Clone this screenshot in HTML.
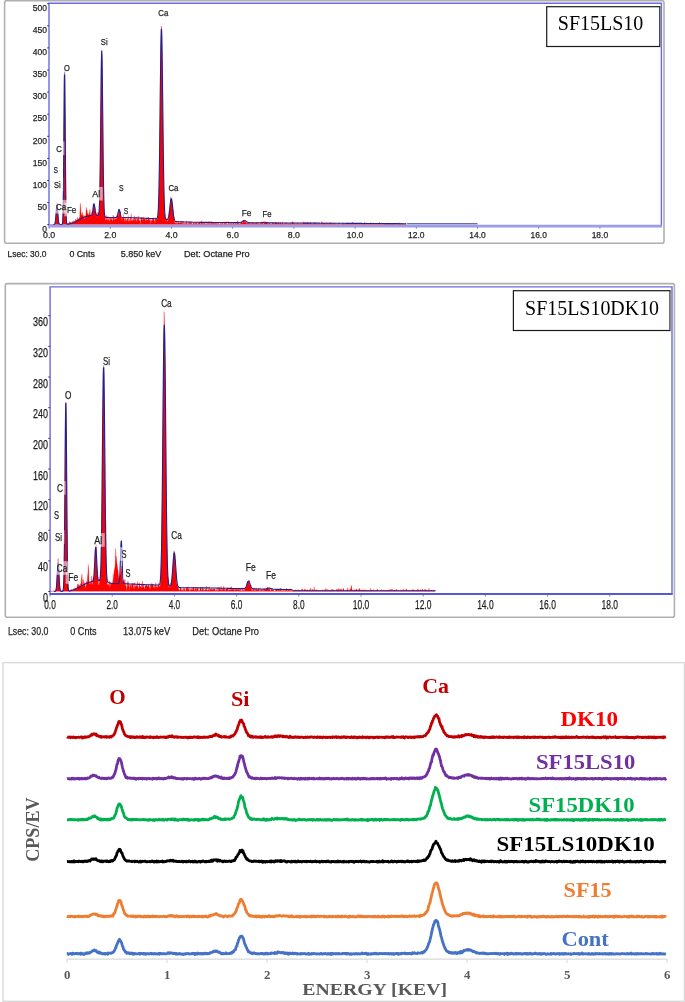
<!DOCTYPE html>
<html><head><meta charset="utf-8"><style>
html,body{margin:0;padding:0;background:#fff;width:685px;height:1002px;overflow:hidden}
svg{display:block;will-change:transform}
</style></head><body>
<svg width="685" height="1002" viewBox="0 0 685 1002">
<g font-family="Liberation Sans, sans-serif" font-size="9.5" fill="#1e1e1e" stroke="#1e1e1e" stroke-width="0.25"><rect x="4.6" y="0.6" width="659.4" height="242.7" rx="2" fill="#fff" stroke="#b0b0b0" stroke-width="1.6"/>
<path d="M48.5,224.5L48.5,224.5L48.87,224.5L49.23,224.5L49.6,224.5L49.97,224.5L50.34,224.5L50.7,224.5L51.07,224.38L51.44,224.5L51.8,224.5L52.17,224.5L52.54,224.5L52.91,224.5L53.27,224.5L53.64,224.5L54.01,224.47L54.38,224.5L54.74,224.06L55.11,222.92L55.48,220.29L55.84,216.21L56.21,209.96L56.58,205.59L56.95,202.4L57.31,204.1L57.68,208.99L58.05,215.66L58.41,219.43L58.78,222.26L59.15,223.73L59.52,224.5L59.88,224.5L60.25,224.5L60.62,224.5L60.98,224.37L61.35,224.5L61.72,224.5L62.09,224.22L62.45,223.63L62.82,218.75L63.19,205.6L63.56,174.74L63.92,124.28L64.29,83.41L64.66,70.39L65.02,105.01L65.39,151.37L65.76,192.62L66.13,212.3L66.49,221.39L66.86,223.9L67.23,224.5L67.59,223.1L67.96,223.75L68.33,223.78L68.7,223L69.06,222.97L69.43,222.17L69.8,221.38L70.16,222.49L70.53,221.92L70.9,222.46L71.27,222.2L71.63,223.19L72,222.8L72.37,222.43L72.74,221.34L73.1,220.9L73.47,223.02L73.84,222.34L74.2,220.67L74.57,223.27L74.94,221.43L75.31,220.82L75.67,219.01L76.04,219.45L76.41,220.48L76.77,220.33L77.14,219.97L77.51,217.38L77.88,219.81L78.24,219.43L78.61,218.29L78.98,218.74L79.34,218.29L79.71,216.57L80.08,207.35L80.45,203.44L80.81,210.18L81.18,215.41L81.55,213.76L81.92,215.86L82.28,212.09L82.65,214.8L83.02,216.44L83.38,215.21L83.75,218.39L84.12,215.25L84.49,218.82L84.85,219.37L85.22,216.06L85.59,217.05L85.95,213.27L86.32,207.33L86.69,209.79L87.06,210.2L87.42,213.24L87.79,213.78L88.16,215.13L88.52,215.16L88.89,213.37L89.26,213.73L89.63,211.84L89.99,209.37L90.36,214.68L90.73,216.84L91.1,214.16L91.46,216.22L91.83,212.07L92.2,212.64L92.56,211.08L92.93,209.93L93.3,203.29L93.67,207.83L94.03,205.31L94.4,203.32L94.77,210.92L95.13,207.49L95.5,215.46L95.87,212.06L96.24,216.23L96.6,213.4L96.97,214.9L97.34,217.12L97.7,212.77L98.07,212.31L98.44,214.98L98.81,214.16L99.17,210.54L99.54,204.38L99.91,184.73L100.28,162.53L100.64,128.03L101.01,93.08L101.38,63.62L101.74,54.29L102.11,59.2L102.48,92.27L102.85,126.88L103.21,163.37L103.58,187.77L103.95,204.93L104.31,213.42L104.68,215.99L105.05,216.87L105.42,218.51L105.78,220.6L106.15,219.66L106.52,215.32L106.88,219.52L107.25,220.26L107.62,217.83L107.99,215.98L108.35,221.12L108.72,218.96L109.09,219.76L109.46,221.81L109.82,217.44L110.19,218.78L110.56,218.62L110.92,220.08L111.29,217.95L111.66,219.71L112.03,219.01L112.39,220.73L112.76,220.92L113.13,215.03L113.49,219.68L113.86,216.28L114.23,218.85L114.6,219.57L114.96,219.69L115.33,217.67L115.7,219.29L116.06,218.94L116.43,218.42L116.8,215.93L117.17,216.03L117.53,215.36L117.9,215.47L118.27,215.23L118.64,209.56L119,208.75L119.37,210.92L119.74,210.74L120.1,211.92L120.47,212.26L120.84,214.89L121.21,218.41L121.57,215.57L121.94,220.83L122.31,217.25L122.67,217.98L123.04,217.33L123.41,212.97L123.78,216.26L124.14,220.43L124.51,221.91L124.88,217.46L125.24,220.72L125.61,218.95L125.98,217.44L126.35,221.86L126.71,221.11L127.08,218.48L127.45,218.87L127.82,219.39L128.18,214.3L128.55,220.5L128.92,221.67L129.28,219.29L129.65,220.73L130.02,221.93L130.39,218.14L130.75,219.16L131.12,213.58L131.49,220.82L131.85,220.25L132.22,220.86L132.59,220.67L132.96,218.79L133.32,220.51L133.69,218.53L134.06,218.58L134.42,215.65L134.79,221.62L135.16,217.67L135.53,219.38L135.89,219.26L136.26,221.76L136.63,220.06L137,216.55L137.36,219.43L137.73,219.16L138.1,219.82L138.46,217.34L138.83,215.78L139.2,221.03L139.57,220.56L139.93,220.55L140.3,224.5L140.67,220.32L141.03,217.15L141.4,219.37L141.77,217.51L142.14,221.08L142.5,217.58L142.87,219.25L143.24,219.46L143.6,216.73L143.97,219.51L144.34,218.23L144.71,218.68L145.07,219.26L145.44,221.4L145.81,218.8L146.18,220.83L146.54,217.86L146.91,219.06L147.28,219.96L147.64,219.76L148.01,219.77L148.38,216.92L148.75,217.38L149.11,220.59L149.48,218.56L149.85,219.23L150.21,224.19L150.58,219.48L150.95,220.01L151.32,219.79L151.68,221.71L152.05,220.4L152.42,220.27L152.78,218.05L153.15,219.47L153.52,220.04L153.89,217.56L154.25,220.97L154.62,220.71L154.99,223.04L155.36,217.56L155.72,218.55L156.09,218.62L156.46,218.96L156.82,219.68L157.19,219.02L157.56,218.61L157.93,216.01L158.29,210.64L158.66,199.31L159.03,186.55L159.39,166.62L159.76,140.04L160.13,108.05L160.5,70.6L160.86,45.52L161.23,25.78L161.6,27.56L161.96,46.22L162.33,69.49L162.7,99.55L163.07,134.78L163.43,163.09L163.8,185.28L164.17,200.17L164.54,212.57L164.9,215.96L165.27,219.52L165.64,218.53L166,221.62L166.37,219.85L166.74,218.51L167.11,221.16L167.47,221.36L167.84,219.72L168.21,219.13L168.57,219.17L168.94,213.92L169.31,209.76L169.68,209.7L170.04,205.88L170.41,203.61L170.78,196.83L171.14,199.78L171.51,199.78L171.88,198.08L172.25,204.37L172.61,205.34L172.98,208.68L173.35,213.95L173.72,216.43L174.08,216.79L174.45,220.95L174.82,222.35L175.18,223.82L175.55,222.46L175.92,220.89L176.29,221.58L176.65,223.85L177.02,223.22L177.39,223.38L177.75,222.46L178.12,223.06L178.49,222.54L178.86,222.51L179.22,223.21L179.59,222.93L179.96,222.38L180.32,223.01L180.69,222.35L181.06,220.82L181.43,222.29L181.79,222.91L182.16,224.5L182.53,220.93L182.9,224.5L183.26,224.5L183.63,222.1L184,222.28L184.36,223.24L184.73,224.5L185.1,223.51L185.47,223.86L185.83,222.45L186.2,220.71L186.57,222.92L186.93,224L187.3,224.43L187.67,223.23L188.04,223.36L188.4,224.41L188.77,223.06L189.14,224.42L189.5,222L189.87,222.06L190.24,222.04L190.61,223.7L190.97,222.66L191.34,223.35L191.71,223.62L192.08,223.57L192.44,224.5L192.81,224.27L193.18,222.39L193.54,223.43L193.91,223.01L194.28,222.19L194.65,224.5L195.01,224.07L195.38,223.07L195.75,222.85L196.11,223.65L196.48,222.2L196.85,223.05L197.22,223.99L197.58,224.24L197.95,222.45L198.32,222.81L198.68,224.5L199.05,221.9L199.42,222.67L199.79,221.91L200.15,223.68L200.52,223.59L200.89,224.44L201.26,220.7L201.62,223.47L201.99,221.67L202.36,223.96L202.72,223.13L203.09,224.5L203.46,223.69L203.83,222.3L204.19,224.5L204.56,222.21L204.93,222.96L205.29,224.36L205.66,223.81L206.03,223.77L206.4,223.36L206.76,223.85L207.13,224.15L207.5,223.62L207.86,222.7L208.23,224.5L208.6,223.36L208.97,221.38L209.33,224.5L209.7,223.31L210.07,223.97L210.44,224.3L210.8,222.46L211.17,223.84L211.54,221.81L211.9,224.1L212.27,222.93L212.64,223.55L213.01,224.08L213.37,222.74L213.74,223.48L214.11,222.72L214.47,223.37L214.84,224.41L215.21,223.43L215.58,223.28L215.94,222.38L216.31,224.24L216.68,222.91L217.04,224.5L217.41,222.69L217.78,224.41L218.15,224.5L218.51,223.4L218.88,222.24L219.25,224.5L219.62,224.42L219.98,224.08L220.35,224.46L220.72,222.03L221.08,224.14L221.45,224.06L221.82,222.77L222.19,222.68L222.55,222.92L222.92,224.31L223.29,224.27L223.65,224.5L224.02,221.52L224.39,223.67L224.76,223.12L225.12,223.39L225.49,223.2L225.86,223.31L226.22,221.49L226.59,224.38L226.96,224.2L227.33,224.35L227.69,224.5L228.06,221.28L228.43,222.56L228.8,224.3L229.16,224.5L229.53,223.71L229.9,222.02L230.26,224.5L230.63,222.86L231,224.41L231.37,222.36L231.73,224.42L232.1,223.65L232.47,224.5L232.83,224.27L233.2,222.04L233.57,222.59L233.94,223.77L234.3,224.22L234.67,224.5L235.04,223.11L235.4,223.42L235.77,223.47L236.14,223.48L236.51,224.47L236.87,223.46L237.24,223.43L237.61,220.63L237.98,221.61L238.34,223.52L238.71,224.12L239.08,223.43L239.44,223.91L239.81,223.99L240.18,223.27L240.55,224.1L240.91,222.37L241.28,222.86L241.65,222.22L242.01,222.41L242.38,222.62L242.75,222.52L243.12,221.53L243.48,220.57L243.85,220.64L244.22,220.79L244.58,222.13L244.95,220.24L245.32,222.43L245.69,222.01L246.05,222.01L246.42,224.03L246.79,222.27L247.16,222.48L247.52,223.01L247.89,223.44L248.26,223.53L248.62,222.76L248.99,223.6L249.36,223.21L249.73,223.34L250.09,224.5L250.46,223.23L250.83,223.33L251.19,223.6L251.56,223.88L251.93,222.29L252.3,223.46L252.66,223.04L253.03,223.25L253.4,223.21L253.76,223.12L254.13,224.09L254.5,223.72L254.87,222.89L255.23,223.09L255.6,223.3L255.97,223.5L256.34,222.99L256.7,222.41L257.07,222.56L257.44,223.28L257.8,224.5L258.17,222.63L258.54,223.63L258.91,224.5L259.27,223.15L259.64,224.5L260.01,224.5L260.37,224.04L260.74,222.27L261.11,223.74L261.48,223.1L261.84,221.69L262.21,221.76L262.58,223.24L262.94,223.29L263.31,224.15L263.68,223.57L264.05,222.5L264.41,222.51L264.78,222.77L265.15,222L265.52,222.71L265.88,223.08L266.25,222.44L266.62,222.36L266.98,222.3L267.35,222.98L267.72,223.68L268.09,222.18L268.45,224.39L268.82,224.5L269.19,223L269.55,223.59L269.92,223.27L270.29,224.5L270.66,223.88L271.02,224.1L271.39,224.34L271.76,224.5L272.12,223.87L272.49,222.77L272.86,223.23L273.23,223.27L273.59,223.59L273.96,222.9L274.33,224.5L274.7,223.69L275.06,223.1L275.43,222.98L275.8,222.07L276.16,222.58L276.53,223.31L276.9,223.32L277.27,222.89L277.63,224.07L278,223.63L278.37,222.8L278.73,221.87L279.1,223.74L279.47,223.64L279.84,223.43L280.2,222.42L280.57,223.63L280.94,222.31L281.3,224.46L281.67,223.77L282.04,223.79L282.41,221.82L282.77,222.7L283.14,224.5L283.51,224.42L283.88,223.32L284.24,224.2L284.61,224.5L284.98,222.45L285.34,223.19L285.71,223.2L286.08,224.04L286.45,222.73L286.81,223.84L287.18,222.68L287.55,224.43L287.91,224.38L288.28,223.46L288.65,224.25L289.02,223.05L289.38,223.42L289.75,224.44L290.12,223.51L290.48,223.95L290.85,222.85L291.22,224.2L291.59,224.03L291.95,222.61L292.32,221.72L292.69,221.93L293.06,223.6L293.42,223.47L293.79,222.34L294.16,223.77L294.52,223.17L294.89,223.56L295.26,223.28L295.63,224.37L295.99,224.5L296.36,224.5L296.73,223.1L297.09,224.32L297.46,223.03L297.83,223.49L298.2,223.15L298.56,223.96L298.93,223.25L299.3,224.44L299.66,223.99L300.03,224.5L300.4,222.72L300.77,223.71L301.13,224.32L301.5,223.27L301.87,223.88L302.24,223.1L302.6,224.5L302.97,224.5L303.34,224.02L303.7,221.56L304.07,222.73L304.44,223.8L304.81,223.1L305.17,221.97L305.54,223.9L305.91,223.46L306.27,222.69L306.64,223.29L307.01,223.15L307.38,224.14L307.74,222.1L308.11,222.28L308.48,223.24L308.84,223.15L309.21,224.5L309.58,223.19L309.95,223.89L310.31,223.36L310.68,221.97L311.05,224.01L311.42,224.5L311.78,223.42L312.15,224.35L312.52,224.01L312.88,224.24L313.25,224.02L313.62,224.5L313.99,222.73L314.35,223.53L314.72,222.82L315.09,222.1L315.45,223.73L315.82,224.5L316.19,223.61L316.56,224.5L316.92,224.17L317.29,223.69L317.66,224.5L318.02,223.47L318.39,224.5L318.76,223.52L319.13,223.85L319.49,224.02L319.86,223.82L320.23,224.21L320.6,224.27L320.96,224.5L321.33,223.79L321.7,221.39L322.06,222.15L322.43,222.69L322.8,223.2L323.17,224.33L323.53,222.6L323.9,223.83L324.27,223.84L324.63,222.74L325,223.71L325.37,222.97L325.74,223.86L326.1,224.5L326.47,224.09L326.84,221.94L327.2,223.85L327.57,223.99L327.94,223.29L328.31,223.23L328.67,223.77L329.04,223.97L329.41,222.58L329.78,223.59L330.14,223.71L330.51,222.03L330.88,224.35L331.24,223.2L331.61,224.23L331.98,222.62L332.35,224.5L332.71,224.35L333.08,224.24L333.45,223.29L333.81,223.34L334.18,222.71L334.55,224.5L334.92,223.23L335.28,224.06L335.65,224.36L336.02,223.4L336.38,224.18L336.75,224.5L337.12,224.13L337.49,224.5L337.85,224.35L338.22,223.54L338.59,223.59L338.96,222.59L339.32,224L339.69,224.23L340.06,224.44L340.42,224.5L340.79,224.5L341.16,223.51L341.53,224.36L341.89,224.5L342.26,223.31L342.63,223.94L342.99,222.88L343.36,223.78L343.73,223.37L344.1,223.83L344.46,222.9L344.83,223.53L345.2,223.56L345.56,223.55L345.93,224.5L346.3,224L346.67,224.07L347.03,223.71L347.4,224.5L347.77,222.61L348.14,223.8L348.5,224.5L348.87,224.5L349.24,224.1L349.6,223.95L349.97,224.44L350.34,223.82L350.71,224.38L351.07,223.47L351.44,224.45L351.81,223.92L352.17,222.39L352.54,221.92L352.91,224.5L353.28,224.26L353.64,224.5L354.01,223.3L354.38,224.5L354.74,224.28L355.11,223.93L355.48,224.5L355.85,223.5L356.21,224.28L356.58,224.5L356.95,224.5L357.32,223.75L357.68,223.81L358.05,224.06L358.42,224.5L358.78,224.28L359.15,223.32L359.52,223.51L359.89,223.99L360.25,224.5L360.62,223.46L360.99,224.37L361.35,224.5L361.72,224.5L362.09,222.86L362.46,223.78L362.82,223.08L363.19,224.31L363.56,223.25L363.92,224.4L364.29,224.07L364.66,222.1L365.03,223.39L365.39,223.61L365.76,224.02L366.13,223.72L366.5,222.77L366.86,224.33L367.23,224.5L367.6,224.18L367.96,223.96L368.33,223.89L368.7,223.01L369.07,223.75L369.43,223.38L369.8,224.13L370.17,223.35L370.53,222.45L370.9,223.42L371.27,223.8L371.64,223.88L372,222.69L372.37,224.5L372.74,224.08L373.1,223.66L373.47,222.78L373.84,224.32L374.21,223.78L374.57,223.76L374.94,223.92L375.31,224.11L375.68,224.5L376.04,224.03L376.41,223.38L376.78,224.5L377.14,224.19L377.51,223.54L377.88,224.5L378.25,223.89L378.61,224.5L378.98,223.22L379.35,222.38L379.71,222.59L380.08,223.65L380.45,223.51L380.82,223.95L381.18,223.97L381.55,222.94L381.92,224.5L382.28,223.3L382.65,224.08L383.02,223L383.39,223.92L383.75,224.5L384.12,223.86L384.49,223.54L384.86,224.03L385.22,223.72L385.59,224.43L385.96,224.5L386.32,223.44L386.69,223.58L387.06,223.97L387.43,224.02L387.79,222.86L388.16,224.39L388.53,224.5L388.89,224.21L389.26,223.26L389.63,224.5L390,223.26L390.36,224.13L390.73,224.5L391.1,223.22L391.46,224.16L391.83,224.5L392.2,224.34L392.57,223.46L392.93,223.28L393.3,224.39L393.67,223.83L394.04,223.62L394.4,224.5L394.77,223.87L395.14,224.13L395.5,224.48L395.87,224.45L396.24,224.07L396.61,224.1L396.97,224.5L397.34,224.41L397.71,223.37L398.07,223.98L398.44,223.53L398.81,223.32L399.18,223.74L399.54,222.61L399.91,224.5L400.28,223.6L400.64,224.35L401.01,222.9L401.38,223.01L401.75,224.5L402.11,224.5L402.48,223.71L402.85,223.63L403.22,223.66L403.58,224.2L403.95,223.86L404.32,223.73L404.68,224.21L405.05,223.49L405.42,224.5L405.79,223.74L406.15,224.5L406.15,224.5Z" fill="#ff0000" stroke="#ff2020" stroke-width="0.3"/>
<path d="M53.09,224.7L53.27,224.7L53.46,224.69L53.64,224.68L53.82,224.67L54.01,224.64L54.19,224.59L54.38,224.49L54.56,224.32L54.74,224.03L54.93,223.57L55.11,222.87L55.29,221.85L55.48,220.47L55.66,218.69L55.84,216.55L56.03,214.14L56.21,211.62L56.39,209.22L56.58,207.21L56.76,205.81L56.95,205.23L57.13,205.52L57.31,206.66L57.5,208.48L57.68,210.78L57.86,213.28L58.05,215.75L58.23,217.99L58.41,219.89L58.6,221.4L58.78,222.53L58.97,223.33L59.15,223.86L59.33,224.2L59.52,224.4L59.7,224.51L59.88,224.57L60.07,224.6L60.25,224.62L60.43,224.62L60.62,224.63L60.8,224.62L60.98,224.62L61.17,224.62L61.35,224.62L61.54,224.61L61.72,224.6L61.9,224.55L62.09,224.44L62.27,224.15L62.45,223.49L62.64,222.07L62.82,219.26L63,214.16L63.19,205.67L63.37,192.73L63.56,174.81L63.74,152.37L63.92,127.34L64.11,103.03L64.29,83.53L64.47,72.64L64.66,72.63L64.84,83.52L65.02,103.02L65.21,127.33L65.39,152.36L65.57,174.79L65.76,192.71L65.94,205.64L66.13,214.13L66.31,219.23L66.49,222.03L66.68,223.45L66.86,224.11L67.04,224.35L67.23,224.43L67.41,224.43L67.59,224.41L67.78,224.37L67.96,224.33L68.15,224.3L68.33,224.26L68.51,224.22L68.7,224.18L68.88,224.14L69.06,224.1L69.25,224.06L69.43,224.02L69.61,223.98L69.8,223.95L69.98,223.91L70.16,223.87L70.35,223.83L70.53,223.79L70.72,223.75L70.9,223.71L71.08,223.67L71.27,223.63L71.45,223.59L71.63,223.51L71.82,223.42L72,223.33L72.18,223.24L72.37,223.15L72.55,223.06L72.74,222.98L72.92,222.89L73.1,222.8L73.29,222.71L73.47,222.62L73.65,222.53L73.84,222.45L74.02,222.36L74.2,222.27L74.39,222.18L74.57,222.09L74.75,222L74.94,221.92L75.12,221.83L75.31,221.74L75.49,221.65L75.67,221.56L75.86,221.47L76.04,221.38L76.22,221.29L76.41,221.19L76.59,221.09L76.77,221L76.96,220.9L77.14,220.8L77.33,220.7L77.51,220.61L77.69,220.51L77.88,220.41L78.06,220.32L78.24,220.22L78.43,220.12L78.61,220.02L78.79,219.93L78.98,219.83L79.16,219.73L79.34,219.63L79.53,219.54L79.71,219.44L79.9,219.34L80.08,219.25L80.26,219.15L80.45,219.05L80.63,218.95L80.81,218.86L81,218.77L81.18,218.67L81.36,218.58L81.55,218.48L81.73,218.39L81.92,218.3L82.1,218.2L82.28,218.11L82.47,218.02L82.65,217.92L82.83,217.83L83.02,217.73L83.2,217.64L83.38,217.55L83.57,217.45L83.75,217.36L83.93,217.26L84.12,217.17L84.3,217.08L84.49,216.98L84.67,216.9L84.85,216.86L85.04,216.81L85.22,216.76L85.4,216.71L85.59,216.66L85.77,216.61L85.95,216.56L86.14,216.52L86.32,216.47L86.51,216.42L86.69,216.37L86.87,216.32L87.06,216.27L87.24,216.22L87.42,216.18L87.61,216.13L87.79,216.08L87.97,216.03L88.16,215.98L88.34,215.94L88.52,215.92L88.71,215.9L88.89,215.88L89.08,215.86L89.26,215.84L89.44,215.81L89.63,215.79L89.81,215.77L89.99,215.75L90.18,215.73L90.36,215.7L90.54,215.68L90.73,215.65L90.91,215.6L91.1,215.55L91.28,215.46L91.46,215.33L91.65,215.13L91.83,214.84L92.01,214.42L92.2,213.83L92.38,213.06L92.56,212.08L92.75,210.92L92.93,209.6L93.11,208.22L93.3,206.86L93.48,205.65L93.67,204.7L93.85,204.11L94.03,203.97L94.22,204.27L94.4,205L94.58,206.06L94.77,207.35L94.95,208.74L95.13,210.11L95.32,211.37L95.5,212.47L95.69,213.36L95.87,214.05L96.05,214.56L96.24,214.92L96.42,215.16L96.6,215.32L96.79,215.42L96.97,215.47L97.15,215.51L97.34,215.52L97.52,215.53L97.7,215.52L97.89,215.49L98.07,215.42L98.26,215.28L98.44,215.02L98.62,214.56L98.81,213.75L98.99,212.43L99.17,210.33L99.36,207.13L99.54,202.46L99.72,195.91L99.91,187.12L100.09,175.82L100.28,161.96L100.46,145.78L100.64,127.89L100.83,109.23L101.01,91.05L101.19,74.78L101.38,61.89L101.56,53.61L101.74,50.8L101.93,53.75L102.11,62.17L102.29,75.2L102.48,91.61L102.66,109.94L102.85,128.74L103.03,146.75L103.21,163.01L103.4,176.94L103.58,188.31L103.76,197.18L103.95,203.81L104.13,208.55L104.31,211.83L104.5,214L104.68,215.41L104.87,216.28L105.05,216.83L105.23,217.12L105.42,217.28L105.6,217.36L105.78,217.41L105.97,217.43L106.15,217.45L106.33,217.46L106.52,217.47L106.7,217.48L106.88,217.49L107.07,217.5L107.25,217.51L107.44,217.52L107.62,217.53L107.8,217.54L107.99,217.55L108.17,217.55L108.35,217.56L108.54,217.57L108.72,217.58L108.9,217.59L109.09,217.6L109.27,217.61L109.46,217.62L109.64,217.63L109.82,217.63L110.01,217.63L110.19,217.63L110.37,217.62L110.56,217.62L110.74,217.62L110.92,217.62L111.11,217.62L111.29,217.62L111.47,217.62L111.66,217.62L111.84,217.62L112.03,217.62L112.21,217.62L112.39,217.62L112.58,217.61L112.76,217.61L112.94,217.61L113.13,217.61L113.31,217.61L113.49,217.61L113.68,217.61L113.86,217.61L114.05,217.61L114.23,217.61L114.41,217.6L114.6,217.6L114.78,217.6L114.96,217.6L115.15,217.59L115.33,217.59L115.51,217.57L115.7,217.55L115.88,217.52L116.06,217.46L116.25,217.38L116.43,217.26L116.62,217.08L116.8,216.84L116.98,216.52L117.17,216.1L117.35,215.58L117.53,214.95L117.72,214.24L117.9,213.45L118.08,212.62L118.27,211.81L118.45,211.06L118.64,210.42L118.82,209.95L119,209.68L119.19,209.64L119.37,209.83L119.55,210.24L119.74,210.82L119.92,211.54L120.1,212.34L120.29,213.16L120.47,213.97L120.65,214.71L120.84,215.36L121.02,215.92L121.21,216.37L121.39,216.72L121.57,216.99L121.76,217.18L121.94,217.32L122.12,217.41L122.31,217.47L122.49,217.51L122.67,217.53L122.86,217.55L123.04,217.55L123.23,217.56L123.41,217.56L123.59,217.56L123.78,217.56L123.96,217.56L124.14,217.56L124.33,217.56L124.51,217.56L124.69,217.56L124.88,217.55L125.06,217.55L125.24,217.55L125.43,217.55L125.61,217.55L125.8,217.55L125.98,217.55L126.16,217.55L126.35,217.55L126.53,217.55L126.71,217.55L126.9,217.55L127.08,217.54L127.26,217.54L127.45,217.54L127.63,217.54L127.82,217.54L128,217.54L128.18,217.54L128.37,217.55L128.55,217.56L128.73,217.57L128.92,217.58L129.1,217.58L129.28,217.59L129.47,217.6L129.65,217.61L129.83,217.62L130.02,217.62L130.2,217.63L130.39,217.64L130.57,217.65L130.75,217.66L130.94,217.66L131.12,217.67L131.3,217.68L131.49,217.69L131.67,217.7L131.85,217.7L132.04,217.71L132.22,217.72L132.41,217.73L132.59,217.74L132.77,217.74L132.96,217.75L133.14,217.76L133.32,217.77L133.51,217.78L133.69,217.78L133.87,217.79L134.06,217.8L134.24,217.81L134.42,217.82L134.61,217.82L134.79,217.83L134.98,217.84L135.16,217.85L135.34,217.86L135.53,217.86L135.71,217.87L135.89,217.88L136.08,217.89L136.26,217.89L136.44,217.9L136.63,217.91L136.81,217.92L137,217.93L137.18,217.93L137.36,217.94L137.55,217.95L137.73,217.96L137.91,217.97L138.1,217.97L138.28,217.98L138.46,217.99L138.65,218L138.83,218.01L139.01,218.01L139.2,218.02L139.38,218.03L139.57,218.04L139.75,218.05L139.93,218.05L140.12,218.06L140.3,218.07L140.48,218.08L140.67,218.09L140.85,218.09L141.03,218.1L141.22,218.11L141.4,218.12L141.59,218.13L141.77,218.14L141.95,218.14L142.14,218.15L142.32,218.16L142.5,218.17L142.69,218.18L142.87,218.19L143.05,218.19L143.24,218.2L143.42,218.21L143.6,218.22L143.79,218.23L143.97,218.24L144.16,218.24L144.34,218.25L144.52,218.26L144.71,218.27L144.89,218.28L145.07,218.28L145.26,218.29L145.44,218.3L145.62,218.31L145.81,218.32L145.99,218.33L146.18,218.33L146.36,218.34L146.54,218.35L146.73,218.36L146.91,218.37L147.09,218.38L147.28,218.38L147.46,218.39L147.64,218.4L147.83,218.41L148.01,218.42L148.19,218.42L148.38,218.43L148.56,218.44L148.75,218.45L148.93,218.46L149.11,218.47L149.3,218.47L149.48,218.48L149.66,218.49L149.85,218.5L150.03,218.51L150.21,218.52L150.4,218.52L150.58,218.53L150.77,218.54L150.95,218.55L151.13,218.56L151.32,218.57L151.5,218.57L151.68,218.58L151.87,218.59L152.05,218.6L152.23,218.61L152.42,218.61L152.6,218.62L152.78,218.63L152.97,218.64L153.15,218.65L153.34,218.66L153.52,218.66L153.7,218.67L153.89,218.68L154.07,218.69L154.25,218.7L154.44,218.7L154.62,218.71L154.8,218.72L154.99,218.73L155.17,218.74L155.36,218.74L155.54,218.75L155.72,218.75L155.91,218.75L156.09,218.74L156.27,218.73L156.46,218.69L156.64,218.62L156.82,218.51L157.01,218.33L157.19,218.03L157.37,217.57L157.56,216.87L157.74,215.85L157.93,214.38L158.11,212.31L158.29,209.48L158.48,205.68L158.66,200.71L158.84,194.38L159.03,186.5L159.21,176.95L159.39,165.67L159.58,152.73L159.76,138.3L159.95,122.71L160.13,106.42L160.31,90.03L160.5,74.25L160.68,59.81L160.86,47.46L161.05,37.89L161.23,31.64L161.41,29.1L161.6,30.41L161.78,35.49L161.96,44.06L162.15,55.59L162.33,69.46L162.52,84.93L162.7,101.23L162.88,117.66L163.07,133.58L163.25,148.47L163.43,161.96L163.62,173.83L163.8,183.99L163.98,192.44L164.17,199.3L164.35,204.73L164.54,208.93L164.72,212.09L164.9,214.43L165.09,216.11L165.27,217.3L165.45,218.12L165.64,218.68L165.82,219.05L166,219.29L166.19,219.44L166.37,219.54L166.55,219.59L166.74,219.61L166.92,219.6L167.11,219.56L167.29,219.49L167.47,219.37L167.66,219.19L167.84,218.95L168.02,218.61L168.21,218.17L168.39,217.61L168.57,216.9L168.76,216.03L168.94,215L169.13,213.79L169.31,212.42L169.49,210.92L169.68,209.31L169.86,207.62L170.04,205.92L170.23,204.26L170.41,202.71L170.59,201.34L170.78,200.23L170.96,199.42L171.14,198.96L171.33,198.87L171.51,199.17L171.7,199.84L171.88,200.85L172.06,202.14L172.25,203.66L172.43,205.34L172.61,207.11L172.8,208.9L172.98,210.66L173.16,212.32L173.35,213.86L173.53,215.24L173.72,216.46L173.9,217.5L174.08,218.38L174.27,219.1L174.45,219.69L174.63,220.16L174.82,220.53L175,220.82L175.18,221.04L175.37,221.21L175.55,221.34L175.73,221.41L175.92,221.46L176.1,221.5L176.29,221.53L176.47,221.55L176.65,221.56L176.84,221.58L177.02,221.59L177.2,221.6L177.39,221.61L177.57,221.62L177.75,221.63L177.94,221.64L178.12,221.65L178.31,221.66L178.49,221.67L178.67,221.68L178.86,221.68L179.04,221.69L179.22,221.7L179.41,221.71L179.59,221.72L179.77,221.73L179.96,221.74L180.14,221.75L180.32,221.76L180.51,221.77L180.69,221.78L180.88,221.78L181.06,221.79L181.24,221.8L181.43,221.81L181.61,221.82L181.79,221.83L181.98,221.84L182.16,221.85L182.34,221.86L182.53,221.87L182.71,221.88L182.9,221.88L183.08,221.89L183.26,221.9L183.45,221.91L183.63,221.92L183.81,221.93L184,221.94L184.18,221.95L184.36,221.96L184.55,221.97L184.73,221.98L184.91,221.98L185.1,221.99L185.28,222L185.47,222.01L185.65,222.02L185.83,222.03L186.02,222.04L186.2,222.05L186.38,222.05L186.57,222.06L186.75,222.06L186.93,222.06L187.12,222.07L187.3,222.07L187.49,222.08L187.67,222.08L187.85,222.08L188.04,222.09L188.22,222.09L188.4,222.1L188.59,222.1L188.77,222.1L188.95,222.11L189.14,222.11L189.32,222.12L189.5,222.12L189.69,222.12L189.87,222.13L190.06,222.13L190.24,222.14L190.42,222.14L190.61,222.14L190.79,222.15L190.97,222.15L191.16,222.16L191.34,222.16L191.52,222.16L191.71,222.17L191.89,222.17L192.08,222.18L192.26,222.18L192.44,222.18L192.63,222.19L192.81,222.19L192.99,222.2L193.18,222.2L193.36,222.2L193.54,222.21L193.73,222.21L193.91,222.22L194.09,222.22L194.28,222.22L194.46,222.23L194.65,222.23L194.83,222.23L195.01,222.24L195.2,222.24L195.38,222.25L195.56,222.25L195.75,222.25L195.93,222.26L196.11,222.26L196.3,222.27L196.48,222.27L196.67,222.27L196.85,222.28L197.03,222.28L197.22,222.29L197.4,222.29L197.58,222.29L197.77,222.3L197.95,222.3L198.13,222.31L198.32,222.31L198.5,222.31L198.68,222.32L198.87,222.32L199.05,222.32L199.24,222.32L199.42,222.32L199.6,222.32L199.79,222.32L199.97,222.33L200.15,222.33L200.34,222.33L200.52,222.33L200.7,222.33L200.89,222.33L201.07,222.33L201.26,222.34L201.44,222.34L201.62,222.34L201.81,222.34L201.99,222.34L202.17,222.34L202.36,222.34L202.54,222.35L202.72,222.35L202.91,222.35L203.09,222.35L203.27,222.35L203.46,222.35L203.64,222.35L203.83,222.36L204.01,222.36L204.19,222.36L204.38,222.36L204.56,222.36L204.74,222.36L204.93,222.36L205.11,222.37L205.29,222.37L205.48,222.37L205.66,222.37L205.85,222.37L206.03,222.37L206.21,222.37L206.4,222.38L206.58,222.38L206.76,222.38L206.95,222.38L207.13,222.38L207.31,222.38L207.5,222.38L207.68,222.39L207.86,222.39L208.05,222.39L208.23,222.39L208.42,222.39L208.6,222.39L208.78,222.39L208.97,222.4L209.15,222.4L209.33,222.4L209.52,222.4L209.7,222.4L209.88,222.4L210.07,222.4L210.25,222.41L210.44,222.41L210.62,222.41L210.8,222.41L210.99,222.41L211.17,222.41L211.35,222.41L211.54,222.42L211.72,222.42L211.9,222.42L212.09,222.42L212.27,222.42L212.45,222.42L212.64,222.43L212.82,222.43L213.01,222.43L213.19,222.43L213.37,222.43L213.56,222.43L213.74,222.43L213.92,222.44L214.11,222.44L214.29,222.44L214.47,222.44L214.66,222.44L214.84,222.44L215.03,222.44L215.21,222.45L215.39,222.45L215.58,222.45L215.76,222.45L215.94,222.45L216.13,222.45L216.31,222.45L216.49,222.46L216.68,222.46L216.86,222.46L217.04,222.46L217.23,222.46L217.41,222.46L217.6,222.46L217.78,222.47L217.96,222.47L218.15,222.47L218.33,222.47L218.51,222.47L218.7,222.47L218.88,222.47L219.06,222.48L219.25,222.48L219.43,222.48L219.62,222.48L219.8,222.48L219.98,222.48L220.17,222.48L220.35,222.49L220.53,222.49L220.72,222.49L220.9,222.49L221.08,222.49L221.27,222.49L221.45,222.49L221.63,222.5L221.82,222.5L222,222.5L222.19,222.5L222.37,222.5L222.55,222.5L222.74,222.5L222.92,222.51L223.1,222.51L223.29,222.51L223.47,222.51L223.65,222.51L223.84,222.51L224.02,222.51L224.21,222.52L224.39,222.52L224.57,222.52L224.76,222.52L224.94,222.52L225.12,222.52L225.31,222.52L225.49,222.53L225.67,222.53L225.86,222.53L226.04,222.53L226.22,222.53L226.41,222.53L226.59,222.54L226.78,222.54L226.96,222.54L227.14,222.54L227.33,222.54L227.51,222.54L227.69,222.54L227.88,222.55L228.06,222.55L228.24,222.55L228.43,222.55L228.61,222.55L228.8,222.55L228.98,222.55L229.16,222.56L229.35,222.56L229.53,222.56L229.71,222.56L229.9,222.56L230.08,222.56L230.26,222.56L230.45,222.57L230.63,222.57L230.81,222.57L231,222.57L231.18,222.57L231.37,222.57L231.55,222.57L231.73,222.58L231.92,222.58L232.1,222.58L232.28,222.58L232.47,222.58L232.65,222.58L232.83,222.58L233.02,222.59L233.2,222.59L233.39,222.59L233.57,222.59L233.75,222.59L233.94,222.59L234.12,222.59L234.3,222.6L234.49,222.6L234.67,222.6L234.85,222.6L235.04,222.6L235.22,222.6L235.4,222.6L235.59,222.61L235.77,222.61L235.96,222.61L236.14,222.61L236.32,222.61L236.51,222.61L236.69,222.61L236.87,222.61L237.06,222.62L237.24,222.62L237.42,222.62L237.61,222.62L237.79,222.62L237.98,222.62L238.16,222.62L238.34,222.62L238.53,222.61L238.71,222.61L238.89,222.6L239.08,222.6L239.26,222.59L239.44,222.57L239.63,222.55L239.81,222.53L239.99,222.5L240.18,222.47L240.36,222.43L240.55,222.38L240.73,222.33L240.91,222.26L241.1,222.18L241.28,222.1L241.46,222L241.65,221.9L241.83,221.78L242.01,221.66L242.2,221.54L242.38,221.41L242.57,221.27L242.75,221.14L242.93,221.01L243.12,220.89L243.3,220.78L243.48,220.68L243.67,220.6L243.85,220.54L244.03,220.49L244.22,220.47L244.4,220.46L244.58,220.48L244.77,220.53L244.95,220.59L245.14,220.67L245.32,220.76L245.5,220.87L245.69,220.99L245.87,221.12L246.05,221.26L246.24,221.39L246.42,221.53L246.6,221.66L246.79,221.78L246.97,221.9L247.16,222.01L247.34,222.11L247.52,222.21L247.71,222.29L247.89,222.36L248.07,222.42L248.26,222.48L248.44,222.52L248.62,222.56L248.81,222.59L248.99,222.62L249.17,222.64L249.36,222.66L249.54,222.67L249.73,222.68L249.91,222.69L250.09,222.7L250.28,222.71L250.46,222.71L250.64,222.72L250.83,222.72L251.01,222.72L251.19,222.72L251.38,222.73L251.56,222.73L251.75,222.73L251.93,222.73L252.11,222.73L252.3,222.73L252.48,222.74L252.66,222.74L252.85,222.74L253.03,222.74L253.21,222.74L253.4,222.74L253.58,222.74L253.76,222.75L253.95,222.75L254.13,222.75L254.32,222.75L254.5,222.75L254.68,222.75L254.87,222.75L255.05,222.76L255.23,222.76L255.42,222.76L255.6,222.76L255.78,222.76L255.97,222.76L256.15,222.76L256.34,222.77L256.52,222.77L256.7,222.77L256.89,222.77L257.07,222.77L257.25,222.77L257.44,222.77L257.62,222.77L257.8,222.78L257.99,222.78L258.17,222.78L258.35,222.78L258.54,222.78L258.72,222.78L258.91,222.78L259.09,222.78L259.27,222.78L259.46,222.78L259.64,222.78L259.82,222.77L260.01,222.77L260.19,222.76L260.37,222.76L260.56,222.75L260.74,222.74L260.93,222.72L261.11,222.71L261.29,222.69L261.48,222.67L261.66,222.65L261.84,222.63L262.03,222.6L262.21,222.57L262.39,222.54L262.58,222.51L262.76,222.48L262.94,222.45L263.13,222.42L263.31,222.39L263.5,222.37L263.68,222.35L263.86,222.33L264.05,222.31L264.23,222.3L264.41,222.3L264.6,222.3L264.78,222.3L264.96,222.32L265.15,222.33L265.33,222.35L265.52,222.38L265.7,222.4L265.88,222.43L266.07,222.47L266.25,222.5L266.43,222.53L266.62,222.57L266.8,222.6L266.98,222.63L267.17,222.66L267.35,222.69L267.53,222.71L267.72,222.73L267.9,222.76L268.09,222.77L268.27,222.79L268.45,222.8L268.64,222.82L268.82,222.83L269,222.84L269.19,222.84L269.37,222.85L269.55,222.85L269.74,222.86L269.92,222.86L270.11,222.87L270.29,222.87L270.47,222.87L270.66,222.87L270.84,222.88L271.02,222.88L271.21,222.88L271.39,222.88L271.57,222.88L271.76,222.88L271.94,222.89L272.12,222.89L272.31,222.89L272.49,222.89L272.68,222.89L272.86,222.89L273.04,222.89L273.23,222.9L273.41,222.9L273.59,222.9L273.78,222.9L273.96,222.9L274.14,222.9L274.33,222.9L274.51,222.91L274.7,222.91L274.88,222.91L275.06,222.91L275.25,222.91L275.43,222.91L275.61,222.91L275.8,222.92L275.98,222.92L276.16,222.92L276.35,222.92L276.53,222.92L276.71,222.92L276.9,222.92L277.08,222.92L277.27,222.93L277.45,222.93L277.63,222.93L277.82,222.93L278,222.93L278.18,222.93L278.37,222.93L278.55,222.94L278.73,222.94L278.92,222.94L279.1,222.94L279.29,222.94L279.47,222.94L279.65,222.94L279.84,222.94L280.02,222.94L280.2,222.94L280.39,222.95L280.57,222.95L280.75,222.95L280.94,222.95L281.12,222.95L281.3,222.95L281.49,222.95L281.67,222.95L281.86,222.95L282.04,222.96L282.22,222.96L282.41,222.96L282.59,222.96L282.77,222.96L282.96,222.96L283.14,222.96L283.32,222.96L283.51,222.96L283.69,222.96L283.88,222.97L284.06,222.97L284.24,222.97L284.43,222.97L284.61,222.97L284.79,222.97L284.98,222.97L285.16,222.97L285.34,222.97L285.53,222.98L285.71,222.98L285.89,222.98L286.08,222.98L286.26,222.98L286.45,222.98L286.63,222.98L286.81,222.98L287,222.98L287.18,222.99L287.36,222.99L287.55,222.99L287.73,222.99L287.91,222.99L288.1,222.99L288.28,222.99L288.47,222.99L288.65,222.99L288.83,222.99L289.02,223L289.2,223L289.38,223L289.57,223L289.75,223L289.93,223L290.12,223L290.3,223L290.48,223L290.67,223.01L290.85,223.01L291.04,223.01L291.22,223.01L291.4,223.01L291.59,223.01L291.77,223.01L291.95,223.01L292.14,223.01L292.32,223.01L292.5,223.02L292.69,223.02L292.87,223.02L293.06,223.02L293.24,223.02L293.42,223.02L293.61,223.02L293.79,223.02L293.97,223.02L294.16,223.03L294.34,223.03L294.52,223.03L294.71,223.03L294.89,223.03L295.07,223.03L295.26,223.03L295.44,223.03L295.63,223.03L295.81,223.03L295.99,223.04L296.18,223.04L296.36,223.04L296.54,223.04L296.73,223.04L296.91,223.04L297.09,223.04L297.28,223.04L297.46,223.04L297.65,223.05L297.83,223.05L298.01,223.05L298.2,223.05L298.38,223.05L298.56,223.05L298.75,223.05L298.93,223.05L299.11,223.05L299.3,223.06L299.48,223.06L299.66,223.06L299.85,223.06L300.03,223.06L300.22,223.06L300.4,223.06L300.58,223.06L300.77,223.06L300.95,223.06L301.13,223.07L301.32,223.07L301.5,223.07L301.68,223.07L301.87,223.07L302.05,223.07L302.24,223.07L302.42,223.07L302.6,223.07L302.79,223.08L302.97,223.08L303.15,223.08L303.34,223.08L303.52,223.08L303.7,223.08L303.89,223.08L304.07,223.08L304.25,223.08L304.44,223.08L304.62,223.09L304.81,223.09L304.99,223.09L305.17,223.09L305.36,223.09L305.54,223.09L305.72,223.09L305.91,223.09L306.09,223.09L306.27,223.1L306.46,223.1L306.64,223.1L306.83,223.1L307.01,223.1L307.19,223.1L307.38,223.1L307.56,223.1L307.74,223.1L307.93,223.1L308.11,223.11L308.29,223.11L308.48,223.11L308.66,223.11L308.84,223.11L309.03,223.11L309.21,223.11L309.4,223.11L309.58,223.11L309.76,223.12L309.95,223.12L310.13,223.12L310.31,223.12L310.5,223.12L310.68,223.12L310.86,223.12L311.05,223.12L311.23,223.12L311.42,223.13L311.6,223.13L311.78,223.13L311.97,223.13L312.15,223.13L312.33,223.13L312.52,223.13L312.7,223.13L312.88,223.13L313.07,223.13L313.25,223.14L313.43,223.14L313.62,223.14L313.8,223.14L313.99,223.14L314.17,223.14L314.35,223.14L314.54,223.14L314.72,223.14L314.9,223.15L315.09,223.15L315.27,223.15L315.45,223.15L315.64,223.15L315.82,223.15L316.01,223.15L316.19,223.15L316.37,223.15L316.56,223.15L316.74,223.16L316.92,223.16L317.11,223.16L317.29,223.16L317.47,223.16L317.66,223.16L317.84,223.16L318.02,223.16L318.21,223.16L318.39,223.17L318.58,223.17L318.76,223.17L318.94,223.17L319.13,223.17L319.31,223.17L319.49,223.17L319.68,223.17L319.86,223.17L320.04,223.17L320.23,223.18L320.41,223.18L320.6,223.18L320.78,223.18L320.96,223.18L321.15,223.18L321.33,223.18L321.51,223.18L321.7,223.18L321.88,223.19L322.06,223.19L322.25,223.19L322.43,223.19L322.61,223.19L322.8,223.19L322.98,223.19L323.17,223.19L323.35,223.19L323.53,223.2L323.72,223.2L323.9,223.2L324.08,223.2L324.27,223.2L324.45,223.2L324.63,223.2L324.82,223.2L325,223.2L325.19,223.2L325.37,223.21L325.55,223.21L325.74,223.21L325.92,223.21L326.1,223.21L326.29,223.21L326.47,223.21L326.65,223.21L326.84,223.21L327.02,223.22L327.2,223.22L327.39,223.22L327.57,223.22L327.76,223.22L327.94,223.22L328.12,223.22L328.31,223.22L328.49,223.22L328.67,223.22L328.86,223.23L329.04,223.23L329.22,223.23L329.41,223.23L329.59,223.23L329.78,223.23L329.96,223.23L330.14,223.23L330.33,223.23L330.51,223.24L330.69,223.24L330.88,223.24L331.06,223.24L331.24,223.24L331.43,223.24L331.61,223.24L331.79,223.24L331.98,223.24L332.16,223.24L332.35,223.25L332.53,223.25L332.71,223.25L332.9,223.25L333.08,223.25L333.26,223.25L333.45,223.25L333.63,223.25L333.81,223.25L334,223.26L334.18,223.26L334.37,223.26L334.55,223.26L334.73,223.26L334.92,223.26L335.1,223.26L335.28,223.26L335.47,223.26L335.65,223.27L335.83,223.27L336.02,223.27L336.2,223.27L336.38,223.27L336.57,223.27L336.75,223.27L336.94,223.27L337.12,223.27L337.3,223.27L337.49,223.28L337.67,223.28L337.85,223.28L338.04,223.28L338.22,223.28L338.4,223.28L338.59,223.28L338.77,223.28L338.96,223.28L339.14,223.29L339.32,223.29L339.51,223.29L339.69,223.29L339.87,223.29L340.06,223.29L340.24,223.29L340.42,223.29L340.61,223.29L340.79,223.29L340.97,223.3L341.16,223.3L341.34,223.3L341.53,223.3L341.71,223.3L341.89,223.3L342.08,223.3L342.26,223.3L342.44,223.3L342.63,223.31L342.81,223.31L342.99,223.31L343.18,223.31L343.36,223.31L343.55,223.31L343.73,223.31L343.91,223.31L344.1,223.31L344.28,223.31L344.46,223.32L344.65,223.32L344.83,223.32L345.01,223.32L345.2,223.32L345.38,223.32L345.56,223.32L345.75,223.32L345.93,223.32L346.12,223.33L346.3,223.33L346.48,223.33L346.67,223.33L346.85,223.33L347.03,223.33L347.22,223.33L347.4,223.33L347.58,223.33L347.77,223.34L347.95,223.34L348.14,223.34L348.32,223.34L348.5,223.34L348.69,223.34L348.87,223.34L349.05,223.34L349.24,223.34L349.42,223.34L349.6,223.35L349.79,223.35L349.97,223.35L350.15,223.35L350.34,223.35L350.52,223.35L350.71,223.35L350.89,223.35L351.07,223.35L351.26,223.36L351.44,223.36L351.62,223.36L351.81,223.36L351.99,223.36L352.17,223.36L352.36,223.36L352.54,223.36L352.73,223.36L352.91,223.36L353.09,223.37L353.28,223.37L353.46,223.37L353.64,223.37L353.83,223.37L354.01,223.37L354.19,223.37L354.38,223.37L354.56,223.37L354.74,223.38L354.93,223.38L355.11,223.38L355.3,223.38L355.48,223.38L355.66,223.38L355.85,223.38L356.03,223.38L356.21,223.39L356.4,223.39L356.58,223.39L356.76,223.39L356.95,223.39L357.13,223.39L357.32,223.39L357.5,223.39L357.68,223.4L357.87,223.4L358.05,223.4L358.23,223.4L358.42,223.4L358.6,223.4L358.78,223.4L358.97,223.4L359.15,223.41L359.33,223.41L359.52,223.41L359.7,223.41L359.89,223.41L360.07,223.41L360.25,223.41L360.44,223.41L360.62,223.42L360.8,223.42L360.99,223.42L361.17,223.42L361.35,223.42L361.54,223.42L361.72,223.42L361.91,223.42L362.09,223.43L362.27,223.43L362.46,223.43L362.64,223.43L362.82,223.43L363.01,223.43L363.19,223.43L363.37,223.43L363.56,223.44L363.74,223.44L363.92,223.44L364.11,223.44L364.29,223.44L364.48,223.44L364.66,223.44L364.84,223.44L365.03,223.45L365.21,223.45L365.39,223.45L365.58,223.45L365.76,223.45L365.94,223.45L366.13,223.45L366.31,223.45L366.5,223.46L366.68,223.46L366.86,223.46L367.05,223.46L367.23,223.46L367.41,223.46L367.6,223.46L367.78,223.46L367.96,223.47L368.15,223.47L368.33,223.47L368.51,223.47L368.7,223.47L368.88,223.47L369.07,223.47L369.25,223.47L369.43,223.48L369.62,223.48L369.8,223.48L369.98,223.48L370.17,223.48L370.35,223.48L370.53,223.48L370.72,223.48L370.9,223.49L371.09,223.49L371.27,223.49L371.45,223.49L371.64,223.49L371.82,223.49L372,223.49L372.19,223.49L372.37,223.5L372.55,223.5L372.74,223.5L372.92,223.5L373.1,223.5L373.29,223.5L373.47,223.5L373.66,223.5L373.84,223.51L374.02,223.51L374.21,223.51L374.39,223.51L374.57,223.51L374.76,223.51L374.94,223.51L375.12,223.51L375.31,223.52L375.49,223.52L375.68,223.52L375.86,223.52L376.04,223.52L376.23,223.52L376.41,223.52L376.59,223.52L376.78,223.53L376.96,223.53L377.14,223.53L377.33,223.53L377.51,223.53L377.69,223.53L377.88,223.53L378.06,223.53L378.25,223.54L378.43,223.54L378.61,223.54L378.8,223.54L378.98,223.54L379.16,223.54L379.35,223.54L379.53,223.54L379.71,223.55L379.9,223.55L380.08,223.55L380.27,223.55L380.45,223.55L380.63,223.55L380.82,223.55L381,223.55L381.18,223.56L381.37,223.56L381.55,223.56L381.73,223.56L381.92,223.56L382.1,223.56L382.28,223.56L382.47,223.56L382.65,223.57L382.84,223.57L383.02,223.57L383.2,223.57L383.39,223.57L383.57,223.57L383.75,223.57L383.94,223.57L384.12,223.58L384.3,223.58L384.49,223.58L384.67,223.58L384.86,223.58L385.04,223.58L385.22,223.58L385.41,223.58L385.59,223.59L385.77,223.59L385.96,223.59L386.14,223.59L386.32,223.59L386.51,223.59L386.69,223.59L386.87,223.59L387.06,223.6L387.24,223.6L387.43,223.6L387.61,223.6L387.79,223.6L387.98,223.6L388.16,223.6L388.34,223.6L388.53,223.61L388.71,223.61L388.89,223.61L389.08,223.61L389.26,223.61L389.45,223.61L389.63,223.61L389.81,223.61L390,223.62L390.18,223.62L390.36,223.62L390.55,223.62L390.73,223.62L390.91,223.62L391.1,223.62L391.28,223.62L391.46,223.63L391.65,223.63L391.83,223.63L392.02,223.63L392.2,223.63L392.38,223.63L392.57,223.63L392.75,223.63L392.93,223.64L393.12,223.64L393.3,223.64L393.48,223.64L393.67,223.64L393.85,223.64L394.04,223.64L394.22,223.64L394.4,223.65L394.59,223.65L394.77,223.65L394.95,223.65L395.14,223.65L395.32,223.65L395.5,223.65L395.69,223.65L395.87,223.66L396.05,223.66L396.24,223.66L396.42,223.66L396.61,223.66L396.79,223.66L396.97,223.66L397.16,223.66L397.34,223.67L397.52,223.67L397.71,223.67L397.89,223.67L398.07,223.67L398.26,223.67L398.44,223.67L398.63,223.67L398.81,223.68L398.99,223.68L399.18,223.68L399.36,223.68L399.54,223.68L399.73,223.68L399.91,223.68L400.09,223.68L400.28,223.69L400.46,223.69L400.64,223.69L400.83,223.69L401.01,223.69L401.2,223.69L401.38,223.69L401.56,223.69L401.75,223.7L401.93,223.7L402.11,223.7L402.3,223.7L402.48,223.7L402.66,223.7L402.85,223.7L403.03,223.7L403.22,223.71L403.4,223.71L403.58,223.71L403.77,223.71L403.95,223.71L404.13,223.71L404.32,223.71L404.5,223.71L404.68,223.72L404.87,223.72L405.05,223.72L405.23,223.72L405.42,223.72L405.6,223.72L405.79,223.72L405.97,223.72L406.15,223.73L406.34,223.73" fill="none" stroke="#22208c" stroke-width="1.1" stroke-opacity="1" stroke-linejoin="round"/>
<line x1="407.12" y1="223.82" x2="477.5" y2="223.82" stroke="#2a2a92" stroke-width="1"/>
<path d="M49,226 V3.3 H661.4 V226" fill="none" stroke="#6b6bdc" stroke-width="1.4"/>
<line x1="48.3" y1="226.1" x2="662.1" y2="226.1" stroke="#9c9ce8" stroke-width="2.6"/>
<line x1="47.2" y1="224.7" x2="49" y2="224.7" stroke="#3030a0" stroke-width="1"/>
<line x1="47.2" y1="202.6" x2="49" y2="202.6" stroke="#3030a0" stroke-width="1"/>
<line x1="47.2" y1="180.5" x2="49" y2="180.5" stroke="#3030a0" stroke-width="1"/>
<line x1="47.2" y1="158.4" x2="49" y2="158.4" stroke="#3030a0" stroke-width="1"/>
<line x1="47.2" y1="136.3" x2="49" y2="136.3" stroke="#3030a0" stroke-width="1"/>
<line x1="47.2" y1="114.2" x2="49" y2="114.2" stroke="#3030a0" stroke-width="1"/>
<line x1="47.2" y1="92.1" x2="49" y2="92.1" stroke="#3030a0" stroke-width="1"/>
<line x1="47.2" y1="70" x2="49" y2="70" stroke="#3030a0" stroke-width="1"/>
<line x1="47.2" y1="47.9" x2="49" y2="47.9" stroke="#3030a0" stroke-width="1"/>
<line x1="47.2" y1="25.8" x2="49" y2="25.8" stroke="#3030a0" stroke-width="1"/>
<line x1="47.2" y1="3.7" x2="49" y2="3.7" stroke="#3030a0" stroke-width="1"/>
<text x="47" y="231.9" text-anchor="end" textLength="4.75" lengthAdjust="spacingAndGlyphs">0</text>
<text x="47" y="209.8" text-anchor="end" textLength="9.5" lengthAdjust="spacingAndGlyphs">50</text>
<text x="47" y="187.7" text-anchor="end" textLength="14.25" lengthAdjust="spacingAndGlyphs">100</text>
<text x="47" y="165.6" text-anchor="end" textLength="14.25" lengthAdjust="spacingAndGlyphs">150</text>
<text x="47" y="143.5" text-anchor="end" textLength="14.25" lengthAdjust="spacingAndGlyphs">200</text>
<text x="47" y="121.4" text-anchor="end" textLength="14.25" lengthAdjust="spacingAndGlyphs">250</text>
<text x="47" y="99.3" text-anchor="end" textLength="14.25" lengthAdjust="spacingAndGlyphs">300</text>
<text x="47" y="77.2" text-anchor="end" textLength="14.25" lengthAdjust="spacingAndGlyphs">350</text>
<text x="47" y="55.1" text-anchor="end" textLength="14.25" lengthAdjust="spacingAndGlyphs">400</text>
<text x="47" y="33" text-anchor="end" textLength="14.25" lengthAdjust="spacingAndGlyphs">450</text>
<text x="47" y="10.9" text-anchor="end" textLength="14.25" lengthAdjust="spacingAndGlyphs">500</text>
<text x="43" y="238.1" textLength="12.2" lengthAdjust="spacingAndGlyphs">0.0</text>
<line x1="49.1" y1="227.29999999999998" x2="49.1" y2="228.5" stroke="#3030a0" stroke-width="0.8"/>
<text x="104.2" y="238.1" textLength="12.2" lengthAdjust="spacingAndGlyphs">2.0</text>
<line x1="110.3" y1="227.29999999999998" x2="110.3" y2="228.5" stroke="#3030a0" stroke-width="0.8"/>
<text x="165.4" y="238.1" textLength="12.2" lengthAdjust="spacingAndGlyphs">4.0</text>
<line x1="171.5" y1="227.29999999999998" x2="171.5" y2="228.5" stroke="#3030a0" stroke-width="0.8"/>
<text x="226.6" y="238.1" textLength="12.2" lengthAdjust="spacingAndGlyphs">6.0</text>
<line x1="232.7" y1="227.29999999999998" x2="232.7" y2="228.5" stroke="#3030a0" stroke-width="0.8"/>
<text x="287.8" y="238.1" textLength="12.2" lengthAdjust="spacingAndGlyphs">8.0</text>
<line x1="293.9" y1="227.29999999999998" x2="293.9" y2="228.5" stroke="#3030a0" stroke-width="0.8"/>
<text x="346.85" y="238.1" textLength="16.5" lengthAdjust="spacingAndGlyphs">10.0</text>
<line x1="355.1" y1="227.29999999999998" x2="355.1" y2="228.5" stroke="#3030a0" stroke-width="0.8"/>
<text x="408.05" y="238.1" textLength="16.5" lengthAdjust="spacingAndGlyphs">12.0</text>
<line x1="416.3" y1="227.29999999999998" x2="416.3" y2="228.5" stroke="#3030a0" stroke-width="0.8"/>
<text x="469.25" y="238.1" textLength="16.5" lengthAdjust="spacingAndGlyphs">14.0</text>
<line x1="477.5" y1="227.29999999999998" x2="477.5" y2="228.5" stroke="#3030a0" stroke-width="0.8"/>
<text x="530.45" y="238.1" textLength="16.5" lengthAdjust="spacingAndGlyphs">16.0</text>
<line x1="538.7" y1="227.29999999999998" x2="538.7" y2="228.5" stroke="#3030a0" stroke-width="0.8"/>
<text x="591.65" y="238.1" textLength="16.5" lengthAdjust="spacingAndGlyphs">18.0</text>
<line x1="599.9" y1="227.29999999999998" x2="599.9" y2="228.5" stroke="#3030a0" stroke-width="0.8"/>
<rect x="61.5" y="60.9" width="10.8" height="13.6" fill="#fff" fill-opacity="0.55" stroke="none"/>
<rect x="98.3" y="34.8" width="11.8" height="13.6" fill="#fff" fill-opacity="0.55" stroke="none"/>
<rect x="155.8" y="6" width="15" height="13.6" fill="#fff" fill-opacity="0.55" stroke="none"/>
<rect x="53.8" y="141.4" width="10.6" height="13.6" fill="#fff" fill-opacity="0.55" stroke="none"/>
<rect x="50.9" y="162.5" width="9.4" height="13.6" fill="#fff" fill-opacity="0.55" stroke="none"/>
<rect x="51.6" y="177.8" width="11.6" height="13.6" fill="#fff" fill-opacity="0.55" stroke="none"/>
<rect x="53.6" y="199.9" width="15.2" height="13.6" fill="#fff" fill-opacity="0.55" stroke="none"/>
<rect x="64.4" y="202.7" width="14.4" height="13.6" fill="#fff" fill-opacity="0.55" stroke="none"/>
<rect x="89.8" y="186.9" width="13" height="13.6" fill="#fff" fill-opacity="0.55" stroke="none"/>
<rect x="116.5" y="181.2" width="9.6" height="13.6" fill="#fff" fill-opacity="0.55" stroke="none"/>
<rect x="121.2" y="203.5" width="9.6" height="13.6" fill="#fff" fill-opacity="0.55" stroke="none"/>
<rect x="165.95" y="180.7" width="14.9" height="13.6" fill="#fff" fill-opacity="0.55" stroke="none"/>
<rect x="239.25" y="206.2" width="14.7" height="13.6" fill="#fff" fill-opacity="0.55" stroke="none"/>
<rect x="259.95" y="207" width="14.1" height="13.6" fill="#fff" fill-opacity="0.55" stroke="none"/>
<text x="64" y="71.12" font-size="9.5" textLength="5.8" lengthAdjust="spacingAndGlyphs">O</text>
<text x="100.8" y="45.02" font-size="9.5" textLength="6.8" lengthAdjust="spacingAndGlyphs">Si</text>
<text x="158.3" y="16.22" font-size="9.5" textLength="10" lengthAdjust="spacingAndGlyphs">Ca</text>
<text x="56.3" y="151.62" font-size="9.5" textLength="5.6" lengthAdjust="spacingAndGlyphs">C</text>
<text x="53.4" y="172.72" font-size="9.5" textLength="4.4" lengthAdjust="spacingAndGlyphs">S</text>
<text x="54.1" y="188.02" font-size="9.5" textLength="6.6" lengthAdjust="spacingAndGlyphs">Si</text>
<text x="56.1" y="210.12" font-size="9.5" textLength="10.2" lengthAdjust="spacingAndGlyphs">Ca</text>
<text x="66.9" y="212.92" font-size="9.5" textLength="9.4" lengthAdjust="spacingAndGlyphs">Fe</text>
<text x="92.3" y="197.12" font-size="9.5" textLength="8" lengthAdjust="spacingAndGlyphs">Al</text>
<text x="119" y="191.42" font-size="9.5" textLength="4.6" lengthAdjust="spacingAndGlyphs">S</text>
<text x="123.7" y="213.72" font-size="9.5" textLength="4.6" lengthAdjust="spacingAndGlyphs">S</text>
<text x="168.45" y="190.92" font-size="9.5" textLength="9.9" lengthAdjust="spacingAndGlyphs">Ca</text>
<text x="241.75" y="216.42" font-size="9.5" textLength="9.7" lengthAdjust="spacingAndGlyphs">Fe</text>
<text x="262.45" y="217.22" font-size="9.5" textLength="9.1" lengthAdjust="spacingAndGlyphs">Fe</text>
<rect x="546.7" y="6.7" width="113.09999999999991" height="39.8" fill="#fff" stroke="#1a1a1a" stroke-width="1.2"/>
<line x1="660.6999999999999" y1="7.7" x2="660.6999999999999" y2="47.1" stroke="#9a9a9a" stroke-width="0.9"/>
<text x="557.8" y="30.4" font-family="Liberation Serif, serif" font-size="20" fill="#000" stroke="none" textLength="85.5" lengthAdjust="spacingAndGlyphs">SF15LS10</text>
<text x="7.6" y="257.3" font-size="9.3" textLength="38.9" lengthAdjust="spacingAndGlyphs">Lsec: 30.0</text>
<text x="69.4" y="257.3" font-size="9.3" textLength="25.5" lengthAdjust="spacingAndGlyphs">0 Cnts</text>
<text x="120.7" y="257.3" font-size="9.3" textLength="40.6" lengthAdjust="spacingAndGlyphs">5.850 keV</text>
<text x="184" y="257.3" font-size="9.3" textLength="65.7" lengthAdjust="spacingAndGlyphs">Det: Octane Pro</text></g>
<g font-family="Liberation Sans, sans-serif" font-size="12" fill="#1e1e1e" stroke="#1e1e1e" stroke-width="0.25"><rect x="5.3" y="283.6" width="669.1" height="333.6" rx="2" fill="#fff" stroke="#b0b0b0" stroke-width="1.6"/>
<path d="M49.5,591.3L49.5,591.3L49.87,591.3L50.25,591.3L50.62,591.3L50.99,591.22L51.37,591.3L51.74,591.3L52.11,590.91L52.49,591.3L52.86,591.3L53.23,591.24L53.61,591.3L53.98,590.52L54.35,591.3L54.72,590.93L55.1,590.82L55.47,590.81L55.84,590.48L56.22,588.33L56.59,584.9L56.96,577.53L57.34,570.7L57.71,562.8L58.08,558.38L58.46,562.63L58.83,568.75L59.2,576.59L59.58,584.22L59.95,587.47L60.32,589.98L60.7,591.3L61.07,591.3L61.44,591.3L61.82,591L62.19,591.3L62.56,591.3L62.94,590.5L63.31,589.52L63.68,583.61L64.05,571L64.43,543.2L64.8,502.51L65.17,452.46L65.55,414.8L65.92,402.01L66.29,427.26L66.67,472.89L67.04,519.72L67.41,559.27L67.79,578.67L68.16,587.1L68.53,590.23L68.91,590.38L69.28,590.55L69.65,591.3L70.03,591.15L70.4,589.65L70.77,590.18L71.15,590.41L71.52,589.11L71.89,590.24L72.27,589.99L72.64,590.01L73.01,590.48L73.38,588.39L73.76,590.34L74.13,589.54L74.5,589.57L74.88,587.7L75.25,588.42L75.62,588.11L76,590.1L76.37,587.83L76.74,589.55L77.12,586.87L77.49,583.97L77.86,586.91L78.24,583.54L78.61,585.64L78.98,585.31L79.36,585.83L79.73,586.18L80.1,583.99L80.48,583.52L80.85,587.5L81.22,580.49L81.6,577.17L81.97,574.26L82.34,580.95L82.71,586.45L83.09,586.32L83.46,579.17L83.83,583.06L84.21,586.32L84.58,582.43L84.95,582.7L85.33,586.75L85.7,587.59L86.07,585.91L86.45,581.52L86.82,582.03L87.19,582.42L87.57,576.13L87.94,572.82L88.31,564.56L88.69,570.23L89.06,581.72L89.43,584.33L89.81,582.69L90.18,581.6L90.55,581.88L90.93,584.73L91.3,582.29L91.67,576.03L92.04,583.58L92.42,585.06L92.79,579.89L93.16,578.49L93.54,577.45L93.91,578.56L94.28,567.85L94.66,565.01L95.03,550.88L95.4,549.49L95.78,545.86L96.15,544.11L96.52,554.29L96.9,564.55L97.27,569.33L97.64,576.47L98.02,577.1L98.39,584.28L98.76,585.21L99.14,579.31L99.51,584.63L99.88,580.99L100.26,578.25L100.63,574.29L101,564.46L101.37,542.53L101.75,527.42L102.12,482.69L102.49,437.74L102.87,406.05L103.24,377.85L103.61,364.95L103.99,371.86L104.36,410.4L104.73,443.3L105.11,486.7L105.48,519.79L105.85,547.14L106.23,563.06L106.6,575.7L106.97,579.72L107.35,583.87L107.72,584.9L108.09,584.12L108.47,584.34L108.84,586.1L109.21,580.62L109.59,584.67L109.96,587.62L110.33,581.99L110.7,586.22L111.08,583.31L111.45,584.3L111.82,583.28L112.2,582.69L112.57,583.23L112.94,580.25L113.32,573.63L113.69,580.73L114.06,572.47L114.44,568.41L114.81,568.71L115.18,563.66L115.56,548.51L115.93,561.35L116.3,556.02L116.68,560.97L117.05,564.31L117.42,566.3L117.8,569.15L118.17,571.1L118.54,575.61L118.92,578.4L119.29,579.37L119.66,576.19L120.03,574.92L120.41,574.19L120.78,569.98L121.15,565.33L121.53,568.26L121.9,571.32L122.27,577.53L122.65,580.39L123.02,581.87L123.39,582.23L123.77,585.09L124.14,580.22L124.51,585.61L124.89,578.48L125.26,583.3L125.63,584.42L126.01,586.61L126.38,591.3L126.75,585.88L127.13,585.17L127.5,581.38L127.87,588.59L128.25,581.46L128.62,586.16L128.99,584.06L129.36,590.96L129.74,585.35L130.11,585.6L130.48,584.21L130.86,585.5L131.23,588.17L131.6,583.69L131.98,584.25L132.35,584.47L132.72,583.61L133.1,583.23L133.47,585.84L133.84,588.7L134.22,588.77L134.59,582.96L134.96,582.49L135.34,585.65L135.71,586.8L136.08,585.82L136.46,585.85L136.83,585.04L137.2,587.41L137.58,581.39L137.95,585.48L138.32,587.25L138.69,588.72L139.07,587.52L139.44,582.64L139.81,584.44L140.19,586.5L140.56,585.95L140.93,586.7L141.31,588.39L141.68,583.39L142.05,585.34L142.43,581L142.8,587.7L143.17,586.43L143.55,584.34L143.92,586.68L144.29,589.04L144.67,588.15L145.04,585.99L145.41,585.51L145.79,586.42L146.16,584.17L146.53,584.21L146.91,585.59L147.28,586.21L147.65,586.8L148.02,585.16L148.4,584.42L148.77,586.19L149.14,585.4L149.52,586.99L149.89,589.22L150.26,588.39L150.64,584.81L151.01,585.47L151.38,583.16L151.76,586.28L152.13,584.65L152.5,583.74L152.88,584.41L153.25,587.67L153.62,586.82L154,586.2L154.37,588.46L154.74,585.52L155.12,584.43L155.49,587.47L155.86,582.55L156.24,586.27L156.61,586.94L156.98,587.02L157.35,587.97L157.73,585.73L158.1,586.52L158.47,583.22L158.85,585.25L159.22,585.16L159.59,586.12L159.97,587.25L160.34,581.94L160.71,578.39L161.09,565.58L161.46,552.84L161.83,526.77L162.21,498.48L162.58,460.47L162.95,420.24L163.33,379.62L163.7,344.77L164.07,311.66L164.45,322.01L164.82,341.51L165.19,366.39L165.57,414.4L165.94,456.91L166.31,496.6L166.68,529.92L167.06,547.72L167.43,566.11L167.8,575.6L168.18,578.38L168.55,580.2L168.92,588.04L169.3,585.1L169.67,586.12L170.04,586.49L170.42,586.01L170.79,586.2L171.16,581.94L171.54,581.56L171.91,578.86L172.28,572.85L172.66,568.21L173.03,563.29L173.4,558.1L173.78,551.03L174.15,551.29L174.52,552.76L174.9,556.94L175.27,560.53L175.64,567.47L176.01,571.13L176.39,576.11L176.76,584.32L177.13,583.88L177.51,584.93L177.88,587.04L178.25,589.62L178.63,586.47L179,589.84L179.37,590.8L179.75,590.09L180.12,589.06L180.49,587.53L180.87,587.25L181.24,588.73L181.61,590.38L181.99,590.07L182.36,590.44L182.73,589.33L183.11,591.3L183.48,588.89L183.85,588.08L184.23,589.3L184.6,588.37L184.97,590.51L185.34,591.3L185.72,590.05L186.09,587.31L186.46,587.51L186.84,589.78L187.21,587.24L187.58,589.59L187.96,586.78L188.33,588.36L188.7,589.78L189.08,587.88L189.45,590.28L189.82,590.53L190.2,591.3L190.57,588.71L190.94,589.19L191.32,589.23L191.69,589.74L192.06,586.93L192.44,589.76L192.81,590.22L193.18,587.23L193.56,586.96L193.93,588.09L194.3,591.3L194.67,590.04L195.05,588.2L195.42,589.11L195.79,586.78L196.17,591.1L196.54,588.11L196.91,590.09L197.29,587.14L197.66,588.56L198.03,587.46L198.41,590.13L198.78,591.28L199.15,590.83L199.53,590.07L199.9,590.7L200.27,587.35L200.65,587.14L201.02,588.75L201.39,590.72L201.77,589.35L202.14,590.2L202.51,586.98L202.89,588.7L203.26,588.44L203.63,589.78L204,591.3L204.38,589.82L204.75,590.86L205.12,588.63L205.5,589.04L205.87,590.35L206.24,589.77L206.62,586.12L206.99,590.63L207.36,590.57L207.74,589.54L208.11,590.25L208.48,589.85L208.86,588.42L209.23,586.64L209.6,591.3L209.98,589.25L210.35,589.17L210.72,589.36L211.1,589.52L211.47,589.75L211.84,587.77L212.22,589.94L212.59,589.45L212.96,589.27L213.33,589.11L213.71,589.53L214.08,587.81L214.45,589.3L214.83,589.03L215.2,589.37L215.57,590.76L215.95,590.51L216.32,590.84L216.69,589.03L217.07,590.35L217.44,590.86L217.81,588.98L218.19,588.57L218.56,591.3L218.93,586.9L219.31,589.3L219.68,589.5L220.05,587.82L220.43,589.26L220.8,590.23L221.17,586.23L221.55,590.91L221.92,589.52L222.29,588.18L222.66,590.92L223.04,589.25L223.41,588.85L223.78,585.99L224.16,590.05L224.53,589.48L224.9,588.49L225.28,589.31L225.65,591.13L226.02,588.86L226.4,589.29L226.77,588.82L227.14,587.86L227.52,588.03L227.89,588.89L228.26,589.03L228.64,591L229.01,589.66L229.38,589.16L229.76,590.04L230.13,589.35L230.5,590.64L230.88,587.37L231.25,586.52L231.62,590.05L231.99,588.96L232.37,589.68L232.74,587.78L233.11,588.93L233.49,588.63L233.86,589.84L234.23,589.37L234.61,590.91L234.98,588.63L235.35,590.53L235.73,588.83L236.1,589.39L236.47,588.08L236.85,589.6L237.22,588.19L237.59,590.83L237.97,588.77L238.34,589.9L238.71,589.34L239.09,589.51L239.46,588.35L239.83,591.3L240.21,589.19L240.58,591.3L240.95,588.02L241.32,591.3L241.7,590.97L242.07,591.3L242.44,587.47L242.82,591.3L243.19,589.48L243.56,590.32L243.94,591.3L244.31,589.91L244.68,588.41L245.06,589.24L245.43,587.3L245.8,588.38L246.18,587.03L246.55,586.5L246.92,584.33L247.3,581.01L247.67,582.02L248.04,581.45L248.42,582.18L248.79,582.45L249.16,579.96L249.54,584.38L249.91,585.25L250.28,585.38L250.65,586.97L251.03,584.86L251.4,591.28L251.77,587.84L252.15,588.29L252.52,590.89L252.89,590.44L253.27,589.15L253.64,587.68L254.01,590.95L254.39,591.3L254.76,588.58L255.13,587.89L255.51,590.24L255.88,591.3L256.25,588L256.63,590.08L257,588.43L257.37,589.89L257.75,590.31L258.12,590.41L258.49,588.02L258.87,588.08L259.24,591.3L259.61,591.03L259.98,587.68L260.36,590.33L260.73,591.3L261.1,589.88L261.48,590.03L261.85,590.02L262.22,590.49L262.6,590.28L262.97,590.46L263.34,589.5L263.72,590.89L264.09,590.25L264.46,590.05L264.84,588.27L265.21,589.36L265.58,589.88L265.96,589.02L266.33,588.47L266.7,587.87L267.08,588.71L267.45,587.03L267.82,587.44L268.2,589L268.57,589.37L268.94,587.78L269.31,588.24L269.69,589.02L270.06,590.77L270.43,591.3L270.81,588.86L271.18,588.5L271.55,588.6L271.93,591.19L272.3,588.55L272.67,590.49L273.05,589.47L273.42,589.48L273.79,590.94L274.17,590.72L274.54,591.3L274.91,591.12L275.29,591.3L275.66,589.56L276.03,590L276.41,589.02L276.78,589.67L277.15,590.82L277.53,589.7L277.9,590.55L278.27,589.4L278.64,589.75L279.02,591.25L279.39,590.12L279.76,590.06L280.14,590.48L280.51,588.8L280.88,588.19L281.26,590.56L281.63,590.54L282,591.3L282.38,590.3L282.75,590.65L283.12,591.3L283.5,589.84L283.87,589.51L284.24,591L284.62,590.6L284.99,591.27L285.36,589.34L285.74,591.3L286.11,590.55L286.48,588.03L286.86,590.15L287.23,589.69L287.6,590.38L287.97,591.3L288.35,589.81L288.72,589.4L289.09,591.3L289.47,589.87L289.84,588.88L290.21,588.75L290.59,591.3L290.96,591.3L291.33,591.3L291.71,589.1L292.08,589.61L292.45,589.51L292.83,591.24L293.2,591.3L293.57,590.21L293.95,590.19L294.32,591.23L294.69,590.15L295.07,589.61L295.44,590.07L295.81,591.3L296.19,591.3L296.56,590.61L296.93,590.15L297.3,590.18L297.68,590.81L298.05,591.1L298.42,589.57L298.8,590.1L299.17,590.22L299.54,591.3L299.92,591.04L300.29,590.18L300.66,591.3L301.04,591.3L301.41,590.73L301.78,589.06L302.16,590.17L302.53,588.79L302.9,590.52L303.28,590.72L303.65,591.3L304.02,591.01L304.4,588.82L304.77,590.03L305.14,589.59L305.52,589.63L305.89,590.41L306.26,590.62L306.63,590.27L307.01,589.67L307.38,589.91L307.75,589.87L308.13,590.24L308.5,591.25L308.87,590.7L309.25,591.3L309.62,589.33L309.99,591.3L310.37,590.66L310.74,587.83L311.11,590.8L311.49,591.3L311.86,590.45L312.23,589.03L312.61,590.61L312.98,589.77L313.35,590.33L313.73,590.85L314.1,587.01L314.47,590.37L314.85,591.04L315.22,590.99L315.59,590.04L315.96,589.88L316.34,589.62L316.71,590.31L317.08,591.3L317.46,589.89L317.83,590.81L318.2,590.79L318.58,591.3L318.95,591.1L319.32,591.27L319.7,590.33L320.07,591.3L320.44,590.08L320.82,590.35L321.19,591.3L321.56,591.18L321.94,591.3L322.31,589.51L322.68,591.3L323.06,590.88L323.43,591.3L323.8,590.98L324.18,589.59L324.55,591.2L324.92,590.36L325.29,591.3L325.67,588.41L326.04,589.53L326.41,589.3L326.79,591.3L327.16,591.3L327.53,589.35L327.91,590.75L328.28,590.82L328.65,590.17L329.03,591.3L329.4,589.7L329.77,590.52L330.15,590.02L330.52,591.28L330.89,589.99L331.27,591.3L331.64,589.52L332.01,589.33L332.39,589.57L332.76,589.76L333.13,589.87L333.51,591.3L333.88,589.66L334.25,590.87L334.62,590.47L335,590.89L335.37,591.3L335.74,591.17L336.12,589.87L336.49,589.04L336.86,591.27L337.24,591.3L337.61,589.01L337.98,591.3L338.36,588.34L338.73,590.54L339.1,591.3L339.48,589.53L339.85,588.76L340.22,591.3L340.6,588.91L340.97,590.92L341.34,589L341.72,591.03L342.09,591.3L342.46,590.08L342.84,589.62L343.21,588.34L343.58,588.75L343.95,589.87L344.33,590.89L344.7,591.2L345.07,590.96L345.45,591.3L345.82,590.94L346.19,591.3L346.57,589.96L346.94,590.68L347.31,587.86L347.69,589.83L348.06,591.18L348.43,590.04L348.81,591.3L349.18,591.3L349.55,591.3L349.93,588.97L350.3,589.21L350.67,589.39L351.05,586.31L351.42,585.61L351.79,588.24L352.17,589.79L352.54,591.3L352.91,591.3L353.28,590.59L353.66,589.69L354.03,591.3L354.4,591.3L354.78,589.45L355.15,591.3L355.52,589.53L355.9,590.44L356.27,589.75L356.64,588.81L357.02,589.96L357.39,589.87L357.76,591.3L358.14,591.3L358.51,590.02L358.88,589.05L359.26,589.21L359.63,588.2L360,590.39L360.38,590.51L360.75,589.64L361.12,590.72L361.5,590.81L361.87,591.3L362.24,589.66L362.61,591.3L362.99,590.19L363.36,591.3L363.73,589.55L364.11,591.3L364.48,589.83L364.85,591.3L365.23,591.23L365.6,589.47L365.97,591.3L366.35,590.68L366.72,591.07L367.09,591.3L367.47,590.43L367.84,590.29L368.21,591.3L368.59,590.14L368.96,591.3L369.33,591.3L369.71,590.76L370.08,591.3L370.45,588.28L370.83,591.3L371.2,589.97L371.57,589.7L371.94,591.3L372.32,591.3L372.69,590.17L373.06,591.3L373.44,590.37L373.81,589.41L374.18,591.2L374.56,591.3L374.93,591.3L375.3,590.57L375.68,591.3L376.05,590.46L376.42,590.55L376.8,591.3L377.17,588.92L377.54,589.62L377.92,589.88L378.29,591.3L378.66,591.25L379.04,591.3L379.41,591.26L379.78,591.3L380.16,590.34L380.53,590.57L380.9,590.42L381.27,591.3L381.65,589.41L382.02,590.62L382.39,591.3L382.77,591.3L383.14,590.89L383.51,589.78L383.89,591.16L384.26,591.1L384.63,591.3L385.01,590.11L385.38,591.3L385.75,591.3L386.13,591.3L386.5,590.23L386.87,591.3L387.25,591.3L387.62,590.17L387.99,591.3L388.37,590.46L388.74,590.44L389.11,589.54L389.49,589.71L389.86,591.3L390.23,591.04L390.6,591.3L390.98,589.03L391.35,590.38L391.72,589.34L392.1,591.21L392.47,591.3L392.84,589.2L393.22,590.77L393.59,590.72L393.96,590.81L394.34,590.17L394.71,590.29L395.08,591.3L395.46,589.69L395.83,591.3L396.2,591.3L396.58,589L396.95,589.88L397.32,591.25L397.7,591.3L398.07,590.71L398.44,590.3L398.82,590.98L399.19,591.3L399.56,591.3L399.93,591.3L400.31,590.66L400.68,590.01L401.05,589.78L401.43,591.3L401.8,590.65L402.17,590.3L402.55,591.3L402.92,591.07L403.29,588.59L403.67,590.69L404.04,589.95L404.41,591.3L404.79,590.87L405.16,591.3L405.53,590.95L405.91,589.48L406.28,588.63L406.65,589.62L407.03,590.18L407.4,590.87L407.77,591.3L408.15,591.1L408.52,590.26L408.89,591.3L409.26,589.92L409.64,591.3L410.01,591.3L410.38,591.3L410.76,591.3L411.13,591.3L411.5,589.71L411.88,591.16L412.25,590.71L412.62,589.69L413,589.58L413.37,591.3L413.74,589.5L414.12,590.53L414.49,590.95L414.86,590.48L415.24,591.3L415.61,591.3L415.98,591.08L416.36,590.3L416.73,591.3L417.1,591.11L417.48,589.41L417.85,589.36L418.22,590.13L418.59,589.59L418.97,591.3L419.34,591.3L419.71,590.63L420.09,591.3L420.46,591.3L420.83,589.18L421.21,591.2L421.58,591.3L421.95,590.45L422.33,588.99L422.7,590.9L423.07,589.65L423.45,591.3L423.82,591.3L424.19,591.3L424.57,591.15L424.94,589L425.31,591.3L425.69,589.22L426.06,591.3L426.43,591.26L426.81,590.1L427.18,590.32L427.55,590.7L427.92,591.3L428.3,590.62L428.67,591.3L429.04,588.22L429.42,591.25L429.79,590.81L430.16,591.3L430.54,591.3L430.91,591.3L431.28,589.95L431.66,591.3L432.03,590.41L432.4,591.3L432.78,591.3L433.15,589.63L433.52,591.3L433.9,591.3L434.27,590.59L434.64,591.3L435.02,591.3L435.02,591.3Z" fill="#ff0000" stroke="#ff2020" stroke-width="0.3"/>
<path d="M54.16,591.5L54.35,591.49L54.54,591.49L54.72,591.48L54.91,591.45L55.1,591.41L55.28,591.33L55.47,591.19L55.66,590.93L55.84,590.5L56.03,589.81L56.22,588.76L56.4,587.24L56.59,585.17L56.78,582.51L56.96,579.3L57.15,575.68L57.34,571.91L57.52,568.33L57.71,565.31L57.9,563.23L58.08,562.35L58.27,562.79L58.46,564.49L58.64,567.22L58.83,570.65L59.02,574.4L59.2,578.09L59.39,581.45L59.58,584.3L59.76,586.56L59.95,588.25L60.14,589.44L60.32,590.23L60.51,590.74L60.7,591.04L60.88,591.21L61.07,591.3L61.26,591.34L61.44,591.37L61.63,591.37L61.82,591.37L62,591.37L62.19,591.36L62.38,591.33L62.56,591.27L62.75,591.14L62.94,590.86L63.12,590.31L63.31,589.25L63.5,587.36L63.68,584.13L63.87,578.91L64.05,570.97L64.24,559.56L64.43,544.16L64.61,524.68L64.8,501.68L64.99,476.57L65.17,451.51L65.36,429.18L65.55,412.34L65.73,403.28L65.92,403.28L66.11,412.33L66.29,429.16L66.48,451.49L66.67,476.55L66.85,501.65L67.04,524.64L67.23,544.12L67.41,559.51L67.6,570.91L67.79,578.85L67.97,584.06L68.16,587.29L68.35,589.18L68.53,590.22L68.72,590.77L68.91,591L69.09,591.08L69.28,591.08L69.47,591.05L69.65,591L69.84,590.95L70.03,590.9L70.21,590.84L70.4,590.78L70.59,590.73L70.77,590.67L70.96,590.61L71.15,590.56L71.33,590.5L71.52,590.45L71.71,590.39L71.89,590.33L72.08,590.28L72.27,590.22L72.45,590.17L72.64,590.11L72.83,590.05L73.01,590L73.2,589.94L73.38,589.88L73.57,589.83L73.76,589.77L73.94,589.72L74.13,589.66L74.32,589.6L74.5,589.52L74.69,589.43L74.88,589.34L75.06,589.25L75.25,589.16L75.44,589.06L75.62,588.97L75.81,588.88L76,588.79L76.18,588.7L76.37,588.6L76.56,588.51L76.74,588.42L76.93,588.33L77.12,588.24L77.3,588.14L77.49,588.05L77.68,587.96L77.86,587.87L78.05,587.78L78.24,587.69L78.42,587.59L78.61,587.5L78.8,587.41L78.98,587.32L79.17,587.23L79.36,587.13L79.54,587.04L79.73,586.95L79.92,586.86L80.1,586.77L80.29,586.67L80.48,586.58L80.66,586.49L80.85,586.38L81.04,586.28L81.22,586.18L81.41,586.07L81.6,585.97L81.78,585.87L81.97,585.76L82.16,585.66L82.34,585.56L82.53,585.45L82.71,585.35L82.9,585.25L83.09,585.14L83.27,585.04L83.46,584.94L83.65,584.83L83.83,584.73L84.02,584.63L84.21,584.52L84.39,584.42L84.58,584.31L84.77,584.21L84.95,584.11L85.14,584L85.33,583.9L85.51,583.8L85.7,583.69L85.89,583.59L86.07,583.49L86.26,583.38L86.45,583.28L86.63,583.18L86.82,583.07L87.01,583.02L87.19,582.96L87.38,582.9L87.57,582.84L87.75,582.79L87.94,582.73L88.13,582.67L88.31,582.61L88.5,582.56L88.69,582.5L88.87,582.44L89.06,582.38L89.25,582.33L89.43,582.27L89.62,582.21L89.81,582.15L89.99,582.1L90.18,582.04L90.37,581.98L90.55,581.92L90.74,581.87L90.93,581.81L91.11,581.75L91.3,581.69L91.49,581.64L91.67,581.58L91.86,581.52L92.04,581.45L92.23,581.38L92.42,581.29L92.6,581.18L92.79,581.01L92.98,580.76L93.16,580.41L93.35,579.87L93.54,579.05L93.72,577.85L93.91,576.18L94.1,573.95L94.28,571.13L94.47,567.74L94.66,563.89L94.84,559.81L95.03,555.79L95.22,552.19L95.4,549.36L95.59,547.61L95.78,547.14L95.96,548L96.15,550.09L96.34,553.21L96.52,556.98L96.71,561.05L96.9,565.07L97.08,568.77L97.27,571.97L97.46,574.58L97.64,576.6L97.83,578.09L98.02,579.14L98.2,579.84L98.39,580.29L98.58,580.56L98.76,580.71L98.95,580.77L99.14,580.75L99.32,580.66L99.51,580.46L99.7,580.11L99.88,579.53L100.07,578.63L100.26,577.24L100.44,575.17L100.63,572.2L100.82,568.04L101,562.37L101.19,554.9L101.37,545.34L101.56,533.48L101.75,519.24L101.93,502.71L102.12,484.21L102.31,464.29L102.49,443.77L102.68,423.62L102.87,404.96L103.05,388.92L103.24,376.6L103.43,368.84L103.61,366.22L103.8,368.93L103.99,376.78L104.17,389.2L104.36,405.32L104.55,424.08L104.73,444.32L104.92,464.93L105.11,484.9L105.29,503.46L105.48,520.04L105.67,534.34L105.85,546.26L106.04,555.88L106.23,563.41L106.41,569.13L106.6,573.35L106.79,576.38L106.97,578.5L107.16,579.95L107.35,580.91L107.53,581.55L107.72,581.96L107.91,582.23L108.09,582.4L108.28,582.53L108.47,582.61L108.65,582.68L108.84,582.74L109.03,582.79L109.21,582.84L109.4,582.89L109.59,582.94L109.77,582.98L109.96,583.03L110.15,583.07L110.33,583.12L110.52,583.17L110.7,583.21L110.89,583.26L111.08,583.3L111.26,583.35L111.45,583.4L111.64,583.44L111.82,583.46L112.01,583.46L112.2,583.47L112.38,583.47L112.57,583.48L112.76,583.48L112.94,583.49L113.13,583.49L113.32,583.5L113.5,583.5L113.69,583.51L113.88,583.51L114.06,583.52L114.25,583.52L114.44,583.52L114.62,583.53L114.81,583.53L115,583.54L115.18,583.54L115.37,583.55L115.56,583.55L115.74,583.56L115.93,583.56L116.12,583.57L116.3,583.57L116.49,583.57L116.68,583.58L116.86,583.58L117.05,583.59L117.24,583.59L117.42,583.6L117.61,583.6L117.8,583.6L117.98,583.6L118.17,583.59L118.36,583.56L118.54,583.49L118.73,583.33L118.92,583.04L119.1,582.5L119.29,581.57L119.48,580.09L119.66,577.85L119.85,574.69L120.03,570.53L120.22,565.42L120.41,559.65L120.59,553.69L120.78,548.18L120.97,543.85L121.15,541.3L121.34,540.93L121.53,542.79L121.71,546.6L121.9,551.8L122.09,557.7L122.27,563.6L122.46,568.98L122.65,573.48L122.83,576.98L123.02,579.52L123.21,581.24L123.39,582.34L123.58,583L123.77,583.38L123.95,583.58L124.14,583.68L124.33,583.73L124.51,583.76L124.7,583.77L124.89,583.78L125.07,583.79L125.26,583.79L125.45,583.8L125.63,583.8L125.82,583.8L126.01,583.81L126.19,583.81L126.38,583.82L126.57,583.82L126.75,583.83L126.94,583.83L127.13,583.84L127.31,583.84L127.5,583.85L127.69,583.86L127.87,583.87L128.06,583.88L128.25,583.89L128.43,583.9L128.62,583.91L128.81,583.92L128.99,583.93L129.18,583.93L129.36,583.94L129.55,583.95L129.74,583.96L129.92,583.97L130.11,583.98L130.3,583.99L130.48,584L130.67,584.01L130.86,584.02L131.04,584.03L131.23,584.04L131.42,584.05L131.6,584.05L131.79,584.06L131.98,584.07L132.16,584.08L132.35,584.09L132.54,584.1L132.72,584.11L132.91,584.12L133.1,584.13L133.28,584.14L133.47,584.15L133.66,584.16L133.84,584.16L134.03,584.17L134.22,584.18L134.4,584.19L134.59,584.2L134.78,584.21L134.96,584.22L135.15,584.23L135.34,584.24L135.52,584.25L135.71,584.26L135.9,584.27L136.08,584.28L136.27,584.28L136.46,584.29L136.64,584.3L136.83,584.31L137.02,584.32L137.2,584.33L137.39,584.34L137.58,584.35L137.76,584.36L137.95,584.37L138.14,584.38L138.32,584.39L138.51,584.39L138.69,584.4L138.88,584.41L139.07,584.42L139.25,584.43L139.44,584.44L139.63,584.45L139.81,584.46L140,584.47L140.19,584.48L140.37,584.49L140.56,584.5L140.75,584.5L140.93,584.51L141.12,584.52L141.31,584.53L141.49,584.54L141.68,584.55L141.87,584.56L142.05,584.57L142.24,584.58L142.43,584.59L142.61,584.6L142.8,584.61L142.99,584.61L143.17,584.62L143.36,584.62L143.55,584.63L143.73,584.63L143.92,584.64L144.11,584.64L144.29,584.65L144.48,584.65L144.67,584.66L144.85,584.66L145.04,584.67L145.23,584.68L145.41,584.68L145.6,584.69L145.79,584.69L145.97,584.7L146.16,584.7L146.35,584.71L146.53,584.71L146.72,584.72L146.91,584.72L147.09,584.73L147.28,584.73L147.47,584.74L147.65,584.75L147.84,584.75L148.02,584.76L148.21,584.76L148.4,584.77L148.58,584.77L148.77,584.78L148.96,584.78L149.14,584.79L149.33,584.79L149.52,584.8L149.7,584.8L149.89,584.81L150.08,584.82L150.26,584.82L150.45,584.83L150.64,584.83L150.82,584.84L151.01,584.84L151.2,584.85L151.38,584.85L151.57,584.86L151.76,584.86L151.94,584.87L152.13,584.87L152.32,584.88L152.5,584.88L152.69,584.89L152.88,584.9L153.06,584.9L153.25,584.91L153.44,584.91L153.62,584.92L153.81,584.92L154,584.93L154.18,584.93L154.37,584.94L154.56,584.94L154.74,584.95L154.93,584.95L155.12,584.96L155.3,584.97L155.49,584.97L155.68,584.98L155.86,584.98L156.05,584.99L156.24,584.99L156.42,585L156.61,585L156.8,585.01L156.98,585.01L157.17,585.02L157.35,585.02L157.54,585.03L157.73,585.03L157.91,585.03L158.1,585.03L158.29,585.02L158.47,585.01L158.66,584.98L158.85,584.93L159.03,584.85L159.22,584.71L159.41,584.49L159.59,584.15L159.78,583.64L159.97,582.89L160.15,581.8L160.34,580.26L160.53,578.11L160.71,575.18L160.9,571.27L161.09,566.16L161.27,559.62L161.46,551.44L161.65,541.42L161.83,529.41L162.02,515.34L162.21,499.26L162.39,481.33L162.58,461.86L162.77,441.33L162.95,420.33L163.14,399.59L163.33,379.92L163.51,362.17L163.7,347.16L163.89,335.62L164.07,328.12L164.26,325.08L164.45,326.64L164.63,332.72L164.82,343.01L165.01,356.99L165.19,373.95L165.38,393.11L165.57,413.63L165.75,434.67L165.94,455.47L166.13,475.4L166.31,493.92L166.5,510.69L166.68,525.48L166.87,538.21L167.06,548.92L167.24,557.73L167.43,564.82L167.62,570.41L167.8,574.72L167.99,577.97L168.18,580.39L168.36,582.14L168.55,583.39L168.74,584.27L168.92,584.86L169.11,585.26L169.3,585.52L169.48,585.68L169.67,585.75L169.86,585.76L170.04,585.71L170.23,585.6L170.42,585.41L170.6,585.12L170.79,584.73L170.98,584.2L171.16,583.5L171.35,582.61L171.54,581.49L171.72,580.13L171.91,578.5L172.1,576.61L172.28,574.47L172.47,572.09L172.66,569.54L172.84,566.87L173.03,564.17L173.22,561.54L173.4,559.08L173.59,556.91L173.78,555.12L173.96,553.82L174.15,553.07L174.34,552.91L174.52,553.34L174.71,554.34L174.9,555.88L175.08,557.86L175.27,560.19L175.46,562.77L175.64,565.49L175.83,568.25L176.01,570.94L176.2,573.5L176.39,575.86L176.57,577.97L176.76,579.83L176.95,581.42L177.13,582.76L177.32,583.85L177.51,584.73L177.69,585.43L177.88,585.97L178.07,586.38L178.25,586.7L178.44,586.93L178.63,587.11L178.81,587.24L179,587.34L179.19,587.42L179.37,587.48L179.56,587.54L179.75,587.58L179.93,587.63L180.12,587.66L180.31,587.67L180.49,587.67L180.68,587.67L180.87,587.68L181.05,587.68L181.24,587.68L181.43,587.68L181.61,587.68L181.8,587.68L181.99,587.69L182.17,587.69L182.36,587.69L182.55,587.69L182.73,587.69L182.92,587.69L183.11,587.69L183.29,587.7L183.48,587.7L183.67,587.7L183.85,587.7L184.04,587.7L184.23,587.7L184.41,587.71L184.6,587.71L184.79,587.71L184.97,587.71L185.16,587.71L185.34,587.71L185.53,587.71L185.72,587.72L185.9,587.72L186.09,587.72L186.28,587.72L186.46,587.72L186.65,587.72L186.84,587.73L187.02,587.73L187.21,587.73L187.4,587.73L187.58,587.73L187.77,587.73L187.96,587.73L188.14,587.74L188.33,587.74L188.52,587.74L188.7,587.74L188.89,587.74L189.08,587.74L189.26,587.75L189.45,587.75L189.64,587.75L189.82,587.75L190.01,587.75L190.2,587.75L190.38,587.75L190.57,587.76L190.76,587.76L190.94,587.76L191.13,587.76L191.32,587.76L191.5,587.76L191.69,587.76L191.88,587.77L192.06,587.77L192.25,587.77L192.44,587.77L192.62,587.77L192.81,587.77L193,587.78L193.18,587.78L193.37,587.78L193.56,587.78L193.74,587.78L193.93,587.78L194.12,587.78L194.3,587.79L194.49,587.79L194.67,587.79L194.86,587.79L195.05,587.79L195.23,587.79L195.42,587.8L195.61,587.8L195.79,587.8L195.98,587.8L196.17,587.8L196.35,587.8L196.54,587.8L196.73,587.81L196.91,587.81L197.1,587.81L197.29,587.81L197.47,587.81L197.66,587.81L197.85,587.82L198.03,587.82L198.22,587.82L198.41,587.82L198.59,587.82L198.78,587.82L198.97,587.82L199.15,587.83L199.34,587.83L199.53,587.83L199.71,587.83L199.9,587.83L200.09,587.83L200.27,587.84L200.46,587.84L200.65,587.84L200.83,587.84L201.02,587.84L201.21,587.84L201.39,587.84L201.58,587.85L201.77,587.85L201.95,587.85L202.14,587.85L202.33,587.85L202.51,587.85L202.7,587.86L202.89,587.86L203.07,587.86L203.26,587.86L203.45,587.86L203.63,587.86L203.82,587.86L204,587.87L204.19,587.87L204.38,587.87L204.56,587.87L204.75,587.87L204.94,587.87L205.12,587.88L205.31,587.88L205.5,587.88L205.68,587.88L205.87,587.88L206.06,587.88L206.24,587.88L206.43,587.89L206.62,587.89L206.8,587.89L206.99,587.89L207.18,587.89L207.36,587.89L207.55,587.9L207.74,587.9L207.92,587.9L208.11,587.9L208.3,587.9L208.48,587.91L208.67,587.91L208.86,587.92L209.04,587.92L209.23,587.92L209.42,587.93L209.6,587.93L209.79,587.94L209.98,587.94L210.16,587.95L210.35,587.95L210.54,587.95L210.72,587.96L210.91,587.96L211.1,587.97L211.28,587.97L211.47,587.97L211.66,587.98L211.84,587.98L212.03,587.99L212.22,587.99L212.4,587.99L212.59,588L212.78,588L212.96,588.01L213.15,588.01L213.33,588.01L213.52,588.02L213.71,588.02L213.89,588.03L214.08,588.03L214.27,588.04L214.45,588.04L214.64,588.04L214.83,588.05L215.01,588.05L215.2,588.06L215.39,588.06L215.57,588.06L215.76,588.07L215.95,588.07L216.13,588.08L216.32,588.08L216.51,588.08L216.69,588.09L216.88,588.09L217.07,588.1L217.25,588.1L217.44,588.11L217.63,588.11L217.81,588.11L218,588.12L218.19,588.12L218.37,588.13L218.56,588.13L218.75,588.13L218.93,588.14L219.12,588.14L219.31,588.15L219.49,588.15L219.68,588.15L219.87,588.16L220.05,588.16L220.24,588.17L220.43,588.17L220.61,588.18L220.8,588.18L220.99,588.18L221.17,588.19L221.36,588.19L221.55,588.2L221.73,588.2L221.92,588.2L222.11,588.21L222.29,588.21L222.48,588.22L222.66,588.22L222.85,588.22L223.04,588.23L223.22,588.23L223.41,588.24L223.6,588.24L223.78,588.25L223.97,588.25L224.16,588.25L224.34,588.26L224.53,588.26L224.72,588.27L224.9,588.27L225.09,588.27L225.28,588.28L225.46,588.28L225.65,588.29L225.84,588.29L226.02,588.29L226.21,588.3L226.4,588.3L226.58,588.31L226.77,588.31L226.96,588.32L227.14,588.32L227.33,588.32L227.52,588.33L227.7,588.33L227.89,588.34L228.08,588.34L228.26,588.34L228.45,588.35L228.64,588.35L228.82,588.36L229.01,588.36L229.2,588.36L229.38,588.37L229.57,588.37L229.76,588.38L229.94,588.38L230.13,588.39L230.32,588.39L230.5,588.39L230.69,588.4L230.88,588.4L231.06,588.41L231.25,588.41L231.44,588.41L231.62,588.42L231.81,588.42L231.99,588.43L232.18,588.43L232.37,588.43L232.55,588.44L232.74,588.44L232.93,588.45L233.11,588.45L233.3,588.45L233.49,588.46L233.67,588.46L233.86,588.47L234.05,588.47L234.23,588.48L234.42,588.48L234.61,588.48L234.79,588.49L234.98,588.49L235.17,588.5L235.35,588.5L235.54,588.5L235.73,588.51L235.91,588.51L236.1,588.52L236.29,588.52L236.47,588.52L236.66,588.53L236.85,588.53L237.03,588.54L237.22,588.54L237.41,588.55L237.59,588.55L237.78,588.55L237.97,588.56L238.15,588.56L238.34,588.57L238.53,588.57L238.71,588.57L238.9,588.58L239.09,588.58L239.27,588.59L239.46,588.59L239.65,588.59L239.83,588.6L240.02,588.6L240.21,588.61L240.39,588.61L240.58,588.62L240.77,588.62L240.95,588.62L241.14,588.63L241.32,588.63L241.51,588.64L241.7,588.64L241.88,588.64L242.07,588.65L242.26,588.65L242.44,588.65L242.63,588.65L242.82,588.66L243,588.66L243.19,588.65L243.38,588.65L243.56,588.64L243.75,588.62L243.94,588.59L244.12,588.56L244.31,588.51L244.5,588.44L244.68,588.35L244.87,588.24L245.06,588.09L245.24,587.91L245.43,587.69L245.62,587.42L245.8,587.1L245.99,586.74L246.18,586.33L246.36,585.87L246.55,585.37L246.74,584.84L246.92,584.29L247.11,583.74L247.3,583.2L247.48,582.69L247.67,582.22L247.86,581.82L248.04,581.5L248.23,581.28L248.42,581.15L248.6,581.14L248.79,581.23L248.98,581.43L249.16,581.73L249.35,582.12L249.54,582.57L249.72,583.08L249.91,583.62L250.1,584.18L250.28,584.74L250.47,585.28L250.65,585.8L250.84,586.28L251.03,586.72L251.21,587.1L251.4,587.44L251.59,587.74L251.77,587.98L251.96,588.19L252.15,588.35L252.33,588.48L252.52,588.59L252.71,588.67L252.89,588.73L253.08,588.78L253.27,588.82L253.45,588.85L253.64,588.87L253.83,588.88L254.01,588.9L254.2,588.91L254.39,588.91L254.57,588.92L254.76,588.93L254.95,588.93L255.13,588.94L255.32,588.94L255.51,588.94L255.69,588.95L255.88,588.95L256.07,588.96L256.25,588.96L256.44,588.96L256.63,588.97L256.81,588.97L257,588.98L257.19,588.98L257.37,588.99L257.56,588.99L257.75,588.99L257.93,589L258.12,589L258.31,589.01L258.49,589.01L258.68,589.01L258.87,589.02L259.05,589.02L259.24,589.03L259.43,589.03L259.61,589.03L259.8,589.04L259.98,589.04L260.17,589.05L260.36,589.05L260.54,589.06L260.73,589.06L260.92,589.06L261.1,589.07L261.29,589.07L261.48,589.08L261.66,589.08L261.85,589.08L262.04,589.09L262.22,589.09L262.41,589.09L262.6,589.1L262.78,589.1L262.97,589.1L263.16,589.11L263.34,589.11L263.53,589.11L263.72,589.11L263.9,589.1L264.09,589.1L264.28,589.09L264.46,589.09L264.65,589.08L264.84,589.06L265.02,589.04L265.21,589.02L265.4,589L265.58,588.97L265.77,588.93L265.96,588.89L266.14,588.84L266.33,588.79L266.52,588.74L266.7,588.68L266.89,588.61L267.08,588.55L267.26,588.48L267.45,588.42L267.64,588.35L267.82,588.29L268.01,588.24L268.2,588.19L268.38,588.15L268.57,588.11L268.76,588.09L268.94,588.08L269.13,588.08L269.31,588.1L269.5,588.12L269.69,588.15L269.87,588.2L270.06,588.25L270.25,588.31L270.43,588.37L270.62,588.44L270.81,588.51L270.99,588.59L271.18,588.66L271.37,588.73L271.55,588.8L271.74,588.86L271.93,588.92L272.11,588.97L272.3,589.02L272.49,589.07L272.67,589.11L272.86,589.14L273.05,589.17L273.23,589.2L273.42,589.22L273.61,589.24L273.79,589.26L273.98,589.27L274.17,589.28L274.35,589.29L274.54,589.3L274.73,589.31L274.91,589.31L275.1,589.32L275.29,589.32L275.47,589.33L275.66,589.33L275.85,589.33L276.03,589.34L276.22,589.34L276.41,589.34L276.59,589.35L276.78,589.35L276.97,589.35L277.15,589.36L277.34,589.36L277.53,589.36L277.71,589.36L277.9,589.37L278.09,589.37L278.27,589.37L278.46,589.38L278.64,589.38L278.83,589.38L279.02,589.38L279.2,589.39L279.39,589.39L279.58,589.39L279.76,589.4L279.95,589.4L280.14,589.4L280.32,589.4L280.51,589.41L280.7,589.41L280.88,589.41L281.07,589.42L281.26,589.42L281.44,589.42L281.63,589.42L281.82,589.43L282,589.43L282.19,589.43L282.38,589.44L282.56,589.44L282.75,589.44L282.94,589.44L283.12,589.45L283.31,589.45L283.5,589.45L283.68,589.46L283.87,589.46L284.06,589.46L284.24,589.46L284.43,589.47L284.62,589.47L284.8,589.47L284.99,589.48L285.18,589.48L285.36,589.48L285.55,589.48L285.74,589.49L285.92,589.49L286.11,589.49L286.3,589.5L286.48,589.5L286.67,589.5L286.86,589.5L287.04,589.51L287.23,589.51L287.42,589.51L287.6,589.52L287.79,589.52L287.97,589.52L288.16,589.52L288.35,589.53L288.53,589.53L288.72,589.53L288.91,589.54L289.09,589.54L289.28,589.54L289.47,589.54L289.65,589.55L289.84,589.55L290.03,589.55L290.21,589.56L290.4,589.56L290.59,589.56L290.77,589.56L290.96,589.57L291.15,589.57L291.33,589.57L291.52,589.58L291.71,589.58L291.89,589.58" fill="none" stroke="#22208c" stroke-width="1.1" stroke-opacity="1" stroke-linejoin="round"/>
<line x1="292.58" y1="590.73" x2="435.64" y2="590.73" stroke="#2a2a92" stroke-width="1"/>
<path d="M50.1,593.4 V286.9 H672 V593.4" fill="none" stroke="#6b6bdc" stroke-width="1.4"/>
<line x1="49.4" y1="594.0" x2="672.7" y2="594.0" stroke="#5858d0" stroke-width="2.0"/>
<line x1="48.300000000000004" y1="591.5" x2="50.1" y2="591.5" stroke="#3030a0" stroke-width="1"/>
<line x1="48.300000000000004" y1="560.86" x2="50.1" y2="560.86" stroke="#3030a0" stroke-width="1"/>
<line x1="48.300000000000004" y1="530.22" x2="50.1" y2="530.22" stroke="#3030a0" stroke-width="1"/>
<line x1="48.300000000000004" y1="499.58" x2="50.1" y2="499.58" stroke="#3030a0" stroke-width="1"/>
<line x1="48.300000000000004" y1="468.94" x2="50.1" y2="468.94" stroke="#3030a0" stroke-width="1"/>
<line x1="48.300000000000004" y1="438.3" x2="50.1" y2="438.3" stroke="#3030a0" stroke-width="1"/>
<line x1="48.300000000000004" y1="407.66" x2="50.1" y2="407.66" stroke="#3030a0" stroke-width="1"/>
<line x1="48.300000000000004" y1="377.02" x2="50.1" y2="377.02" stroke="#3030a0" stroke-width="1"/>
<line x1="48.300000000000004" y1="346.38" x2="50.1" y2="346.38" stroke="#3030a0" stroke-width="1"/>
<line x1="48.300000000000004" y1="315.74" x2="50.1" y2="315.74" stroke="#3030a0" stroke-width="1"/>
<text x="48" y="602.1" text-anchor="end" textLength="5" lengthAdjust="spacingAndGlyphs">0</text>
<text x="48" y="571.46" text-anchor="end" textLength="10" lengthAdjust="spacingAndGlyphs">40</text>
<text x="48" y="540.82" text-anchor="end" textLength="10" lengthAdjust="spacingAndGlyphs">80</text>
<text x="48" y="510.18" text-anchor="end" textLength="15" lengthAdjust="spacingAndGlyphs">120</text>
<text x="48" y="479.54" text-anchor="end" textLength="15" lengthAdjust="spacingAndGlyphs">160</text>
<text x="48" y="448.9" text-anchor="end" textLength="15" lengthAdjust="spacingAndGlyphs">200</text>
<text x="48" y="418.26" text-anchor="end" textLength="15" lengthAdjust="spacingAndGlyphs">240</text>
<text x="48" y="387.62" text-anchor="end" textLength="15" lengthAdjust="spacingAndGlyphs">280</text>
<text x="48" y="356.98" text-anchor="end" textLength="15" lengthAdjust="spacingAndGlyphs">320</text>
<text x="48" y="326.34" text-anchor="end" textLength="15" lengthAdjust="spacingAndGlyphs">360</text>
<text x="44.25" y="609.0" textLength="11.5" lengthAdjust="spacingAndGlyphs">0.0</text>
<line x1="50" y1="595.2" x2="50" y2="596.4" stroke="#3030a0" stroke-width="0.8"/>
<text x="106.45" y="609.0" textLength="11.5" lengthAdjust="spacingAndGlyphs">2.0</text>
<line x1="112.2" y1="595.2" x2="112.2" y2="596.4" stroke="#3030a0" stroke-width="0.8"/>
<text x="168.65" y="609.0" textLength="11.5" lengthAdjust="spacingAndGlyphs">4.0</text>
<line x1="174.4" y1="595.2" x2="174.4" y2="596.4" stroke="#3030a0" stroke-width="0.8"/>
<text x="230.85" y="609.0" textLength="11.5" lengthAdjust="spacingAndGlyphs">6.0</text>
<line x1="236.6" y1="595.2" x2="236.6" y2="596.4" stroke="#3030a0" stroke-width="0.8"/>
<text x="293.05" y="609.0" textLength="11.5" lengthAdjust="spacingAndGlyphs">8.0</text>
<line x1="298.8" y1="595.2" x2="298.8" y2="596.4" stroke="#3030a0" stroke-width="0.8"/>
<text x="352.75" y="609.0" textLength="16.5" lengthAdjust="spacingAndGlyphs">10.0</text>
<line x1="361" y1="595.2" x2="361" y2="596.4" stroke="#3030a0" stroke-width="0.8"/>
<text x="414.95" y="609.0" textLength="16.5" lengthAdjust="spacingAndGlyphs">12.0</text>
<line x1="423.2" y1="595.2" x2="423.2" y2="596.4" stroke="#3030a0" stroke-width="0.8"/>
<text x="477.15" y="609.0" textLength="16.5" lengthAdjust="spacingAndGlyphs">14.0</text>
<line x1="485.4" y1="595.2" x2="485.4" y2="596.4" stroke="#3030a0" stroke-width="0.8"/>
<text x="539.35" y="609.0" textLength="16.5" lengthAdjust="spacingAndGlyphs">16.0</text>
<line x1="547.6" y1="595.2" x2="547.6" y2="596.4" stroke="#3030a0" stroke-width="0.8"/>
<text x="601.55" y="609.0" textLength="16.5" lengthAdjust="spacingAndGlyphs">18.0</text>
<line x1="609.8" y1="595.2" x2="609.8" y2="596.4" stroke="#3030a0" stroke-width="0.8"/>
<rect x="62.6" y="388.4" width="11.4" height="13.6" fill="#fff" fill-opacity="0.55" stroke="none"/>
<rect x="100.4" y="353.8" width="12" height="13.6" fill="#fff" fill-opacity="0.55" stroke="none"/>
<rect x="158.65" y="296.6" width="15.5" height="13.6" fill="#fff" fill-opacity="0.55" stroke="none"/>
<rect x="54.6" y="481.1" width="11" height="13.6" fill="#fff" fill-opacity="0.55" stroke="none"/>
<rect x="51.6" y="508.2" width="10" height="13.6" fill="#fff" fill-opacity="0.55" stroke="none"/>
<rect x="52.5" y="530.2" width="12" height="13.6" fill="#fff" fill-opacity="0.55" stroke="none"/>
<rect x="54.25" y="561.2" width="15.5" height="13.6" fill="#fff" fill-opacity="0.55" stroke="none"/>
<rect x="65.7" y="570.2" width="15" height="13.6" fill="#fff" fill-opacity="0.55" stroke="none"/>
<rect x="91.7" y="533.2" width="13" height="13.6" fill="#fff" fill-opacity="0.55" stroke="none"/>
<rect x="118.9" y="547.2" width="10" height="13.6" fill="#fff" fill-opacity="0.55" stroke="none"/>
<rect x="123.1" y="565.9" width="10" height="13.6" fill="#fff" fill-opacity="0.55" stroke="none"/>
<rect x="168.75" y="528.5" width="15.5" height="13.6" fill="#fff" fill-opacity="0.55" stroke="none"/>
<rect x="243.3" y="560.2" width="15" height="13.6" fill="#fff" fill-opacity="0.55" stroke="none"/>
<rect x="263.6" y="568.2" width="15" height="13.6" fill="#fff" fill-opacity="0.55" stroke="none"/>
<text x="65.1" y="399.16" font-size="11" textLength="6.4" lengthAdjust="spacingAndGlyphs">O</text>
<text x="102.9" y="364.56" font-size="11" textLength="7" lengthAdjust="spacingAndGlyphs">Si</text>
<text x="161.15" y="307.36" font-size="11" textLength="10.5" lengthAdjust="spacingAndGlyphs">Ca</text>
<text x="57.1" y="491.86" font-size="11" textLength="6" lengthAdjust="spacingAndGlyphs">C</text>
<text x="54.1" y="518.96" font-size="11" textLength="5" lengthAdjust="spacingAndGlyphs">S</text>
<text x="55" y="540.96" font-size="11" textLength="7" lengthAdjust="spacingAndGlyphs">Si</text>
<text x="56.75" y="571.96" font-size="11" textLength="10.5" lengthAdjust="spacingAndGlyphs">Ca</text>
<text x="68.2" y="580.96" font-size="11" textLength="10" lengthAdjust="spacingAndGlyphs">Fe</text>
<text x="94.2" y="543.96" font-size="11" textLength="8" lengthAdjust="spacingAndGlyphs">Al</text>
<text x="121.4" y="557.96" font-size="11" textLength="5" lengthAdjust="spacingAndGlyphs">S</text>
<text x="125.6" y="576.66" font-size="11" textLength="5" lengthAdjust="spacingAndGlyphs">S</text>
<text x="171.25" y="539.26" font-size="11" textLength="10.5" lengthAdjust="spacingAndGlyphs">Ca</text>
<text x="245.8" y="570.96" font-size="11" textLength="10" lengthAdjust="spacingAndGlyphs">Fe</text>
<text x="266.1" y="578.96" font-size="11" textLength="10" lengthAdjust="spacingAndGlyphs">Fe</text>
<rect x="513.4" y="290.7" width="156.60000000000002" height="39.80000000000001" fill="#fff" stroke="#1a1a1a" stroke-width="1.2"/>
<line x1="670.9" y1="291.7" x2="670.9" y2="331.1" stroke="#9a9a9a" stroke-width="0.9"/>
<text x="525.1" y="314.5" font-family="Liberation Serif, serif" font-size="20" fill="#000" stroke="none" textLength="134" lengthAdjust="spacingAndGlyphs">SF15LS10DK10</text>
<text x="7.9" y="635.4" font-size="11.8" textLength="40.6" lengthAdjust="spacingAndGlyphs">Lsec: 30.0</text>
<text x="70.2" y="635.4" font-size="11.8" textLength="26.4" lengthAdjust="spacingAndGlyphs">0 Cnts</text>
<text x="123" y="635.4" font-size="11.8" textLength="47.3" lengthAdjust="spacingAndGlyphs">13.075 keV</text>
<text x="192.3" y="635.4" font-size="11.8" textLength="66.7" lengthAdjust="spacingAndGlyphs">Det: Octane Pro</text></g>
<rect x="3" y="662.6" width="681.4" height="338.7" fill="#fff" stroke="#d9d9d9" stroke-width="1.4"/>
<line x1="67" y1="959.2" x2="667" y2="959.2" stroke="#d9d9d9" stroke-width="1.3"/>
<line x1="67" y1="959.2" x2="67" y2="963" stroke="#d9d9d9" stroke-width="1"/>
<line x1="167" y1="959.2" x2="167" y2="963" stroke="#d9d9d9" stroke-width="1"/>
<line x1="267" y1="959.2" x2="267" y2="963" stroke="#d9d9d9" stroke-width="1"/>
<line x1="367" y1="959.2" x2="367" y2="963" stroke="#d9d9d9" stroke-width="1"/>
<line x1="467" y1="959.2" x2="467" y2="963" stroke="#d9d9d9" stroke-width="1"/>
<line x1="567" y1="959.2" x2="567" y2="963" stroke="#d9d9d9" stroke-width="1"/>
<line x1="667" y1="959.2" x2="667" y2="963" stroke="#d9d9d9" stroke-width="1"/>
<text x="67.3" y="979" text-anchor="middle" font-family="Liberation Serif, serif" font-weight="bold" font-size="12.8" fill="#595959">0</text>
<text x="167.3" y="979" text-anchor="middle" font-family="Liberation Serif, serif" font-weight="bold" font-size="12.8" fill="#595959">1</text>
<text x="267.3" y="979" text-anchor="middle" font-family="Liberation Serif, serif" font-weight="bold" font-size="12.8" fill="#595959">2</text>
<text x="367.3" y="979" text-anchor="middle" font-family="Liberation Serif, serif" font-weight="bold" font-size="12.8" fill="#595959">3</text>
<text x="467.3" y="979" text-anchor="middle" font-family="Liberation Serif, serif" font-weight="bold" font-size="12.8" fill="#595959">4</text>
<text x="567.3" y="979" text-anchor="middle" font-family="Liberation Serif, serif" font-weight="bold" font-size="12.8" fill="#595959">5</text>
<text x="667.3" y="979" text-anchor="middle" font-family="Liberation Serif, serif" font-weight="bold" font-size="12.8" fill="#595959">6</text>
<text x="302.2" y="994.7" font-family="Liberation Serif, serif" font-weight="bold" font-size="17.5" fill="#595959" textLength="145" lengthAdjust="spacingAndGlyphs">ENERGY [KEV]</text>
<text transform="translate(39.3,861.8) rotate(-90)" x="0" y="0" font-family="Liberation Serif, serif" font-weight="bold" font-size="18.5" fill="#595959" textLength="64.4" lengthAdjust="spacingAndGlyphs">CPS/EV</text>
<text x="109.3" y="703.5" font-family="Liberation Serif, serif" font-weight="bold" font-size="21" fill="#c00000" textLength="16.4" lengthAdjust="spacingAndGlyphs">O</text>
<text x="231" y="706" font-family="Liberation Serif, serif" font-weight="bold" font-size="21" fill="#c00000" textLength="18.5" lengthAdjust="spacingAndGlyphs">Si</text>
<text x="422.2" y="693.4" font-family="Liberation Serif, serif" font-weight="bold" font-size="21" fill="#c00000" textLength="26.8" lengthAdjust="spacingAndGlyphs">Ca</text>
<path d="M67,736.78L67.5,737.15L68,737.28L68.5,736.93L69,737.28L69.5,737.26L70,737.21L70.5,737.65L71,736.99L71.5,737.13L72,737.32L72.5,737.55L73,737.19L73.5,736.87L74,737.42L74.5,737.53L75,737.13L75.5,737.67L76,737.84L76.5,737.35L77,737.42L77.5,737.3L78,737.38L78.5,737.13L79,737.28L79.5,737.38L80,737.34L80.5,737.04L81,736.94L81.5,736.95L82,737.01L82.5,738.1L83,737.46L83.5,737.26L84,737.11L84.5,737.6L85,736.73L85.5,737.01L86,737.24L86.5,736.96L87,737.03L87.5,737.06L88,736.56L88.5,736.69L89,736.8L89.5,736.34L90,735.91L90.5,735.94L91,734.86L91.5,735.33L92,734.07L92.5,734.1L93,734.53L93.5,734.02L94,733.6L94.5,734.13L95,734.6L95.5,734.35L96,733.97L96.5,735.44L97,735.06L97.5,735.55L98,735.87L98.5,736.22L99,736.41L99.5,736.19L100,736.47L100.5,737.07L101,736.41L101.5,737.3L102,736.78L102.5,736.95L103,736.68L103.5,736.93L104,736.74L104.5,737.05L105,736.76L105.5,736.94L106,736.41L106.5,737.22L107,736.66L107.5,736.86L108,736.92L108.5,737.11L109,736.79L109.5,737.32L110,737.24L110.5,736.56L111,737.14L111.5,736.11L112,736.44L112.5,736.01L113,735.69L113.5,735.06L114,734.63L114.5,733.81L115,732.67L115.5,730.96L116,729.48L116.5,727.85L117,726.6L117.5,725.26L118,724.51L118.5,722.34L119,721.52L119.5,721.83L120,721.53L120.5,722.05L121,723.72L121.5,724.72L122,726.62L122.5,729.08L123,730.12L123.5,731.53L124,732.43L124.5,733.99L125,734.69L125.5,735.53L126,735.74L126.5,736.08L127,736.07L127.5,736.32L128,736.65L128.5,736.72L129,736.83L129.5,736.88L130,736.5L130.5,737.69L131,737.05L131.5,736.94L132,736.72L132.5,737.37L133,736.97L133.5,736.84L134,737.22L134.5,737.64L135,737.22L135.5,737.46L136,736.95L136.5,737.38L137,736.65L137.5,737.11L138,737.38L138.5,737.3L139,737.47L139.5,737.07L140,736.77L140.5,737.24L141,736.93L141.5,737.45L142,737.11L142.5,736.56L143,737.58L143.5,736.86L144,736.88L144.5,737.72L145,737.6L145.5,737.47L146,736.95L146.5,737.33L147,737.26L147.5,737.02L148,737.18L148.5,737.16L149,737.31L149.5,736.91L150,737.43L150.5,736.77L151,737.31L151.5,737.44L152,737.05L152.5,737.1L153,737.76L153.5,737.17L154,737.59L154.5,737.45L155,737.01L155.5,737.46L156,737.13L156.5,737.33L157,736.7L157.5,737.25L158,737.55L158.5,737.53L159,737.47L159.5,737.19L160,737.23L160.5,736.96L161,737.18L161.5,737.18L162,737.13L162.5,737.24L163,737.12L163.5,736.97L164,736.95L164.5,737.3L165,737.61L165.5,737.3L166,736.95L166.5,737.69L167,737.05L167.5,736.7L168,736.93L168.5,737.02L169,736.08L169.5,736.12L170,736.57L170.5,736.05L171,736.05L171.5,736.8L172,735.68L172.5,736.83L173,736.69L173.5,737.01L174,736.74L174.5,737.22L175,736.91L175.5,736.66L176,736.97L176.5,737.15L177,736.68L177.5,737.4L178,736.9L178.5,737.27L179,737.14L179.5,737.2L180,737.18L180.5,737.24L181,737.44L181.5,737.39L182,737.11L182.5,737.26L183,737.55L183.5,737.43L184,737.42L184.5,737.25L185,737.19L185.5,737.21L186,737.42L186.5,737.23L187,737.61L187.5,738.02L188,737.25L188.5,737.69L189,737.5L189.5,737.57L190,737.07L190.5,737.57L191,737.16L191.5,737.37L192,737.57L192.5,737.67L193,737.11L193.5,737.13L194,737.03L194.5,736.74L195,737.16L195.5,737.16L196,737.27L196.5,737.2L197,737.33L197.5,737.47L198,736.68L198.5,737.73L199,737.16L199.5,737.1L200,737.18L200.5,737.48L201,737.27L201.5,737.34L202,737.51L202.5,737.22L203,737.32L203.5,737.35L204,737.01L204.5,737.48L205,737.06L205.5,737.34L206,737.04L206.5,737.13L207,737.05L207.5,737.37L208,737.27L208.5,737.24L209,736.87L209.5,736.6L210,736.37L210.5,736.7L211,736.34L211.5,736.67L212,736.64L212.5,735.97L213,735.67L213.5,735.73L214,735.61L214.5,734.67L215,735.02L215.5,735.28L216,733.95L216.5,734.78L217,735.1L217.5,734.97L218,735.67L218.5,735.14L219,736.38L219.5,736.52L220,736.35L220.5,736.71L221,736.2L221.5,737.21L222,737.04L222.5,736.82L223,736.78L223.5,736.68L224,736.89L224.5,736.37L225,737.14L225.5,736.95L226,736.75L226.5,737.08L227,737.06L227.5,737.1L228,737.13L228.5,737.25L229,737.05L229.5,737.3L230,736.68L230.5,737.2L231,736.01L231.5,735.99L232,736L232.5,736.19L233,736.02L233.5,735.05L234,734.9L234.5,734.16L235,733.87L235.5,732.33L236,731.98L236.5,730.45L237,729.88L237.5,728.05L238,726.12L238.5,725.09L239,723.74L239.5,721.97L240,721.38L240.5,720.09L241,721.45L241.5,720.1L242,720.54L242.5,722.23L243,723.14L243.5,723.41L244,725.65L244.5,726.9L245,727.83L245.5,729.59L246,730.56L246.5,732.23L247,732.81L247.5,733.4L248,734.39L248.5,735.81L249,735.34L249.5,735.89L250,736.47L250.5,735.97L251,737.08L251.5,736.11L252,736.95L252.5,736.37L253,736.89L253.5,737.31L254,736.92L254.5,736.88L255,736.85L255.5,736.72L256,737.29L256.5,736.91L257,736.86L257.5,737.15L258,737.35L258.5,737.37L259,736.9L259.5,736.89L260,737.35L260.5,737.5L261,736.79L261.5,737.57L262,737.1L262.5,737.37L263,737.64L263.5,737.12L264,737.21L264.5,736.75L265,736.52L265.5,737.2L266,736.86L266.5,736.85L267,737.28L267.5,737.37L268,736.66L268.5,737.2L269,737.08L269.5,737.13L270,737.06L270.5,737.16L271,736.73L271.5,736.54L272,736.96L272.5,737.21L273,736.73L273.5,737.12L274,736.8L274.5,736.16L275,735.76L275.5,736.27L276,736.64L276.5,736L277,736.88L277.5,736.34L278,735.59L278.5,735.79L279,736.43L279.5,736.5L280,735.7L280.5,735.99L281,736.18L281.5,735.9L282,736.26L282.5,736.73L283,735.94L283.5,736.46L284,736.64L284.5,736.82L285,736.41L285.5,736.8L286,736.45L286.5,736.78L287,736.45L287.5,736.95L288,737.08L288.5,737.51L289,737.3L289.5,736.83L290,736.2L290.5,737.45L291,737.42L291.5,737.06L292,737.04L292.5,737.37L293,737.18L293.5,737.65L294,737.3L294.5,736.98L295,736.79L295.5,737.29L296,737.32L296.5,737.13L297,736.95L297.5,737.12L298,737.46L298.5,737.16L299,737L299.5,737.46L300,737.62L300.5,737.13L301,737.17L301.5,737.01L302,737.25L302.5,737.44L303,737.39L303.5,737.55L304,737.53L304.5,737.42L305,737.4L305.5,736.98L306,737.6L306.5,737.29L307,737.43L307.5,736.88L308,737.21L308.5,737.38L309,737.06L309.5,737.26L310,737.41L310.5,736.87L311,737.09L311.5,736.82L312,736.97L312.5,737.07L313,737.25L313.5,737.57L314,737.09L314.5,737.26L315,737.1L315.5,737.28L316,737.47L316.5,737.55L317,737.1L317.5,736.94L318,737.36L318.5,737.16L319,736.91L319.5,737.51L320,737.37L320.5,737.58L321,736.97L321.5,737.21L322,737.41L322.5,737.73L323,737.33L323.5,737.02L324,737.36L324.5,737.4L325,737.11L325.5,737.61L326,737.27L326.5,737.12L327,737.49L327.5,737.51L328,737.22L328.5,737.31L329,737.35L329.5,737.23L330,737.23L330.5,737.53L331,737.46L331.5,737.16L332,736.99L332.5,736.92L333,737.51L333.5,736.99L334,737.08L334.5,737.29L335,737.15L335.5,737.06L336,736.81L336.5,737.56L337,737.12L337.5,737.32L338,737.34L338.5,736.98L339,737.07L339.5,737.55L340,737.36L340.5,737.22L341,737.66L341.5,737.05L342,737.3L342.5,737.24L343,737.19L343.5,736.8L344,737.27L344.5,737.38L345,736.82L345.5,737.41L346,737.42L346.5,737.65L347,736.99L347.5,737.21L348,737.16L348.5,737.24L349,737.32L349.5,737.49L350,737.49L350.5,737.17L351,737.25L351.5,736.85L352,737.48L352.5,737.41L353,737.55L353.5,736.91L354,737.61L354.5,737.07L355,736.9L355.5,737.31L356,737.08L356.5,737.84L357,737.38L357.5,737.72L358,737.23L358.5,737.27L359,737.48L359.5,737.02L360,737.18L360.5,737.41L361,737.41L361.5,737.67L362,737.32L362.5,736.71L363,737.46L363.5,737.16L364,737.42L364.5,737.06L365,737.15L365.5,737.33L366,737.75L366.5,737.41L367,736.95L367.5,737.34L368,737.1L368.5,737.4L369,737.77L369.5,737.15L370,737.18L370.5,737.42L371,737.37L371.5,737.19L372,737.42L372.5,737.17L373,737.32L373.5,737.89L374,737.3L374.5,737.42L375,737.49L375.5,737.15L376,737.39L376.5,737.12L377,736.97L377.5,737.22L378,737.67L378.5,737.45L379,737.01L379.5,737.33L380,737.47L380.5,737.28L381,737.12L381.5,737.18L382,737.08L382.5,737.47L383,737.32L383.5,737.32L384,737.25L384.5,737.81L385,737.31L385.5,737.61L386,736.87L386.5,736.82L387,736.79L387.5,737.02L388,737.37L388.5,736.98L389,737.29L389.5,737.07L390,737.48L390.5,737.39L391,737.11L391.5,736.75L392,737.24L392.5,736.62L393,736.48L393.5,737.57L394,737.23L394.5,737.48L395,737.26L395.5,737.36L396,737.23L396.5,736.95L397,736.95L397.5,737.14L398,737.2L398.5,737.17L399,737.17L399.5,737.04L400,737.19L400.5,737.05L401,737.55L401.5,736.97L402,736.7L402.5,737.13L403,737.56L403.5,736.8L404,737.26L404.5,737.99L405,737.22L405.5,736.99L406,737.04L406.5,736.8L407,736.97L407.5,737.1L408,737.68L408.5,737.43L409,737.07L409.5,736.92L410,737.39L410.5,737.27L411,736.96L411.5,737.62L412,737.62L412.5,737.13L413,736.98L413.5,737.18L414,737.68L414.5,737.01L415,737.39L415.5,736.81L416,737.01L416.5,736.89L417,736.76L417.5,737.08L418,736.67L418.5,736.53L419,736.74L419.5,736.44L420,736.98L420.5,736.48L421,736.62L421.5,736.93L422,736.58L422.5,736.63L423,736.52L423.5,736.17L424,735.68L424.5,735.89L425,735.47L425.5,735.65L426,734.72L426.5,733.86L427,733.39L427.5,732.82L428,732.39L428.5,731.66L429,730.32L429.5,729.69L430,728.45L430.5,726.24L431,725.66L431.5,723.07L432,723.08L432.5,720.84L433,720.25L433.5,718.4L434,717.89L434.5,716.49L435,715.91L435.5,715.65L436,715.03L436.5,714.69L437,716.12L437.5,716.07L438,717.35L438.5,718.49L439,718.68L439.5,722.02L440,722.73L440.5,724.64L441,725.39L441.5,726.72L442,726.37L442.5,729.01L443,729.57L443.5,730.78L444,732.34L444.5,732.79L445,733.06L445.5,734.17L446,734.66L446.5,734.97L447,735.97L447.5,736.01L448,735.87L448.5,735.99L449,736.59L449.5,736.52L450,736.55L450.5,736.63L451,736.44L451.5,736.66L452,736.67L452.5,737.17L453,737.08L453.5,736.69L454,737.26L454.5,736.72L455,736.98L455.5,737.02L456,736.57L456.5,736.94L457,736.96L457.5,736.87L458,736.6L458.5,735.73L459,737.12L459.5,736.4L460,736.38L460.5,735.9L461,736.2L461.5,736.74L462,735.4L462.5,736.03L463,735.56L463.5,735.84L464,735.61L464.5,735.28L465,734.7L465.5,734.58L466,734.97L466.5,734.51L467,734.75L467.5,734.55L468,734.53L468.5,734.38L469,734.85L469.5,734.75L470,734.72L470.5,734.88L471,735.3L471.5,734.6L472,735.47L472.5,735.22L473,735.56L473.5,735.39L474,736.62L474.5,735.42L475,736.27L475.5,736.71L476,736.41L476.5,735.87L477,736.49L477.5,737.09L478,736.94L478.5,736.48L479,737.33L479.5,737.02L480,737.1L480.5,736.43L481,737.16L481.5,736.73L482,737.31L482.5,737.36L483,736.87L483.5,736.99L484,737.65L484.5,737L485,737.01L485.5,737.36L486,737.14L486.5,737.13L487,737.34L487.5,737.37L488,737.4L488.5,737.29L489,737.58L489.5,737.23L490,737.63L490.5,737.21L491,737.25L491.5,737.51L492,737L492.5,736.71L493,736.88L493.5,737.61L494,736.89L494.5,737.18L495,737.26L495.5,737.41L496,737.25L496.5,736.87L497,737.1L497.5,737.36L498,737.43L498.5,737.37L499,737.1L499.5,736.75L500,737.54L500.5,737.26L501,737.36L501.5,737.46L502,737.15L502.5,737.11L503,737.64L503.5,737.54L504,736.94L504.5,737.18L505,737.13L505.5,737.4L506,737.37L506.5,737.14L507,737.4L507.5,737.57L508,737.27L508.5,737.03L509,737.55L509.5,736.99L510,737.08L510.5,737.5L511,737.27L511.5,737.29L512,737.11L512.5,737.1L513,737.62L513.5,737.64L514,737L514.5,737.25L515,737.17L515.5,737.19L516,736.87L516.5,737.6L517,736.99L517.5,737.5L518,737.09L518.5,736.92L519,737.65L519.5,737.17L520,737.36L520.5,737.36L521,737.27L521.5,737.56L522,737.54L522.5,737.11L523,737.06L523.5,737.43L524,737.67L524.5,736.67L525,736.99L525.5,737.19L526,737.56L526.5,737.44L527,737.22L527.5,737.54L528,736.86L528.5,737.25L529,737.18L529.5,737.56L530,737.53L530.5,737.5L531,737.22L531.5,737.36L532,737.36L532.5,737.21L533,737.23L533.5,736.9L534,737.34L534.5,737.56L535,737.29L535.5,736.9L536,737.44L536.5,737.28L537,737.38L537.5,737.18L538,737.22L538.5,737.5L539,737.35L539.5,737.04L540,737L540.5,737.05L541,737.07L541.5,737.38L542,737.39L542.5,737.05L543,737.6L543.5,737.31L544,737.78L544.5,737.39L545,737.48L545.5,737.61L546,737.14L546.5,737.49L547,737.39L547.5,737.36L548,737.49L548.5,736.92L549,737.42L549.5,737.24L550,737.64L550.5,737.42L551,737.38L551.5,737.37L552,737.45L552.5,737.26L553,736.89L553.5,737.33L554,737.33L554.5,737.4L555,736.63L555.5,736.87L556,737.15L556.5,737.11L557,737.48L557.5,737.34L558,737.24L558.5,737.26L559,737.52L559.5,737.5L560,737.16L560.5,737.21L561,737.85L561.5,737.27L562,736.97L562.5,737.46L563,737.23L563.5,737.68L564,737.08L564.5,737.59L565,737.62L565.5,737.38L566,736.68L566.5,737.46L567,737.63L567.5,737.18L568,737.24L568.5,736.87L569,737.63L569.5,737.71L570,737.38L570.5,737.2L571,737.21L571.5,737.02L572,737.69L572.5,737.51L573,737.33L573.5,737.08L574,737.17L574.5,737.41L575,737.56L575.5,737.07L576,737.05L576.5,736.59L577,737.34L577.5,736.88L578,737.61L578.5,737.44L579,737.47L579.5,737.42L580,737.53L580.5,737.44L581,737.31L581.5,737.42L582,737.13L582.5,737.32L583,737.3L583.5,736.92L584,737.22L584.5,737.26L585,737.3L585.5,737.28L586,737.15L586.5,737.51L587,737L587.5,736.89L588,737L588.5,737.43L589,737.71L589.5,737.41L590,737.26L590.5,737.09L591,737.35L591.5,737.38L592,736.91L592.5,737.47L593,737.02L593.5,737.07L594,737.64L594.5,737.23L595,737.44L595.5,737.55L596,737.78L596.5,737.71L597,737.19L597.5,737.4L598,737.23L598.5,737.58L599,737.38L599.5,737.37L600,737.7L600.5,737.73L601,737.19L601.5,737.26L602,737.54L602.5,737.33L603,737.13L603.5,736.83L604,737.53L604.5,737.14L605,736.75L605.5,737.28L606,736.92L606.5,737.97L607,736.93L607.5,737.3L608,737.79L608.5,737.1L609,737.03L609.5,736.99L610,736.99L610.5,737.31L611,737.5L611.5,737.42L612,737.31L612.5,737.2L613,737.43L613.5,737.29L614,737.07L614.5,737.22L615,736.71L615.5,736.74L616,737.6L616.5,737.45L617,737.64L617.5,737.6L618,737.16L618.5,737.56L619,737.57L619.5,737.37L620,737.09L620.5,737.39L621,737.39L621.5,737.06L622,737.18L622.5,737.18L623,737.06L623.5,737.56L624,737.25L624.5,737.47L625,737.04L625.5,737.09L626,737.57L626.5,736.96L627,737.61L627.5,737L628,737.25L628.5,737.53L629,737.59L629.5,737.38L630,737.31L630.5,737.49L631,737.16L631.5,737.67L632,737.3L632.5,737.3L633,737.79L633.5,737.22L634,737.63L634.5,737.95L635,737.46L635.5,737.36L636,737.07L636.5,737.43L637,736.92L637.5,736.93L638,737.02L638.5,736.96L639,737.21L639.5,737.45L640,737.14L640.5,737.05L641,737.24L641.5,737.37L642,737.71L642.5,737.13L643,737.21L643.5,737.64L644,737.28L644.5,737.12L645,737.33L645.5,737.1L646,737.11L646.5,737.69L647,737.38L647.5,737.18L648,737.07L648.5,736.94L649,737.8L649.5,737.32L650,737.12L650.5,736.99L651,736.87L651.5,737.55L652,737.4L652.5,737.58L653,737.09L653.5,737.65L654,737L654.5,737.06L655,737.18L655.5,737.87L656,737.48L656.5,737.11L657,737.67L657.5,737.37L658,737.33L658.5,737.07L659,737.23L659.5,737.23L660,737.42L660.5,737.3L661,737.34L661.5,737.12L662,737.35L662.5,737.04L663,737.75L663.5,736.99L664,737.35L664.5,737.01L665,737.28L665.5,737.08L666,736.92" fill="none" stroke="#c00000" stroke-width="2.8" stroke-linejoin="round"/>
<path d="M67,778.82L67.5,778.65L68,778.72L68.5,778.61L69,779.1L69.5,778.71L70,778.73L70.5,778.88L71,778.72L71.5,779.08L72,778.29L72.5,778.54L73,778.16L73.5,778.89L74,778.97L74.5,778.58L75,779.1L75.5,778.59L76,778.84L76.5,778.74L77,778.58L77.5,778.63L78,778.14L78.5,778.47L79,778.98L79.5,778.37L80,778.99L80.5,778.6L81,778.96L81.5,778.84L82,778.25L82.5,778.75L83,778.77L83.5,778.74L84,778.66L84.5,778.16L85,778.86L85.5,778.85L86,778.3L86.5,778.85L87,778.43L87.5,777.89L88,778.08L88.5,778.05L89,777.92L89.5,777.74L90,777.35L90.5,776.8L91,776.1L91.5,775.85L92,776.04L92.5,775.81L93,775.09L93.5,775.82L94,775.29L94.5,775.3L95,775.71L95.5,775.89L96,775.71L96.5,776.7L97,776.78L97.5,777.02L98,777.09L98.5,777.83L99,777.31L99.5,777.94L100,778.09L100.5,778.24L101,778.43L101.5,778.59L102,778.03L102.5,778.33L103,778.44L103.5,778.14L104,778.63L104.5,778.24L105,778.41L105.5,778.66L106,778.18L106.5,778.81L107,778.18L107.5,778.6L108,778.21L108.5,777.9L109,778.1L109.5,778.39L110,778.16L110.5,778.18L111,778.3L111.5,778.11L112,777.51L112.5,777L113,777.26L113.5,776.05L114,774.97L114.5,773.99L115,773.03L115.5,770.6L116,769.63L116.5,766.82L117,764.28L117.5,763.85L118,760.96L118.5,759.46L119,758.54L119.5,758.68L120,758.8L120.5,760.27L121,761.03L121.5,762.69L122,765.28L122.5,767.5L123,769.34L123.5,771.02L124,772.64L124.5,774.08L125,775.14L125.5,776.48L126,777.59L126.5,777L127,777.11L127.5,778.23L128,778.17L128.5,778.01L129,777.91L129.5,778.06L130,777.93L130.5,778.35L131,778.25L131.5,778.28L132,778.54L132.5,778.1L133,778.28L133.5,778.2L134,778.6L134.5,778.22L135,778.81L135.5,778.42L136,779.26L136.5,778.82L137,778.35L137.5,778.69L138,778.52L138.5,779.02L139,778.16L139.5,778.43L140,778.6L140.5,778.49L141,778.52L141.5,778.22L142,778.55L142.5,779.01L143,778.69L143.5,778.28L144,778.47L144.5,778.74L145,778.47L145.5,778.6L146,778.47L146.5,779.06L147,778.88L147.5,778.46L148,778.7L148.5,778.55L149,778.12L149.5,778.73L150,778.58L150.5,778.8L151,778.82L151.5,778.67L152,779.04L152.5,779.22L153,778.29L153.5,778.68L154,778.35L154.5,778.62L155,778.61L155.5,778.48L156,778.46L156.5,778.98L157,778.33L157.5,778.91L158,778.6L158.5,777.97L159,778.63L159.5,778.2L160,778.74L160.5,778.48L161,778.62L161.5,778.52L162,778.85L162.5,778.86L163,778.5L163.5,778.99L164,778.76L164.5,778.3L165,778.59L165.5,778.6L166,778.57L166.5,778.09L167,778.11L167.5,777.82L168,777.77L168.5,776.99L169,777.54L169.5,777.89L170,777.14L170.5,777.11L171,777.04L171.5,777.62L172,776.82L172.5,777.29L173,777.42L173.5,778.04L174,777.57L174.5,777.88L175,777.61L175.5,778.26L176,778.6L176.5,778.31L177,778.68L177.5,778.37L178,778.83L178.5,778.6L179,778.65L179.5,778.62L180,778.76L180.5,778.85L181,778.65L181.5,778.8L182,778.61L182.5,778.72L183,779.25L183.5,778.67L184,778.29L184.5,778.58L185,778.5L185.5,778.54L186,778.78L186.5,779.01L187,778.44L187.5,778.38L188,778.51L188.5,778.55L189,778.55L189.5,778.67L190,778.59L190.5,778.66L191,778.57L191.5,778.91L192,778.82L192.5,778.51L193,778.75L193.5,779.29L194,778.62L194.5,779.26L195,778.15L195.5,778.46L196,778.47L196.5,778.82L197,778.94L197.5,778.7L198,778.64L198.5,778.84L199,778.6L199.5,778.45L200,778.47L200.5,778.91L201,779.2L201.5,778.62L202,778.8L202.5,778.5L203,778.18L203.5,778.17L204,778.53L204.5,778.3L205,778.15L205.5,778.56L206,778.49L206.5,778.32L207,778.53L207.5,778.63L208,778.65L208.5,778.38L209,778.48L209.5,777.98L210,778.17L210.5,777.49L211,777.37L211.5,777.89L212,776.95L212.5,777.15L213,776.34L213.5,776.37L214,776.33L214.5,775.93L215,776.22L215.5,775.89L216,775.9L216.5,776.18L217,776.16L217.5,776.81L218,776.55L218.5,777.35L219,777.02L219.5,777.3L220,777.43L220.5,777.98L221,777.09L221.5,778.15L222,778.13L222.5,778.45L223,777.88L223.5,778.44L224,778.05L224.5,778.6L225,778.25L225.5,778.43L226,778.06L226.5,778.39L227,778.53L227.5,778.14L228,778.57L228.5,778.47L229,777.94L229.5,778.63L230,777.81L230.5,778.05L231,778.08L231.5,777.57L232,777.23L232.5,777.3L233,776.78L233.5,775.95L234,775.3L234.5,774.74L235,773.99L235.5,772.85L236,771.32L236.5,769.23L237,767.49L237.5,765.7L238,763.27L238.5,762.05L239,760.25L239.5,758.62L240,756.23L240.5,757.16L241,755.6L241.5,755.58L242,756.31L242.5,756.27L243,758.21L243.5,760.09L244,762.69L244.5,764.05L245,766.36L245.5,768.07L246,769.75L246.5,771.57L247,772.54L247.5,773.37L248,774.56L248.5,775.62L249,776.94L249.5,776.48L250,776.86L250.5,777.53L251,777.83L251.5,777.66L252,778.2L252.5,777.83L253,778.43L253.5,778.44L254,778.22L254.5,778.66L255,778.29L255.5,778.17L256,778.7L256.5,778.11L257,778.53L257.5,778.25L258,778.35L258.5,778.55L259,778.58L259.5,778.91L260,778.65L260.5,778.67L261,778.04L261.5,778.21L262,778.86L262.5,778.29L263,778.45L263.5,778.61L264,778.39L264.5,778.31L265,778.67L265.5,778.6L266,778.48L266.5,778.78L267,778.47L267.5,778.54L268,778.69L268.5,778.72L269,778.41L269.5,778.25L270,778.37L270.5,778.67L271,778.22L271.5,778.35L272,778.21L272.5,778.02L273,778.54L273.5,778.3L274,778.38L274.5,778.42L275,777.57L275.5,777.82L276,778.54L276.5,777.88L277,778.12L277.5,777.6L278,777.87L278.5,777.92L279,777.81L279.5,777.73L280,777.83L280.5,777.9L281,777.89L281.5,777.73L282,778.22L282.5,777.94L283,778.01L283.5,778.16L284,777.86L284.5,778.47L285,778.26L285.5,778.44L286,778.1L286.5,778.42L287,778.32L287.5,778.27L288,778.84L288.5,778.32L289,778.67L289.5,778.57L290,778.55L290.5,778.33L291,778.37L291.5,778.12L292,778.54L292.5,778.72L293,778.74L293.5,778.45L294,778.21L294.5,778.54L295,778.78L295.5,778.56L296,778.57L296.5,778.63L297,778.83L297.5,779.29L298,778.78L298.5,778.38L299,778.59L299.5,779.21L300,778.65L300.5,779.12L301,778.15L301.5,778.6L302,778.96L302.5,778.45L303,778.85L303.5,778.51L304,778.65L304.5,778.95L305,778.49L305.5,779L306,778.32L306.5,778.64L307,778.92L307.5,779.12L308,778.25L308.5,778.29L309,778.98L309.5,778.25L310,778.62L310.5,778.72L311,778.68L311.5,778.73L312,778.3L312.5,778.63L313,779.13L313.5,778.14L314,778.44L314.5,778.94L315,778.75L315.5,778.89L316,778.65L316.5,778.57L317,778.61L317.5,778.82L318,778.87L318.5,778.45L319,778.69L319.5,778.1L320,778.87L320.5,778.47L321,778.65L321.5,778.86L322,778.32L322.5,778.64L323,778.89L323.5,778.75L324,778.41L324.5,778.98L325,778.32L325.5,778.5L326,778.74L326.5,778.33L327,778.23L327.5,778.52L328,778.63L328.5,778.2L329,778.29L329.5,778.9L330,778.72L330.5,778.72L331,778.77L331.5,779.04L332,778.44L332.5,778.65L333,778.64L333.5,778.31L334,778.81L334.5,778.68L335,778.6L335.5,778.78L336,778.7L336.5,778.47L337,778.67L337.5,778.33L338,778.86L338.5,778.62L339,779.03L339.5,778.7L340,778.84L340.5,778.32L341,778.48L341.5,778.54L342,778.2L342.5,778.3L343,778.48L343.5,778.84L344,779.03L344.5,778.67L345,778.76L345.5,778.83L346,778.74L346.5,779.08L347,778.29L347.5,778.95L348,778.84L348.5,778.52L349,779.08L349.5,778.43L350,778.43L350.5,778.74L351,778.94L351.5,778.78L352,779.13L352.5,778.31L353,778.65L353.5,778.85L354,778.89L354.5,778.52L355,778.28L355.5,778.99L356,778.81L356.5,779.11L357,778.49L357.5,778.62L358,778.08L358.5,778.69L359,778.77L359.5,778.84L360,778.44L360.5,779.07L361,778.47L361.5,778.59L362,778.79L362.5,778.89L363,778.39L363.5,778.18L364,778.77L364.5,778.52L365,778.21L365.5,778.81L366,778.72L366.5,778.97L367,778.69L367.5,778.67L368,778.76L368.5,778.84L369,779.06L369.5,779L370,778.9L370.5,778.48L371,778.78L371.5,778.87L372,778.48L372.5,778.5L373,778.84L373.5,778.81L374,778.47L374.5,778.55L375,778.86L375.5,778.58L376,778.65L376.5,778.35L377,778.86L377.5,778.41L378,778.53L378.5,778.9L379,778.36L379.5,778.4L380,778.98L380.5,778.12L381,778.93L381.5,778.87L382,778.71L382.5,778.43L383,778.48L383.5,778.65L384,778.27L384.5,778.52L385,778.26L385.5,777.88L386,778.57L386.5,779.29L387,778.74L387.5,778.9L388,778.59L388.5,778.59L389,778.93L389.5,778.91L390,778.68L390.5,778.66L391,779.29L391.5,778.34L392,778.59L392.5,778.6L393,778.52L393.5,778.87L394,778.6L394.5,778.31L395,778.3L395.5,778.46L396,778.66L396.5,778.8L397,778.22L397.5,778.43L398,778.68L398.5,779.15L399,778.8L399.5,779.08L400,778.22L400.5,778.5L401,778.75L401.5,778.62L402,777.83L402.5,778.2L403,778.9L403.5,778.56L404,778.86L404.5,778.99L405,778.46L405.5,777.84L406,778.07L406.5,778.48L407,778.59L407.5,778.42L408,778.18L408.5,778.87L409,778.98L409.5,777.92L410,778.36L410.5,777.98L411,778.35L411.5,777.99L412,778.57L412.5,778.24L413,777.93L413.5,778.07L414,778.47L414.5,778.07L415,778.5L415.5,778.7L416,778.12L416.5,777.85L417,777.98L417.5,778.57L418,777.92L418.5,777.95L419,778.25L419.5,778.81L420,777.72L420.5,777.7L421,777.75L421.5,778.35L422,778.18L422.5,777.28L423,777.19L423.5,777.09L424,777.08L424.5,776.57L425,776.51L425.5,775.99L426,775.64L426.5,774.59L427,774.07L427.5,772.65L428,771.69L428.5,771.1L429,768.69L429.5,768.44L430,766.16L430.5,764.16L431,762.25L431.5,762.01L432,758.62L432.5,756.66L433,754.78L433.5,755.01L434,752.8L434.5,751.33L435,750.63L435.5,749.15L436,750.03L436.5,749.21L437,750.1L437.5,752.03L438,752.96L438.5,754.11L439,755.44L439.5,756.76L440,759.18L440.5,760.53L441,763.54L441.5,765.99L442,766.49L442.5,767.75L443,769.57L443.5,771.16L444,771.77L444.5,772.25L445,773.92L445.5,774.91L446,775.6L446.5,775.17L447,776.3L447.5,776.45L448,776.55L448.5,776.84L449,777.67L449.5,777.23L450,777.39L450.5,777.6L451,777.51L451.5,778.05L452,777.95L452.5,778.12L453,777.76L453.5,778.2L454,777.9L454.5,778.35L455,778.05L455.5,778.11L456,778.01L456.5,777.9L457,777.95L457.5,777.9L458,778.4L458.5,777.33L459,777.77L459.5,777.54L460,777.59L460.5,776.86L461,777.31L461.5,776.68L462,776.27L462.5,775.91L463,775.86L463.5,775.85L464,776.28L464.5,775.23L465,775.08L465.5,775.04L466,774.9L466.5,775.05L467,775.17L467.5,774.56L468,774.47L468.5,775.32L469,774.69L469.5,775.02L470,774.92L470.5,775.28L471,775.17L471.5,775.39L472,775.64L472.5,776.62L473,776.09L473.5,776.56L474,777.16L474.5,776.75L475,777.61L475.5,777.06L476,776.97L476.5,777.81L477,777.5L477.5,777.76L478,777.81L478.5,778.49L479,777.99L479.5,778.19L480,778.07L480.5,778.33L481,778.06L481.5,778.33L482,778.24L482.5,778.07L483,778.43L483.5,778.21L484,778.44L484.5,778.37L485,778.67L485.5,778.32L486,778.2L486.5,778.57L487,778.33L487.5,778.44L488,778.87L488.5,778.47L489,778.21L489.5,778.71L490,779.06L490.5,778.52L491,778.76L491.5,778.07L492,778.6L492.5,778.59L493,778.76L493.5,778.53L494,778.75L494.5,778.84L495,778.62L495.5,778.82L496,778.25L496.5,778.92L497,778.63L497.5,778.8L498,778.99L498.5,778.17L499,779.18L499.5,778.23L500,779L500.5,778.6L501,778.02L501.5,779.19L502,778.99L502.5,778.28L503,778.58L503.5,778.77L504,778.64L504.5,778.89L505,778.6L505.5,778.23L506,778.74L506.5,778.6L507,778.32L507.5,778.11L508,778.79L508.5,778.56L509,778.79L509.5,778.81L510,778.75L510.5,778.81L511,779.1L511.5,779.17L512,778.84L512.5,778.61L513,778.32L513.5,778.79L514,778.69L514.5,778.47L515,778.45L515.5,778.68L516,778.66L516.5,778.15L517,778.74L517.5,778.78L518,779.08L518.5,778.54L519,778.72L519.5,778.15L520,778.74L520.5,778.44L521,778.41L521.5,778.22L522,779L522.5,778.24L523,778.65L523.5,778.68L524,778.74L524.5,778.76L525,778.75L525.5,779.27L526,778.52L526.5,778.64L527,778.91L527.5,778.68L528,778.06L528.5,778.56L529,778.76L529.5,778.21L530,778.87L530.5,778.7L531,778.81L531.5,778.72L532,778.47L532.5,778.51L533,778.86L533.5,778.7L534,778.64L534.5,778.77L535,778.67L535.5,778.85L536,778.86L536.5,778.65L537,778.94L537.5,778.56L538,778.72L538.5,778.91L539,778.83L539.5,778.79L540,778.71L540.5,778.64L541,778.72L541.5,778.9L542,778.3L542.5,778.43L543,778.64L543.5,778.42L544,778.59L544.5,778.74L545,778.65L545.5,777.98L546,778.41L546.5,778.4L547,778.77L547.5,778.52L548,778.09L548.5,778.56L549,778.39L549.5,778.35L550,778.51L550.5,778.26L551,778.61L551.5,778.54L552,778.84L552.5,777.99L553,778.6L553.5,778.65L554,778.32L554.5,778.8L555,778.68L555.5,778.88L556,778.67L556.5,778.78L557,778.54L557.5,778.71L558,778.83L558.5,778.75L559,778.71L559.5,778.81L560,778.43L560.5,778.5L561,778.64L561.5,778.98L562,778.54L562.5,779.01L563,778.63L563.5,778.67L564,778.83L564.5,778.89L565,778.86L565.5,778.15L566,778.75L566.5,778.73L567,778.43L567.5,778.57L568,778.41L568.5,778.99L569,778.96L569.5,777.82L570,778.69L570.5,778.75L571,778.64L571.5,778.43L572,778.98L572.5,778.61L573,778.69L573.5,778.51L574,778.64L574.5,778.82L575,778.9L575.5,779.3L576,778.43L576.5,779.06L577,778.78L577.5,778.26L578,778.79L578.5,778.52L579,778.73L579.5,778.5L580,778.67L580.5,778.81L581,778.34L581.5,778.75L582,779.02L582.5,778.77L583,778.54L583.5,778.97L584,778.48L584.5,778.49L585,778.14L585.5,778.85L586,778.51L586.5,779.11L587,778.79L587.5,778.66L588,778.58L588.5,778.7L589,778.71L589.5,778.84L590,778.8L590.5,778.6L591,778.54L591.5,778.52L592,778.43L592.5,778.38L593,779.14L593.5,778.82L594,778.72L594.5,778.85L595,778.42L595.5,778.49L596,778.71L596.5,778.65L597,778.36L597.5,778.77L598,778.76L598.5,778.45L599,778.56L599.5,778.32L600,778.59L600.5,778.49L601,778.82L601.5,778.92L602,778.69L602.5,779.36L603,778.58L603.5,778.44L604,778.67L604.5,778.74L605,778.41L605.5,778.7L606,778.44L606.5,778.13L607,778.5L607.5,778.45L608,778.56L608.5,778.62L609,778.61L609.5,778.67L610,778.41L610.5,779.09L611,778.75L611.5,778.52L612,778.9L612.5,778.71L613,778.86L613.5,778.57L614,778.47L614.5,778.32L615,778.56L615.5,778.87L616,778.62L616.5,778.54L617,778.33L617.5,779.23L618,778.59L618.5,779.15L619,778.5L619.5,778.57L620,778.56L620.5,778.46L621,778.59L621.5,778.85L622,778.6L622.5,778.38L623,778.72L623.5,778.68L624,778.99L624.5,778.39L625,778.81L625.5,778.87L626,778.8L626.5,778.9L627,778.75L627.5,778.36L628,778.49L628.5,778.33L629,778.31L629.5,778.91L630,778.57L630.5,778.31L631,778.11L631.5,779.04L632,779.05L632.5,778.57L633,778.77L633.5,778.94L634,778.59L634.5,778.89L635,779.26L635.5,778.69L636,778.66L636.5,778.53L637,778.45L637.5,778.64L638,778.75L638.5,778.86L639,779.1L639.5,778.8L640,778.44L640.5,778.52L641,778.17L641.5,778.73L642,779.14L642.5,778.48L643,778.43L643.5,778.98L644,779.09L644.5,778.65L645,778.51L645.5,778.97L646,778.77L646.5,778.88L647,778.99L647.5,779.02L648,778.65L648.5,778.78L649,778.86L649.5,779.35L650,778.25L650.5,778.93L651,778.72L651.5,778.98L652,778.59L652.5,779.07L653,778.67L653.5,778.74L654,778.46L654.5,778.97L655,778.85L655.5,778.75L656,778.16L656.5,779.06L657,778.62L657.5,778.86L658,778.61L658.5,778.53L659,778.66L659.5,778.63L660,778.62L660.5,778.84L661,778.75L661.5,779.11L662,778.78L662.5,778.89L663,778.76L663.5,778.51L664,778.6L664.5,778.57L665,778.42L665.5,779.29L666,778.58" fill="none" stroke="#7030a0" stroke-width="2.8" stroke-linejoin="round"/>
<path d="M67,819.77L67.5,819.79L68,820.1L68.5,819.62L69,819.47L69.5,819.5L70,819.78L70.5,819.6L71,819.52L71.5,819.29L72,819.44L72.5,819.72L73,819.73L73.5,819.71L74,819.69L74.5,819.88L75,819.55L75.5,819.93L76,819.95L76.5,819.65L77,819.89L77.5,819.8L78,820.28L78.5,819.53L79,819.73L79.5,819.76L80,819.6L80.5,819.66L81,819.9L81.5,819.18L82,819.82L82.5,819.44L83,819.21L83.5,819.85L84,819.64L84.5,819.87L85,819.35L85.5,819.69L86,819.86L86.5,819.14L87,819.16L87.5,819.56L88,818.84L88.5,818.95L89,818L89.5,818.03L90,818.43L90.5,818.03L91,817.89L91.5,817.23L92,816.93L92.5,816.41L93,816.4L93.5,816.78L94,816.51L94.5,815.81L95,816.04L95.5,816.7L96,816.97L96.5,817.3L97,817.58L97.5,818.44L98,817.95L98.5,818.71L99,818.71L99.5,819.69L100,819.05L100.5,818.87L101,819.97L101.5,819L102,819.34L102.5,819.71L103,819.96L103.5,819.22L104,819.48L104.5,819.39L105,819.62L105.5,819.76L106,819.3L106.5,819.79L107,819.27L107.5,819.96L108,819.74L108.5,819.86L109,819.07L109.5,819.88L110,819.67L110.5,819.09L111,819.12L111.5,818.41L112,818.31L112.5,818.39L113,817.98L113.5,818.25L114,817.27L114.5,816.22L115,815.09L115.5,814.24L116,812.62L116.5,811L117,808.58L117.5,807.22L118,806.09L118.5,804.91L119,803.91L119.5,804.08L120,804.15L120.5,805.54L121,805.66L121.5,807L122,808.87L122.5,810.49L123,812.14L123.5,813L124,814.96L124.5,816.57L125,817.34L125.5,817.46L126,817.88L126.5,818.36L127,818.62L127.5,819.01L128,819.63L128.5,819.5L129,819.88L129.5,819.53L130,819.84L130.5,819.47L131,819.56L131.5,820.07L132,819.36L132.5,819.37L133,819.96L133.5,819.56L134,819.42L134.5,819.7L135,819.4L135.5,819.59L136,819.36L136.5,819.61L137,819.71L137.5,819.53L138,819.47L138.5,819.62L139,819.81L139.5,819.9L140,819.79L140.5,819.85L141,819.65L141.5,819.66L142,819.73L142.5,819.71L143,819.67L143.5,819.31L144,819.4L144.5,819.88L145,819.62L145.5,819.82L146,819.76L146.5,819.8L147,819.9L147.5,820.09L148,820.38L148.5,819.69L149,819.43L149.5,819.98L150,819.61L150.5,819.84L151,819.67L151.5,819.96L152,819.81L152.5,819.78L153,820.37L153.5,819.69L154,819.78L154.5,820.4L155,819.58L155.5,819.76L156,819.7L156.5,819.66L157,819.86L157.5,820.03L158,819.87L158.5,819.86L159,819.17L159.5,819.27L160,819.88L160.5,819.86L161,819.66L161.5,819.6L162,819.92L162.5,820L163,819.22L163.5,819.44L164,820.12L164.5,820.16L165,819.89L165.5,819.58L166,819.45L166.5,819.65L167,819.96L167.5,819.4L168,819.23L168.5,819.34L169,819.43L169.5,819.07L170,819.22L170.5,819.5L171,819.14L171.5,819.55L172,818.92L172.5,819.1L173,819.57L173.5,819.28L174,819.05L174.5,820.06L175,819.55L175.5,819.1L176,820.03L176.5,819.68L177,820.05L177.5,819.71L178,820.35L178.5,820.16L179,819.87L179.5,819.7L180,819.64L180.5,819.63L181,819.44L181.5,819.56L182,819.55L182.5,820.01L183,819.79L183.5,818.91L184,819.15L184.5,819.53L185,819.56L185.5,819.49L186,819.86L186.5,819.23L187,819.85L187.5,819.77L188,819.17L188.5,820.3L189,819.65L189.5,820.21L190,819.92L190.5,819.77L191,819.84L191.5,819.7L192,819.95L192.5,819.77L193,820.06L193.5,819.85L194,820.11L194.5,819.56L195,820.09L195.5,819.55L196,819.85L196.5,819.81L197,819.41L197.5,819.7L198,820.24L198.5,819.59L199,820.51L199.5,819.65L200,819.83L200.5,820.09L201,819.69L201.5,819.79L202,819.16L202.5,819.82L203,819.16L203.5,819.31L204,819.85L204.5,819.9L205,819.31L205.5,819.7L206,819.6L206.5,819.7L207,819.94L207.5,819.68L208,819.8L208.5,819.91L209,819.47L209.5,818.76L210,818.68L210.5,819.02L211,818.77L211.5,818.44L212,817.93L212.5,818.01L213,818.01L213.5,817.74L214,817.02L214.5,816.35L215,817.33L215.5,817.77L216,816.83L216.5,817.23L217,817.32L217.5,817.16L218,817.79L218.5,818.48L219,818.92L219.5,818.54L220,819.08L220.5,818.81L221,819.43L221.5,819.27L222,819.69L222.5,819.42L223,819.49L223.5,819.22L224,819.02L224.5,819.47L225,819.66L225.5,818.84L226,819.29L226.5,819.2L227,819.18L227.5,818.91L228,819.01L228.5,819.07L229,819L229.5,819.43L230,819.28L230.5,819.03L231,818.84L231.5,818.68L232,818.36L232.5,818.13L233,817.87L233.5,817.74L234,816.21L234.5,815.43L235,814.92L235.5,813.14L236,811.7L236.5,810.15L237,809.12L237.5,806.89L238,804.59L238.5,801.52L239,800.77L239.5,798.82L240,797.82L240.5,796.55L241,795.66L241.5,796.93L242,797.88L242.5,797.19L243,798.96L243.5,801.02L244,802.23L244.5,804.29L245,807.69L245.5,808.79L246,810.08L246.5,812.44L247,813.73L247.5,814.47L248,815.93L248.5,817.08L249,817.55L249.5,818.27L250,818.04L250.5,819.07L251,818.43L251.5,819.42L252,819.02L252.5,819.57L253,819.3L253.5,818.95L254,818.97L254.5,818.96L255,819.4L255.5,819.37L256,819.36L256.5,819.27L257,819.58L257.5,819.16L258,819.4L258.5,819.18L259,819.39L259.5,819.34L260,819.75L260.5,819.67L261,819.93L261.5,819.66L262,819.63L262.5,819.35L263,819.95L263.5,818.68L264,819.63L264.5,819.25L265,819.31L265.5,820.31L266,819.67L266.5,819.18L267,820.28L267.5,819.36L268,819.83L268.5,819.69L269,819.47L269.5,820.05L270,819.43L270.5,819.64L271,819.63L271.5,819.16L272,818.28L272.5,819.16L273,819.04L273.5,819.16L274,819.29L274.5,818.92L275,818.46L275.5,818.8L276,818.51L276.5,818.79L277,817.86L277.5,819.11L278,818.35L278.5,818.32L279,818.38L279.5,818.8L280,818.8L280.5,818.53L281,818.44L281.5,818.89L282,818.89L282.5,818.43L283,818.34L283.5,818.91L284,819.03L284.5,819.11L285,818.2L285.5,818.89L286,819.13L286.5,818.88L287,818.57L287.5,818.97L288,819.79L288.5,819.45L289,819.59L289.5,819.61L290,819.9L290.5,819.69L291,819.92L291.5,819.54L292,819.64L292.5,820.06L293,820.16L293.5,819.83L294,819.52L294.5,819.58L295,819.74L295.5,820.63L296,819.87L296.5,819.94L297,819.83L297.5,820.07L298,819.86L298.5,819.93L299,819L299.5,819.56L300,819.8L300.5,819.76L301,819.79L301.5,819.7L302,819.87L302.5,819.76L303,819.48L303.5,819.53L304,819.68L304.5,819.4L305,819.7L305.5,820.03L306,820.24L306.5,819.95L307,819.78L307.5,819.66L308,819.47L308.5,819.92L309,819.98L309.5,819.56L310,819.45L310.5,819.9L311,819.68L311.5,819.4L312,819.68L312.5,819.78L313,820.33L313.5,819.41L314,819.6L314.5,819.74L315,819.9L315.5,820.11L316,819.8L316.5,819.8L317,819.48L317.5,820.1L318,819.38L318.5,819.76L319,819.45L319.5,820.04L320,819.68L320.5,819.44L321,819.74L321.5,820.17L322,819.86L322.5,819.63L323,820.15L323.5,820.17L324,819.71L324.5,820.03L325,819.59L325.5,820.09L326,820.27L326.5,819.99L327,819.37L327.5,820.01L328,819.78L328.5,819.71L329,820.03L329.5,819.48L330,819.73L330.5,819.66L331,820.23L331.5,820.25L332,820.52L332.5,819.83L333,819.84L333.5,819.58L334,819.37L334.5,819.84L335,819.85L335.5,819.65L336,819.36L336.5,820L337,819.61L337.5,819.84L338,819.87L338.5,819.56L339,819.99L339.5,820.06L340,819.6L340.5,819.78L341,819.85L341.5,819.81L342,819.64L342.5,819.87L343,819.57L343.5,819.66L344,819.37L344.5,819.43L345,819.54L345.5,819.83L346,819.74L346.5,819.93L347,819L347.5,819.83L348,819.62L348.5,819.4L349,820.14L349.5,819.99L350,819.88L350.5,820.04L351,820.11L351.5,819.91L352,819.42L352.5,819.57L353,819.76L353.5,819.76L354,820.22L354.5,819.58L355,819.65L355.5,820.06L356,819.71L356.5,819.82L357,819.91L357.5,820.03L358,819.95L358.5,820.02L359,819.64L359.5,819.67L360,819.68L360.5,819.81L361,819.87L361.5,819.21L362,820.27L362.5,819.44L363,819.67L363.5,819.74L364,819.9L364.5,819.82L365,820.08L365.5,820.14L366,819.79L366.5,820.21L367,819.53L367.5,819.45L368,820.69L368.5,820.18L369,819.68L369.5,819.7L370,819.72L370.5,819.64L371,819.55L371.5,819.52L372,819.26L372.5,819.74L373,819.51L373.5,820.19L374,819.78L374.5,820.08L375,819.37L375.5,819.11L376,819.6L376.5,820.1L377,819.77L377.5,819.73L378,819.69L378.5,819.44L379,819.48L379.5,820.46L380,819.36L380.5,819.87L381,819.89L381.5,819.35L382,819.8L382.5,820.11L383,820.09L383.5,819.71L384,819.48L384.5,819.31L385,819.77L385.5,819.85L386,819.27L386.5,819.84L387,819.32L387.5,819.65L388,819.65L388.5,819.78L389,819.63L389.5,819.84L390,819.89L390.5,819.74L391,819.88L391.5,819.62L392,819.67L392.5,819.77L393,819.75L393.5,819.75L394,819.21L394.5,819.69L395,819.85L395.5,819.76L396,819.49L396.5,819.73L397,819.71L397.5,819.74L398,819.62L398.5,819.55L399,819.53L399.5,820.11L400,819.95L400.5,820.38L401,819.42L401.5,819.33L402,819.27L402.5,819.59L403,819.3L403.5,819.63L404,819.65L404.5,820.04L405,819.82L405.5,819.76L406,819.33L406.5,819.11L407,819.71L407.5,819.46L408,819.48L408.5,819.77L409,820.03L409.5,819.75L410,819.93L410.5,819.6L411,819.54L411.5,819.54L412,819.53L412.5,819.32L413,819.72L413.5,819.18L414,819.91L414.5,819.39L415,819.27L415.5,819.6L416,819.81L416.5,819.14L417,819.5L417.5,819.04L418,819.02L418.5,819.21L419,819.17L419.5,818.83L420,818.97L420.5,819.3L421,818.89L421.5,818.69L422,818.68L422.5,818.55L423,818.49L423.5,818.27L424,818.27L424.5,818.12L425,816.86L425.5,816.97L426,816.08L426.5,816L427,814.55L427.5,813.95L428,811.33L428.5,811.62L429,810.16L429.5,807.75L430,805.91L430.5,805.5L431,802.46L431.5,800.14L432,799.13L432.5,796.19L433,794.89L433.5,793.38L434,791.5L434.5,790.28L435,789.82L435.5,787.29L436,788.53L436.5,788.89L437,788.62L437.5,790.07L438,790.61L438.5,792.99L439,794.43L439.5,796.47L440,798.44L440.5,800.65L441,802.62L441.5,803.77L442,806.69L442.5,808.37L443,809.88L443.5,810.95L444,812.32L444.5,813.25L445,815.08L445.5,815.33L446,816.19L446.5,816.82L447,817.15L447.5,818.25L448,817.84L448.5,818.14L449,818.84L449.5,818.59L450,818.21L450.5,818.91L451,818.69L451.5,819.01L452,819.24L452.5,819.31L453,819.18L453.5,818.7L454,818.86L454.5,819.32L455,818.81L455.5,819.14L456,819.29L456.5,818.92L457,819.29L457.5,819.44L458,818.51L458.5,819.39L459,818.58L459.5,819.12L460,818.54L460.5,818.46L461,818.4L461.5,818.81L462,817.98L462.5,817.79L463,817.9L463.5,817.44L464,816.91L464.5,817.32L465,816.83L465.5,817.17L466,816.52L466.5,816.33L467,815.62L467.5,816.12L468,816.27L468.5,815.96L469,816.84L469.5,816.21L470,816.88L470.5,817.04L471,816.61L471.5,817.08L472,816.89L472.5,818L473,817.62L473.5,818.07L474,818.17L474.5,818.87L475,818.13L475.5,818.52L476,819.03L476.5,819.27L477,819.24L477.5,818.66L478,819.2L478.5,819.35L479,819.17L479.5,819.37L480,819.36L480.5,819.26L481,819.41L481.5,819.29L482,819.89L482.5,819.56L483,819.69L483.5,819.58L484,819.63L484.5,819.81L485,819.74L485.5,819.39L486,819.81L486.5,820L487,819.5L487.5,819.4L488,819.75L488.5,819.64L489,819.91L489.5,819.74L490,819.39L490.5,819.47L491,819.65L491.5,819.77L492,820.14L492.5,819.62L493,819.58L493.5,819.42L494,819.16L494.5,819.61L495,819.45L495.5,820.01L496,819.39L496.5,819.48L497,819.35L497.5,819.54L498,819.6L498.5,819.33L499,819.9L499.5,819.55L500,819.44L500.5,819.94L501,820.04L501.5,819.62L502,819.7L502.5,819.57L503,819.56L503.5,819.94L504,819.65L504.5,819.44L505,819.83L505.5,819.81L506,820.04L506.5,819.52L507,819.22L507.5,820.11L508,819.54L508.5,819.51L509,819.89L509.5,819.84L510,820.02L510.5,819.95L511,819.7L511.5,819.58L512,819.72L512.5,819.52L513,819.7L513.5,820.06L514,819.37L514.5,819.44L515,819.94L515.5,819.29L516,819.63L516.5,819.72L517,819.25L517.5,820.41L518,820.18L518.5,819.57L519,819.82L519.5,820.01L520,819.36L520.5,819.63L521,820.09L521.5,819.93L522,819.54L522.5,819.29L523,820.28L523.5,819.69L524,819.86L524.5,820.22L525,819.8L525.5,820.18L526,819.9L526.5,819.34L527,819.63L527.5,819.56L528,819.6L528.5,819.67L529,819.51L529.5,820.07L530,819.86L530.5,819.54L531,819.95L531.5,819.88L532,819.45L532.5,819.36L533,819.92L533.5,819.98L534,819.61L534.5,819.69L535,819.94L535.5,819.61L536,819.62L536.5,819.74L537,819L537.5,819.41L538,819.55L538.5,819.5L539,818.99L539.5,819.48L540,819.95L540.5,819.68L541,819.75L541.5,819.91L542,819.7L542.5,819.7L543,819.78L543.5,819.89L544,819.55L544.5,820.18L545,819.55L545.5,819.76L546,819.7L546.5,820.39L547,819.33L547.5,820.22L548,819.99L548.5,819.6L549,819.93L549.5,819.88L550,820.35L550.5,819.88L551,819.71L551.5,819.59L552,819.84L552.5,819.71L553,819.66L553.5,819.95L554,819.97L554.5,819.26L555,819.99L555.5,819.45L556,819.75L556.5,819.39L557,819.94L557.5,819.64L558,819.68L558.5,819.83L559,819.69L559.5,819.97L560,819.79L560.5,819.88L561,819.57L561.5,819.8L562,820.14L562.5,819.87L563,819.8L563.5,820.01L564,819.43L564.5,819.67L565,819.55L565.5,819.97L566,819.88L566.5,819.51L567,820.15L567.5,819.68L568,819.75L568.5,819.9L569,819.75L569.5,820.05L570,819.72L570.5,820.09L571,820.11L571.5,819.41L572,819.96L572.5,820.33L573,819.52L573.5,819.98L574,820.69L574.5,819.79L575,819.53L575.5,819.68L576,819.33L576.5,819.81L577,819.62L577.5,820.04L578,819.73L578.5,819.38L579,819.64L579.5,819.73L580,820.29L580.5,819.87L581,820.11L581.5,819.57L582,819.97L582.5,819.68L583,820.04L583.5,819.28L584,820.08L584.5,819.74L585,819.09L585.5,819.72L586,820L586.5,819.62L587,819.52L587.5,819.55L588,820.29L588.5,819.72L589,820.33L589.5,819.28L590,819.76L590.5,819.9L591,819.6L591.5,819.65L592,820.09L592.5,819.35L593,819.84L593.5,820.24L594,819.41L594.5,819.38L595,819.45L595.5,819.63L596,820.01L596.5,819.53L597,819.29L597.5,819.56L598,819.36L598.5,819.98L599,819.51L599.5,819.53L600,820.17L600.5,820.2L601,819.97L601.5,819.76L602,819.66L602.5,819.84L603,819.79L603.5,819.81L604,819.75L604.5,819.62L605,819.65L605.5,819.79L606,819.71L606.5,819.9L607,819.57L607.5,819.91L608,819.35L608.5,819.78L609,819.71L609.5,819.98L610,819.87L610.5,819.73L611,819.77L611.5,819.94L612,820.08L612.5,819.77L613,819.74L613.5,819.63L614,819.45L614.5,819.86L615,820.3L615.5,819.82L616,820.26L616.5,820.12L617,819.51L617.5,819.63L618,819.95L618.5,819.94L619,819.8L619.5,820.24L620,819.65L620.5,819.87L621,819.29L621.5,820.06L622,819.51L622.5,819.96L623,819.51L623.5,820.04L624,819.59L624.5,819.89L625,819.99L625.5,819.82L626,819.65L626.5,819.67L627,819.36L627.5,819.56L628,820.47L628.5,819.88L629,820.3L629.5,819.88L630,819.61L630.5,820.13L631,820.09L631.5,819.74L632,819.85L632.5,819.36L633,819.69L633.5,819.64L634,819.32L634.5,819.91L635,819.78L635.5,820.04L636,819.71L636.5,819.51L637,819.42L637.5,819.79L638,819.97L638.5,819.98L639,820.15L639.5,819.75L640,819.42L640.5,820.4L641,820.35L641.5,819.41L642,820.2L642.5,819.69L643,820.11L643.5,819.57L644,819.57L644.5,819.73L645,819.56L645.5,819.76L646,819.63L646.5,819.3L647,819.49L647.5,819.95L648,819.99L648.5,819.84L649,819.84L649.5,819.76L650,819.94L650.5,819.61L651,819.77L651.5,819.68L652,819.78L652.5,819.61L653,820.09L653.5,819.36L654,819.69L654.5,819.66L655,819.62L655.5,819.49L656,819.58L656.5,819.71L657,819.82L657.5,820.21L658,819.72L658.5,819.86L659,819.86L659.5,819.14L660,820.27L660.5,819.76L661,819.46L661.5,819.52L662,819.45L662.5,820.11L663,820.03L663.5,819.61L664,819.85L664.5,819.32L665,819.71L665.5,819.72L666,819.66" fill="none" stroke="#00b050" stroke-width="2.8" stroke-linejoin="round"/>
<path d="M67,861.63L67.5,861.52L68,861.74L68.5,861.56L69,861.68L69.5,861.48L70,861.93L70.5,861.95L71,861.43L71.5,861.49L72,861.81L72.5,861.61L73,861.83L73.5,861L74,861.96L74.5,861.08L75,861.76L75.5,861.43L76,861.61L76.5,861.64L77,861.28L77.5,861.31L78,861.61L78.5,861.78L79,860.96L79.5,861.14L80,861.48L80.5,861.6L81,861.44L81.5,861.49L82,861.18L82.5,861.77L83,861.49L83.5,861.71L84,861.12L84.5,860.97L85,861.48L85.5,861.28L86,861L86.5,861.44L87,861.56L87.5,860.91L88,860.97L88.5,861.05L89,860.39L89.5,860.57L90,860.99L90.5,860.09L91,859.97L91.5,859.08L92,859.46L92.5,859.31L93,858.92L93.5,858.88L94,859.4L94.5,858.92L95,859.18L95.5,858.76L96,858.64L96.5,860.04L97,860.24L97.5,860.44L98,860.61L98.5,860.83L99,860.78L99.5,860.62L100,861.46L100.5,861.62L101,861.77L101.5,860.98L102,860.95L102.5,861.79L103,861.84L103.5,861.35L104,861.08L104.5,861.11L105,861.34L105.5,861.2L106,861.29L106.5,861.53L107,860.83L107.5,861.36L108,861.66L108.5,861.46L109,861.75L109.5,861.28L110,860.93L110.5,861.56L111,860.79L111.5,860.4L112,860.77L112.5,861.04L113,860.67L113.5,860.14L114,859.95L114.5,859.32L115,858.2L115.5,857.24L116,855.88L116.5,855.41L117,852.99L117.5,852.13L118,851.14L118.5,850.95L119,849.39L119.5,850.09L120,849.35L120.5,850.22L121,851.9L121.5,852.76L122,853L122.5,854.56L123,856.17L123.5,857.1L124,858.04L124.5,859.16L125,859.6L125.5,860.25L126,860.55L126.5,860.55L127,861.19L127.5,860.82L128,861.11L128.5,860.99L129,861.01L129.5,860.94L130,861.15L130.5,861.15L131,861.42L131.5,861.22L132,861.65L132.5,861.48L133,861.21L133.5,861.44L134,861.31L134.5,861.74L135,861.07L135.5,861.62L136,861.36L136.5,861.48L137,861.22L137.5,861.59L138,861.76L138.5,862.01L139,861.58L139.5,861.82L140,861.35L140.5,861.11L141,862.11L141.5,861.86L142,861.42L142.5,861.17L143,861.43L143.5,861.43L144,861.38L144.5,861.36L145,861.07L145.5,861.35L146,861.86L146.5,861.65L147,861.47L147.5,861.75L148,861.6L148.5,861.67L149,861.72L149.5,861.34L150,861.64L150.5,861.83L151,861.72L151.5,861.52L152,860.96L152.5,861.46L153,861.13L153.5,861.4L154,862.12L154.5,861.43L155,861.76L155.5,861.9L156,861.83L156.5,861.05L157,861.96L157.5,861.7L158,861.22L158.5,861.35L159,861.99L159.5,861.56L160,861.67L160.5,861.58L161,861.32L161.5,861.67L162,861.6L162.5,861.1L163,862L163.5,861.58L164,861.32L164.5,861.77L165,861.56L165.5,861.71L166,861.23L166.5,861.39L167,860.89L167.5,860.73L168,860.92L168.5,860.96L169,860.67L169.5,860.65L170,860.98L170.5,860.23L171,860.48L171.5,860.32L172,861.03L172.5,860.4L173,860.1L173.5,860.65L174,861.38L174.5,861.02L175,861.14L175.5,861.14L176,861.35L176.5,861.2L177,861.52L177.5,861.36L178,861.65L178.5,861.45L179,861.22L179.5,861.64L180,861.33L180.5,861.76L181,861.63L181.5,861.59L182,861.19L182.5,861.74L183,861.2L183.5,861.93L184,861.58L184.5,861.29L185,861.35L185.5,861.81L186,861.87L186.5,861.3L187,861.88L187.5,861.38L188,861.68L188.5,861.54L189,860.91L189.5,861.12L190,861.31L190.5,861.91L191,861.45L191.5,861.52L192,861.57L192.5,861.17L193,862.01L193.5,861.45L194,861.5L194.5,861.74L195,861.07L195.5,861.88L196,861.53L196.5,861.51L197,862.13L197.5,861.92L198,861.8L198.5,861.32L199,861.27L199.5,861.37L200,861.46L200.5,862.13L201,861.47L201.5,861.66L202,861.2L202.5,861.15L203,860.9L203.5,861.32L204,861.29L204.5,861.79L205,861.48L205.5,861.84L206,861.24L206.5,861.81L207,861.52L207.5,861.67L208,861.55L208.5,861.25L209,861.49L209.5,861.2L210,861.49L210.5,860.68L211,861.17L211.5,860.54L212,860.04L212.5,861.31L213,860.71L213.5,860.31L214,859.73L214.5,860.16L215,859.81L215.5,860.15L216,859.75L216.5,860.39L217,859.82L217.5,861.19L218,860.97L218.5,859.95L219,860.62L219.5,861.09L220,860.27L220.5,860.73L221,860.81L221.5,861.34L222,861.09L222.5,861.17L223,861.82L223.5,861.19L224,861.43L224.5,861.02L225,861.01L225.5,861.57L226,861.56L226.5,861.32L227,861.18L227.5,861.48L228,861.38L228.5,861.15L229,861.19L229.5,860.95L230,861.18L230.5,861.47L231,861.68L231.5,860.83L232,861.07L232.5,860.94L233,860.74L233.5,860.91L234,860.23L234.5,860.59L235,859.38L235.5,859L236,857.36L236.5,857.11L237,856.54L237.5,855.51L238,854.37L238.5,854.06L239,852.99L239.5,852.29L240,850.45L240.5,851.06L241,851.73L241.5,850.55L242,850.04L242.5,852.04L243,850.81L243.5,853.09L244,853.53L244.5,855.07L245,855.86L245.5,857.1L246,857.83L246.5,858.94L247,858.4L247.5,859.75L248,859.68L248.5,860.06L249,860.67L249.5,860.68L250,860.9L250.5,861.16L251,861.09L251.5,861.16L252,861.54L252.5,861.66L253,861.56L253.5,861.3L254,860.95L254.5,860.94L255,861.29L255.5,861.12L256,861.37L256.5,861.1L257,861.39L257.5,861.32L258,861.52L258.5,861.45L259,860.91L259.5,861.8L260,861.46L260.5,861.64L261,861.2L261.5,860.96L262,861.57L262.5,862.27L263,861.31L263.5,861.31L264,861.97L264.5,861.56L265,861.51L265.5,862.15L266,861.3L266.5,861.36L267,861.41L267.5,861.78L268,861.68L268.5,861.65L269,861.32L269.5,861.73L270,861.01L270.5,861.31L271,862.04L271.5,860.89L272,861.31L272.5,861.5L273,861.28L273.5,861.82L274,861.19L274.5,861.95L275,861.49L275.5,860.73L276,860.73L276.5,861.18L277,861.35L277.5,860.73L278,861.01L278.5,860.91L279,860.77L279.5,861.29L280,860.71L280.5,861.62L281,860.51L281.5,861.47L282,861.2L282.5,861.24L283,860.83L283.5,860.86L284,861.01L284.5,860.99L285,861.05L285.5,861.25L286,861.84L286.5,861.98L287,862.01L287.5,861.37L288,861.45L288.5,861.45L289,861.36L289.5,861.52L290,861.76L290.5,861.91L291,862.04L291.5,861.16L292,861.26L292.5,861.91L293,861.61L293.5,861.41L294,861.09L294.5,861.71L295,861.5L295.5,861.22L296,862.04L296.5,861.76L297,861.57L297.5,861.76L298,860.96L298.5,861.31L299,861.5L299.5,861.83L300,861.32L300.5,861.38L301,861.71L301.5,861.68L302,861.97L302.5,861.59L303,861.32L303.5,861.28L304,861.4L304.5,861.34L305,861.73L305.5,861.7L306,861.23L306.5,861.44L307,861.79L307.5,861.43L308,861.34L308.5,861.37L309,861.54L309.5,861.71L310,861.46L310.5,861.1L311,861.53L311.5,861.76L312,861.48L312.5,861.92L313,861.51L313.5,861.66L314,861.3L314.5,861.54L315,861.28L315.5,860.93L316,861.63L316.5,861.81L317,861.44L317.5,861.6L318,861.53L318.5,861.74L319,861.42L319.5,861.55L320,862.17L320.5,861.64L321,861.48L321.5,861.25L322,861.73L322.5,861.8L323,861.25L323.5,861.74L324,861.55L324.5,861.44L325,861.37L325.5,861.57L326,861.88L326.5,861.29L327,861.7L327.5,861.72L328,861.02L328.5,861.33L329,861.87L329.5,861.71L330,861.64L330.5,861.78L331,862.11L331.5,861.35L332,861.36L332.5,861.51L333,861.69L333.5,861.52L334,861.4L334.5,861.86L335,861.67L335.5,861.73L336,861.38L336.5,861.5L337,861.93L337.5,861.75L338,861.09L338.5,861.84L339,861.53L339.5,861.75L340,861.23L340.5,861.59L341,861.7L341.5,861.9L342,861.64L342.5,861.35L343,861.39L343.5,861.94L344,861.14L344.5,861.64L345,861.87L345.5,861.54L346,861.75L346.5,861.73L347,861.75L347.5,861.6L348,861.71L348.5,862.05L349,861.43L349.5,861.72L350,861.24L350.5,861.43L351,861.4L351.5,861.52L352,861.21L352.5,861.66L353,861.85L353.5,861.48L354,862.33L354.5,861.68L355,861.51L355.5,861.69L356,861.22L356.5,861.38L357,861.54L357.5,861.68L358,861.27L358.5,861.76L359,861.69L359.5,861.36L360,861.41L360.5,861.01L361,861.63L361.5,862.09L362,861.39L362.5,861.22L363,861.62L363.5,861.14L364,861.08L364.5,861.75L365,861.7L365.5,861.92L366,861.42L366.5,861.37L367,861.4L367.5,861.91L368,861.78L368.5,861.96L369,862.01L369.5,861.94L370,862.01L370.5,861.62L371,861.45L371.5,861.39L372,861.57L372.5,861.75L373,861.57L373.5,861.4L374,861.65L374.5,861.55L375,861.65L375.5,861.71L376,861.55L376.5,861.87L377,861.27L377.5,861.99L378,861.43L378.5,861.94L379,861.14L379.5,861.32L380,861.78L380.5,861.68L381,861.87L381.5,861.57L382,861.44L382.5,860.84L383,861.93L383.5,861.21L384,861.71L384.5,861.47L385,861.3L385.5,861.4L386,861.43L386.5,861.6L387,861.55L387.5,861.5L388,861.21L388.5,861.95L389,861.68L389.5,861.89L390,861.81L390.5,861.76L391,861.23L391.5,860.93L392,861.15L392.5,861.86L393,861.51L393.5,861.85L394,861.4L394.5,861.17L395,861.36L395.5,861.28L396,861.56L396.5,862.07L397,862.08L397.5,861.54L398,861.35L398.5,861.15L399,861.61L399.5,861.49L400,861.43L400.5,861.2L401,861.52L401.5,861.81L402,861.19L402.5,861.37L403,861.38L403.5,861.85L404,861.48L404.5,861.97L405,862.05L405.5,861.54L406,861.59L406.5,861.3L407,861.04L407.5,861.46L408,860.93L408.5,861.61L409,861.22L409.5,861.8L410,861.39L410.5,861.51L411,861.47L411.5,861.23L412,861.94L412.5,861.35L413,861.62L413.5,861.34L414,861.25L414.5,861.46L415,861.45L415.5,861.67L416,861.15L416.5,861.5L417,861.15L417.5,861.69L418,860.84L418.5,861.53L419,860.86L419.5,861.31L420,860.98L420.5,861.15L421,860.86L421.5,861.01L422,860.55L422.5,860.65L423,860.54L423.5,860.09L424,860.68L424.5,859.83L425,859.99L425.5,860.21L426,859.18L426.5,858.97L427,857.78L427.5,857.95L428,857.05L428.5,856.18L429,856.13L429.5,854.18L430,853.71L430.5,851.55L431,850.21L431.5,849.69L432,849.14L432.5,847.1L433,845.92L433.5,844.57L434,844.1L434.5,843.74L435,842.64L435.5,842.66L436,841.21L436.5,842.55L437,842.89L437.5,843.18L438,844.55L438.5,845.12L439,846.06L439.5,847.4L440,848.53L440.5,849.12L441,850.74L441.5,852.7L442,853.47L442.5,854.07L443,855.62L443.5,856.23L444,857.07L444.5,857.56L445,858.43L445.5,858.93L446,859.61L446.5,859.56L447,860.29L447.5,859.66L448,860.44L448.5,860.66L449,860.47L449.5,860.85L450,860.87L450.5,860.98L451,861.24L451.5,861.34L452,861.3L452.5,860.77L453,861.32L453.5,861.27L454,861.29L454.5,860.94L455,860.56L455.5,861.42L456,860.96L456.5,861.07L457,861.17L457.5,860.89L458,861.39L458.5,860.7L459,860.82L459.5,861.13L460,860.24L460.5,860.38L461,860.19L461.5,860.92L462,860.43L462.5,860.39L463,859.89L463.5,859.53L464,860.49L464.5,859.73L465,859.67L465.5,859.19L466,859.46L466.5,859.81L467,859.39L467.5,859.65L468,859.55L468.5,859.29L469,859.5L469.5,859.3L470,859.99L470.5,858.78L471,859.25L471.5,859.55L472,860.34L472.5,860.75L473,860.45L473.5,860.37L474,859.71L474.5,860.13L475,860.83L475.5,860.39L476,860.49L476.5,860.95L477,860.67L477.5,861.01L478,861.37L478.5,861.57L479,861.31L479.5,861.02L480,861.74L480.5,861.84L481,861.24L481.5,862.2L482,860.91L482.5,861.58L483,861.25L483.5,860.94L484,861.89L484.5,861.78L485,860.86L485.5,861.58L486,861.54L486.5,861.44L487,861.21L487.5,861.14L488,861.49L488.5,861.61L489,861.53L489.5,861.44L490,861.16L490.5,861.49L491,861.02L491.5,861.77L492,861.39L492.5,861.05L493,861.18L493.5,861.45L494,861.79L494.5,861.74L495,861.59L495.5,861.46L496,861.61L496.5,861.95L497,861.75L497.5,861.41L498,861.32L498.5,861.94L499,861.65L499.5,862.02L500,861.71L500.5,860.58L501,861.54L501.5,861.65L502,861.72L502.5,861.89L503,862.07L503.5,861.57L504,861.64L504.5,861.15L505,862.01L505.5,861.44L506,861.19L506.5,862.1L507,861.38L507.5,862.01L508,861.42L508.5,861.16L509,861.57L509.5,861.49L510,861.76L510.5,861.49L511,861.26L511.5,861.62L512,861.61L512.5,861.46L513,861.34L513.5,862.02L514,861.56L514.5,861.76L515,861.44L515.5,861.29L516,861.49L516.5,861.22L517,861.85L517.5,861.69L518,861.85L518.5,861.56L519,861.55L519.5,861.63L520,861.91L520.5,861.6L521,861.7L521.5,861.41L522,861.65L522.5,861.26L523,861.51L523.5,862.09L524,861.63L524.5,861.97L525,861.31L525.5,861.19L526,861.59L526.5,861.46L527,861.97L527.5,862.19L528,861.73L528.5,861.65L529,861.99L529.5,861.56L530,861.5L530.5,861.41L531,861.16L531.5,861.36L532,861.68L532.5,861.55L533,861.42L533.5,861.87L534,861.22L534.5,861.34L535,861.64L535.5,861.76L536,860.55L536.5,861.35L537,861.33L537.5,861.09L538,861.32L538.5,861.53L539,861.39L539.5,861.83L540,861.39L540.5,862L541,861.47L541.5,861.43L542,862.01L542.5,861.06L543,861.9L543.5,861.3L544,861.73L544.5,861.5L545,861.76L545.5,860.91L546,861.3L546.5,861.09L547,861.37L547.5,861.39L548,861.54L548.5,861.65L549,861.42L549.5,861.54L550,861.62L550.5,861.96L551,861.67L551.5,861.42L552,861.71L552.5,861.49L553,861.62L553.5,861.86L554,861.83L554.5,861.78L555,861.66L555.5,861.65L556,861.28L556.5,861.88L557,862.14L557.5,861.4L558,861.71L558.5,861.62L559,860.89L559.5,861.19L560,861.42L560.5,861.33L561,861.55L561.5,861.32L562,861.75L562.5,861.78L563,861.71L563.5,861.15L564,861.16L564.5,861.75L565,861.27L565.5,861.63L566,861.29L566.5,861.67L567,861.32L567.5,861.61L568,861.66L568.5,861.59L569,861.54L569.5,861.74L570,861.95L570.5,861.12L571,861.69L571.5,862.08L572,862.2L572.5,862.34L573,861.75L573.5,861.21L574,862.03L574.5,861.67L575,862.08L575.5,861.28L576,861.48L576.5,861.49L577,861.22L577.5,861.14L578,861.3L578.5,861.74L579,861.94L579.5,861.87L580,862.06L580.5,861.09L581,861.63L581.5,861.55L582,861.53L582.5,861.03L583,861.74L583.5,861.26L584,861.5L584.5,861.62L585,862.1L585.5,861.33L586,861.78L586.5,861.71L587,861.52L587.5,861.56L588,861.28L588.5,861.76L589,861.54L589.5,861.51L590,861.58L590.5,861.4L591,861.65L591.5,861.25L592,861.78L592.5,861.97L593,861.59L593.5,861.26L594,861.72L594.5,861.75L595,861.68L595.5,861.54L596,861.63L596.5,861.5L597,862.05L597.5,861.18L598,861.42L598.5,861.82L599,861.21L599.5,861.46L600,861.18L600.5,861.9L601,861.13L601.5,861.57L602,862.14L602.5,861.38L603,861.66L603.5,861.86L604,861.64L604.5,862.11L605,861.42L605.5,861.64L606,861.66L606.5,861.2L607,861.57L607.5,861.76L608,861.84L608.5,861.6L609,861.29L609.5,861.74L610,861.87L610.5,861.33L611,861.57L611.5,861.59L612,861.02L612.5,861.91L613,861.53L613.5,862.07L614,861.67L614.5,861.42L615,861.28L615.5,861.93L616,861.36L616.5,861.37L617,861.62L617.5,860.92L618,861.58L618.5,861.82L619,861.47L619.5,862.09L620,861.16L620.5,861.32L621,861.69L621.5,861.42L622,861.44L622.5,861.06L623,861.75L623.5,861.93L624,862.14L624.5,861.66L625,862.01L625.5,861.63L626,861.47L626.5,861.7L627,861.84L627.5,861.26L628,861.64L628.5,861.52L629,861.33L629.5,861.94L630,861.83L630.5,860.91L631,861.63L631.5,861.87L632,861.65L632.5,861.74L633,861.92L633.5,861.7L634,861.59L634.5,861.59L635,861.44L635.5,862.05L636,861.99L636.5,861.37L637,861.71L637.5,861.26L638,861.5L638.5,861.97L639,861.44L639.5,861.86L640,861.51L640.5,861.25L641,861.01L641.5,861.6L642,861.4L642.5,861.5L643,861.37L643.5,862.28L644,861.69L644.5,861.51L645,861.46L645.5,861.79L646,861.36L646.5,861.29L647,861.57L647.5,861.65L648,861.68L648.5,861.55L649,861.27L649.5,861.18L650,861.71L650.5,861.84L651,861.8L651.5,861.32L652,861.53L652.5,861.5L653,861.46L653.5,861.48L654,861.62L654.5,861.87L655,861.75L655.5,861.55L656,861.48L656.5,861.69L657,861.7L657.5,861.22L658,861.71L658.5,861.53L659,861.67L659.5,861.82L660,861.99L660.5,861.73L661,861.81L661.5,861.36L662,861.9L662.5,861.7L663,861.41L663.5,861.62L664,861.45L664.5,861.36L665,862.03L665.5,861.7L666,861.84" fill="none" stroke="#000000" stroke-width="2.8" stroke-linejoin="round"/>
<path d="M67,916.19L67.5,916.59L68,916.42L68.5,916.09L69,916.66L69.5,916.54L70,916.44L70.5,916.63L71,916.21L71.5,916.33L72,916.28L72.5,916.54L73,916.65L73.5,916.65L74,916.65L74.5,917L75,916.45L75.5,916.32L76,916.55L76.5,916.68L77,916.53L77.5,916.48L78,916.44L78.5,916.04L79,916.77L79.5,916.43L80,916.33L80.5,916.5L81,916.58L81.5,916.8L82,916.68L82.5,916.31L83,916.09L83.5,916.68L84,916.35L84.5,916.32L85,916.17L85.5,916.36L86,916.27L86.5,916.1L87,916.63L87.5,916.2L88,916.64L88.5,916.59L89,916.09L89.5,916.13L90,915.27L90.5,914.88L91,915.05L91.5,914.74L92,914.53L92.5,914.33L93,914.02L93.5,913.84L94,914.08L94.5,914.23L95,914.24L95.5,913.95L96,914.58L96.5,914.19L97,915L97.5,914.72L98,915.77L98.5,915.82L99,915.64L99.5,915.79L100,916.1L100.5,915.55L101,916.2L101.5,916.19L102,916.47L102.5,915.86L103,916.1L103.5,916.24L104,916.83L104.5,916.25L105,916.49L105.5,916.23L106,916.07L106.5,916.54L107,916.25L107.5,916.04L108,916.23L108.5,916.35L109,916.53L109.5,916.38L110,916.51L110.5,915.77L111,915.93L111.5,916.19L112,915.62L112.5,915.75L113,916.01L113.5,914L114,913.29L114.5,913.32L115,911.94L115.5,910.26L116,908.98L116.5,907.53L117,905.69L117.5,903.91L118,902.55L118.5,901.01L119,900.44L119.5,900.42L120,900.33L120.5,901.87L121,901.66L121.5,904.57L122,905.51L122.5,907.04L123,908.67L123.5,910.25L124,911.21L124.5,913.2L125,913.73L125.5,914.36L126,915.11L126.5,915.54L127,915.24L127.5,916.05L128,916.12L128.5,916.16L129,916.22L129.5,916.16L130,916.31L130.5,916.17L131,916.26L131.5,916.19L132,915.95L132.5,916.6L133,915.91L133.5,916.52L134,916.21L134.5,916.37L135,916.51L135.5,916.98L136,915.99L136.5,916.66L137,916.67L137.5,916.17L138,916.45L138.5,915.95L139,916.01L139.5,916.29L140,916.42L140.5,916.28L141,916.86L141.5,916.45L142,916.46L142.5,916.63L143,916.44L143.5,916.91L144,916.27L144.5,916.16L145,916.87L145.5,916.48L146,916.1L146.5,916.41L147,916.81L147.5,916.8L148,916.3L148.5,916.03L149,916.83L149.5,916.52L150,916.74L150.5,916.61L151,916.45L151.5,916.55L152,916.72L152.5,915.97L153,916.58L153.5,916.59L154,916.24L154.5,916.54L155,916.6L155.5,916.28L156,916.82L156.5,916.34L157,916.26L157.5,916.36L158,916.59L158.5,916.54L159,917L159.5,916.57L160,916.46L160.5,916.3L161,916.5L161.5,916.64L162,916.75L162.5,916.53L163,916.47L163.5,916.17L164,916.48L164.5,916.6L165,916.46L165.5,916.52L166,916.41L166.5,916.91L167,916.68L167.5,916.49L168,915.93L168.5,916.02L169,915.88L169.5,915.51L170,916.12L170.5,915.43L171,915.64L171.5,915.99L172,915.36L172.5,916.28L173,916.26L173.5,916.06L174,915.95L174.5,916.2L175,916.83L175.5,916.37L176,916.37L176.5,915.68L177,916.05L177.5,916.42L178,916.78L178.5,916.41L179,916.83L179.5,916.47L180,916.43L180.5,916.64L181,916.47L181.5,916.63L182,916.69L182.5,916.13L183,916.39L183.5,916.63L184,916.75L184.5,916.5L185,916.39L185.5,916.32L186,916.15L186.5,916.42L187,916.85L187.5,916L188,916.23L188.5,916.32L189,916.19L189.5,916.94L190,916.64L190.5,916.68L191,916.22L191.5,916.86L192,916.63L192.5,916.13L193,916.37L193.5,916.64L194,916.03L194.5,916.89L195,916.41L195.5,916.6L196,916.4L196.5,916.61L197,916.76L197.5,916.47L198,916.88L198.5,916.38L199,916.61L199.5,916.27L200,916.64L200.5,916.7L201,916.41L201.5,916.18L202,917.07L202.5,916.47L203,916.33L203.5,916.88L204,916.73L204.5,916.31L205,916.7L205.5,916.64L206,915.98L206.5,916.7L207,916.65L207.5,917.03L208,916.65L208.5,916.63L209,915.71L209.5,915.75L210,916.34L210.5,915.23L211,915.39L211.5,915.47L212,914.92L212.5,914.81L213,914.92L213.5,915.01L214,914.52L214.5,914.05L215,914.06L215.5,914.15L216,913.6L216.5,914.39L217,913.9L217.5,914.57L218,914.61L218.5,915.25L219,915.13L219.5,915.6L220,916.1L220.5,915.75L221,915.91L221.5,915.77L222,916.02L222.5,916.47L223,916.4L223.5,916.97L224,916.6L224.5,915.92L225,915.87L225.5,916.08L226,916.2L226.5,916.11L227,916.13L227.5,916.75L228,916.48L228.5,915.87L229,915.84L229.5,916.07L230,916.18L230.5,916.13L231,916.09L231.5,916.09L232,916.23L232.5,915.38L233,915.28L233.5,914.84L234,913.72L234.5,913.49L235,913.2L235.5,911.87L236,911.62L236.5,909.49L237,908.5L237.5,907.31L238,905.57L238.5,903.77L239,903.26L239.5,902.31L240,899.95L240.5,900.23L241,899.22L241.5,900.25L242,900.17L242.5,901.37L243,901.81L243.5,903.44L244,904.96L244.5,905.45L245,907.38L245.5,909.68L246,910.23L246.5,911.62L247,912.71L247.5,913.33L248,913.99L248.5,914.39L249,915.12L249.5,915.8L250,915.66L250.5,915.43L251,916.26L251.5,915.79L252,915.92L252.5,916.25L253,916.08L253.5,916.43L254,916.36L254.5,916.56L255,916.16L255.5,915.92L256,916.52L256.5,916L257,916.96L257.5,916.62L258,916.66L258.5,915.91L259,916.56L259.5,916.19L260,916.99L260.5,916.39L261,916.27L261.5,916.44L262,917.2L262.5,916.39L263,916.22L263.5,916.08L264,916.34L264.5,916.92L265,916.51L265.5,916.21L266,916.68L266.5,916.3L267,916.58L267.5,916.42L268,916.23L268.5,916.63L269,915.61L269.5,916.36L270,916.29L270.5,916.58L271,916.33L271.5,916.39L272,916.71L272.5,916.7L273,916.13L273.5,916.2L274,916.91L274.5,916.73L275,916.14L275.5,916.02L276,915.78L276.5,916.29L277,915.7L277.5,915.93L278,915.96L278.5,915.82L279,915.46L279.5,915.58L280,915.48L280.5,915.96L281,915.85L281.5,916.14L282,915.98L282.5,915.97L283,916.03L283.5,915.71L284,915.85L284.5,915.79L285,916.03L285.5,915.8L286,916.13L286.5,915.92L287,916.1L287.5,916.07L288,916.34L288.5,916.71L289,916.79L289.5,915.86L290,916.32L290.5,916.33L291,916.51L291.5,916.61L292,915.7L292.5,916.81L293,916.53L293.5,916.53L294,916.84L294.5,916.88L295,916.73L295.5,916.63L296,916.67L296.5,916.32L297,916.87L297.5,916.44L298,916.15L298.5,916.31L299,916.86L299.5,917.35L300,916.33L300.5,916.42L301,916.71L301.5,916.21L302,916.67L302.5,916.53L303,916.84L303.5,916.47L304,916.68L304.5,916.7L305,916.27L305.5,916.5L306,916.97L306.5,916.38L307,916.34L307.5,916.79L308,916.67L308.5,916.55L309,916.63L309.5,916.53L310,916.39L310.5,916.7L311,916.01L311.5,916.76L312,916.71L312.5,916.04L313,915.92L313.5,916.56L314,916.62L314.5,916.86L315,916.26L315.5,916.52L316,916.8L316.5,916.46L317,916.2L317.5,916.38L318,915.97L318.5,916.26L319,916.45L319.5,916.58L320,916.42L320.5,916.24L321,916.34L321.5,916.29L322,916.51L322.5,916.36L323,916.24L323.5,916.61L324,916.92L324.5,916.1L325,916.41L325.5,916.69L326,916.51L326.5,916.64L327,917.03L327.5,916.62L328,916.95L328.5,916.51L329,916.6L329.5,916.26L330,916.6L330.5,916.47L331,916.65L331.5,916.67L332,916.94L332.5,916.3L333,916.52L333.5,916.73L334,916.51L334.5,916.68L335,916.76L335.5,916.5L336,916.24L336.5,916.64L337,916.95L337.5,916.73L338,916.08L338.5,916.79L339,916.25L339.5,916.63L340,916.37L340.5,916.6L341,916.99L341.5,916.68L342,916L342.5,916.6L343,916.41L343.5,916.66L344,916.6L344.5,916.48L345,916.44L345.5,915.97L346,916.57L346.5,916.61L347,916.74L347.5,916.92L348,917L348.5,916.38L349,917.06L349.5,916.18L350,916.33L350.5,916.64L351,916.87L351.5,916.55L352,916.56L352.5,916.26L353,916.76L353.5,916.66L354,916.57L354.5,916.63L355,916.73L355.5,917.02L356,917L356.5,916.74L357,916.62L357.5,916.29L358,915.93L358.5,916.09L359,916.45L359.5,916.05L360,916.59L360.5,916.7L361,915.93L361.5,916.84L362,916.67L362.5,916.62L363,916.16L363.5,916.71L364,916.34L364.5,916.66L365,916.88L365.5,916.49L366,916.5L366.5,916.86L367,916.78L367.5,916.76L368,916.28L368.5,916.42L369,916.48L369.5,916.41L370,916.67L370.5,916.41L371,916.71L371.5,916.9L372,916.73L372.5,916.48L373,916.51L373.5,916.25L374,917L374.5,916.6L375,916.43L375.5,916.8L376,916.47L376.5,916.64L377,916.84L377.5,916.22L378,916.91L378.5,916.25L379,916.64L379.5,916.78L380,916.77L380.5,916.73L381,916.75L381.5,916.45L382,917.03L382.5,916.18L383,916.29L383.5,916.13L384,916.78L384.5,917.15L385,916.68L385.5,916.56L386,916.42L386.5,916.65L387,916.53L387.5,916.46L388,916.93L388.5,916L389,916.81L389.5,916.42L390,916.19L390.5,916.71L391,916.49L391.5,916.03L392,916.56L392.5,916.19L393,916.4L393.5,916.41L394,916.27L394.5,916.53L395,916.53L395.5,916.2L396,916.39L396.5,916.32L397,916.79L397.5,916.45L398,916.11L398.5,916.19L399,916.34L399.5,916.58L400,916.6L400.5,916.3L401,916.02L401.5,916.4L402,916.05L402.5,916.49L403,916.06L403.5,916.68L404,916.34L404.5,916.69L405,916.19L405.5,916.21L406,916.63L406.5,916.57L407,916.47L407.5,916.76L408,916.6L408.5,916.57L409,916.09L409.5,915.91L410,916.42L410.5,916.36L411,916.21L411.5,916.41L412,916.32L412.5,915.99L413,916.15L413.5,916.22L414,916.35L414.5,915.73L415,916.33L415.5,916.09L416,916.41L416.5,916.25L417,916.02L417.5,916.14L418,915.83L418.5,915.94L419,916.33L419.5,916.57L420,915.51L420.5,915.93L421,915.22L421.5,915.57L422,915.7L422.5,915.13L423,915.22L423.5,914.9L424,914.93L424.5,914.06L425,913.47L425.5,913.5L426,912.04L426.5,912.13L427,910.93L427.5,910.6L428,909.52L428.5,906.5L429,905.2L429.5,903.59L430,902.98L430.5,900.11L431,897.91L431.5,895.9L432,893.61L432.5,892.08L433,889.64L433.5,888.28L434,886.2L434.5,884.44L435,884.05L435.5,883.14L436,883L436.5,882.97L437,883.11L437.5,884.51L438,885.8L438.5,888.43L439,889.74L439.5,891.18L440,894.18L440.5,896.14L441,898.55L441.5,899.58L442,902.4L442.5,904.39L443,905.53L443.5,906.89L444,908.53L444.5,909.56L445,910.91L445.5,911.94L446,912.81L446.5,913.46L447,914.01L447.5,914.11L448,914.62L448.5,914.83L449,914.89L449.5,915.28L450,915.83L450.5,915.76L451,915.95L451.5,916.26L452,915.7L452.5,916.14L453,916.2L453.5,916.16L454,915.59L454.5,915.95L455,915.56L455.5,915.88L456,915.97L456.5,915.64L457,915.59L457.5,915.69L458,915.99L458.5,915.74L459,915.88L459.5,915.49L460,915.27L460.5,914.7L461,914.57L461.5,914.66L462,914.4L462.5,914.47L463,913.44L463.5,913.68L464,913.12L464.5,913.72L465,913.55L465.5,913.18L466,913.36L466.5,913.22L467,913.6L467.5,912.88L468,913.15L468.5,912.94L469,913.35L469.5,913.98L470,913.3L470.5,913.21L471,914.21L471.5,914.27L472,914.22L472.5,914.39L473,915.06L473.5,914.11L474,914.54L474.5,915.24L475,915.79L475.5,915.25L476,914.89L476.5,915.39L477,915.41L477.5,916.15L478,915.89L478.5,916.48L479,915.52L479.5,916L480,916.83L480.5,916.79L481,916.15L481.5,916.28L482,916.44L482.5,916.19L483,915.82L483.5,916.3L484,916.92L484.5,916.47L485,916.8L485.5,916.66L486,916.36L486.5,916.5L487,916.75L487.5,916.47L488,916.69L488.5,916.32L489,916.54L489.5,916.37L490,916.56L490.5,916.28L491,916.53L491.5,916.5L492,916.65L492.5,916.46L493,916.99L493.5,915.77L494,916.69L494.5,916.48L495,916.64L495.5,916.65L496,916.4L496.5,916.66L497,916.64L497.5,916.9L498,916.78L498.5,916.84L499,916.03L499.5,916.89L500,916.82L500.5,916.48L501,916.14L501.5,917L502,916.96L502.5,916.5L503,916.45L503.5,916.92L504,917.03L504.5,916.8L505,916.34L505.5,916.56L506,916.34L506.5,916.57L507,916.56L507.5,916.38L508,916.58L508.5,916.49L509,916.8L509.5,916.71L510,916.43L510.5,916.62L511,916.76L511.5,916.38L512,916.41L512.5,916.56L513,916.76L513.5,916.32L514,915.88L514.5,916.78L515,916.98L515.5,916.77L516,916.81L516.5,916.9L517,916.88L517.5,916.33L518,916.33L518.5,916.17L519,916.36L519.5,916.7L520,916.27L520.5,916.73L521,916.66L521.5,916.88L522,916.24L522.5,916.3L523,916.7L523.5,916.65L524,916.56L524.5,916.52L525,916.34L525.5,916.55L526,916.47L526.5,916.98L527,916.66L527.5,917.06L528,916.1L528.5,916.2L529,916.38L529.5,916.28L530,916.04L530.5,916.32L531,917.01L531.5,916.63L532,917.21L532.5,916.8L533,916.91L533.5,916.58L534,916.48L534.5,916.83L535,916.66L535.5,916.51L536,916.62L536.5,916.63L537,917.23L537.5,916.7L538,916.37L538.5,916.51L539,916.98L539.5,916.66L540,916.51L540.5,916.85L541,916.4L541.5,916.8L542,916.67L542.5,916.61L543,915.99L543.5,916.67L544,916.74L544.5,916.4L545,916.71L545.5,916.54L546,917.19L546.5,916.51L547,916.59L547.5,916.93L548,916.23L548.5,916.65L549,916.64L549.5,916.94L550,917.02L550.5,916.74L551,917L551.5,916.46L552,916.36L552.5,916.76L553,917.02L553.5,916.7L554,916.87L554.5,916.55L555,916.54L555.5,916.71L556,916.57L556.5,916.31L557,916.14L557.5,916.73L558,916.4L558.5,916.66L559,916.87L559.5,916.25L560,916.49L560.5,916.56L561,916.5L561.5,916.64L562,916.87L562.5,916.12L563,916.35L563.5,916.52L564,916.34L564.5,916.25L565,916.65L565.5,916.44L566,916.68L566.5,916.42L567,916.66L567.5,915.95L568,916.69L568.5,916.46L569,916.47L569.5,916.69L570,916.35L570.5,916.62L571,916.71L571.5,916.6L572,916.8L572.5,916.28L573,916.43L573.5,916.34L574,916.96L574.5,916.53L575,916.8L575.5,916.57L576,916.26L576.5,916.53L577,916.64L577.5,916.3L578,916.33L578.5,916.11L579,917.09L579.5,916.51L580,916.71L580.5,916.83L581,916.57L581.5,916.91L582,917.19L582.5,916.84L583,916.67L583.5,916.1L584,916.79L584.5,916.91L585,917.12L585.5,916.69L586,916.66L586.5,916.56L587,916.98L587.5,916.8L588,917.2L588.5,916.55L589,917.02L589.5,917.33L590,916.29L590.5,916.47L591,916.51L591.5,916.51L592,916.87L592.5,916.32L593,916.88L593.5,916.09L594,916.54L594.5,917.09L595,916.37L595.5,916.08L596,916.67L596.5,916.32L597,916.66L597.5,916.77L598,917.28L598.5,916.27L599,916.72L599.5,916.5L600,916.9L600.5,916.84L601,916.3L601.5,916.7L602,916.71L602.5,916.93L603,916.55L603.5,916.39L604,916.72L604.5,916.65L605,916.92L605.5,916.23L606,916.76L606.5,916.64L607,916.15L607.5,916.66L608,917.01L608.5,916.85L609,916.7L609.5,916.13L610,916.54L610.5,916.66L611,916.38L611.5,916.25L612,916.8L612.5,916.22L613,916.37L613.5,916.48L614,917.23L614.5,916.55L615,916.23L615.5,916.67L616,915.99L616.5,916.58L617,916.87L617.5,916.44L618,916.52L618.5,916.38L619,916.66L619.5,916.25L620,916.75L620.5,916.56L621,916.93L621.5,916.81L622,916.55L622.5,916.77L623,916.72L623.5,916.65L624,916.53L624.5,916.4L625,916.39L625.5,916.33L626,916.54L626.5,916.74L627,917.02L627.5,916.69L628,916.81L628.5,917.08L629,916.16L629.5,917.09L630,916.5L630.5,916.45L631,916.66L631.5,915.91L632,916.59L632.5,916.8L633,916.13L633.5,916.81L634,916.98L634.5,916.87L635,916.77L635.5,916.59L636,916.51L636.5,917.01L637,916.51L637.5,916L638,916.79L638.5,916.63L639,916.41L639.5,916.28L640,916.78L640.5,916.86L641,916.87L641.5,916.31L642,916.36L642.5,917.18L643,917.17L643.5,916.93L644,917L644.5,916.49L645,916.54L645.5,916.08L646,916.39L646.5,916.57L647,916.28L647.5,916.84L648,916.97L648.5,916.59L649,916.35L649.5,917.03L650,916.36L650.5,916.37L651,916.73L651.5,916.55L652,916.67L652.5,916.58L653,916.38L653.5,916.82L654,916.32L654.5,916.37L655,916.36L655.5,917.13L656,917.1L656.5,916.41L657,916.76L657.5,916.79L658,916.81L658.5,916.96L659,916.68L659.5,916.79L660,916.78L660.5,916.47L661,916.92L661.5,916.3L662,917.2L662.5,915.93L663,916.97L663.5,916.44L664,916.36L664.5,916.6L665,916.4L665.5,916.63L666,917.07" fill="none" stroke="#ed7d31" stroke-width="2.8" stroke-linejoin="round"/>
<path d="M67,953.68L67.5,953.46L68,953.93L68.5,954.24L69,953.94L69.5,953.69L70,953.69L70.5,953.47L71,953.62L71.5,953.63L72,954.32L72.5,953.16L73,953.75L73.5,953.53L74,953.86L74.5,953.8L75,953.74L75.5,953.33L76,953.34L76.5,953.59L77,953.2L77.5,953.86L78,953.61L78.5,953.87L79,953.38L79.5,953.73L80,953.47L80.5,953.25L81,954.31L81.5,953.12L82,953.63L82.5,953.8L83,954.25L83.5,953.78L84,954.34L84.5,953.65L85,953.7L85.5,953.1L86,953.68L86.5,953.22L87,953.11L87.5,952.74L88,953.31L88.5,952.85L89,953.37L89.5,953.02L90,952.49L90.5,952.12L91,952.22L91.5,951.64L92,950.95L92.5,951.1L93,950.78L93.5,950.91L94,950.05L94.5,949.95L95,950.65L95.5,950.96L96,950.6L96.5,951.31L97,952.01L97.5,952.53L98,952.56L98.5,951.92L99,953.04L99.5,952.13L100,953.19L100.5,953.37L101,953L101.5,953.53L102,953.39L102.5,953.84L103,953.92L103.5,953.79L104,953.51L104.5,953.77L105,954.15L105.5,953.44L106,953.62L106.5,953.64L107,953.73L107.5,954.2L108,953.06L108.5,953.64L109,953.32L109.5,953.03L110,953.07L110.5,953.29L111,953.26L111.5,953.05L112,952.69L112.5,952.55L113,952.55L113.5,951.8L114,951.22L114.5,950.34L115,949.58L115.5,948.01L116,947.18L116.5,945.5L117,944.41L117.5,943.27L118,942.19L118.5,940.83L119,939.86L119.5,939.3L120,940.15L120.5,940.99L121,941.99L121.5,942.47L122,944.38L122.5,946.08L123,946.97L123.5,949.05L124,949.62L124.5,950.62L125,951.41L125.5,952.35L126,952.09L126.5,952.21L127,953.4L127.5,953.12L128,953.09L128.5,952.69L129,953.55L129.5,953.75L130,953.51L130.5,952.94L131,953.53L131.5,953.49L132,953.07L132.5,954.22L133,954.24L133.5,953.36L134,953.41L134.5,954.04L135,953.51L135.5,953.65L136,953.61L136.5,953.9L137,953.81L137.5,953.93L138,953.68L138.5,953.76L139,953.22L139.5,953.53L140,954.15L140.5,953.59L141,953.31L141.5,953.64L142,953.41L142.5,953.73L143,953.53L143.5,953.99L144,953.51L144.5,954.12L145,953.37L145.5,954.16L146,954.33L146.5,953.59L147,953.79L147.5,953.71L148,953.62L148.5,953.75L149,953.99L149.5,953.69L150,953.65L150.5,953.61L151,953.19L151.5,953.95L152,953.73L152.5,953.59L153,953.87L153.5,954.08L154,953.91L154.5,953.46L155,953.83L155.5,953.58L156,953.96L156.5,953.63L157,953.94L157.5,953.99L158,953.72L158.5,953.74L159,953.34L159.5,954.2L160,953.61L160.5,953.3L161,953.37L161.5,953.85L162,953.93L162.5,953.87L163,953.65L163.5,953.67L164,953.61L164.5,953.52L165,953.97L165.5,953.96L166,953.96L166.5,953.95L167,953.54L167.5,953.36L168,952.64L168.5,953.18L169,953.28L169.5,952.8L170,953.42L170.5,953.07L171,952.87L171.5,952.93L172,953.08L172.5,953.34L173,953.66L173.5,953.39L174,953.58L174.5,953.25L175,953.55L175.5,953.4L176,954.07L176.5,953.36L177,953.91L177.5,954.13L178,954.09L178.5,953.9L179,953.41L179.5,953.54L180,954.07L180.5,953.72L181,953.78L181.5,954.18L182,954.02L182.5,954.32L183,953.99L183.5,954.49L184,953.97L184.5,954.01L185,953.97L185.5,953.98L186,953.43L186.5,953.85L187,953.68L187.5,953.54L188,953.5L188.5,953.56L189,953.9L189.5,954.05L190,953.96L190.5,953.88L191,953.75L191.5,953.77L192,953.44L192.5,953.77L193,953.25L193.5,953.46L194,953.88L194.5,953.5L195,954.54L195.5,953.35L196,953.62L196.5,953.62L197,954.2L197.5,953.03L198,953.8L198.5,953.77L199,953.41L199.5,953.78L200,953.96L200.5,953.53L201,954L201.5,953.5L202,953.67L202.5,953.39L203,954.04L203.5,953.35L204,953.61L204.5,953.13L205,953.86L205.5,953.14L206,953.45L206.5,953.41L207,953.82L207.5,953.42L208,953.34L208.5,953.72L209,953.75L209.5,953.53L210,952.72L210.5,952.96L211,952.53L211.5,952.52L212,952.34L212.5,952.05L213,952.01L213.5,951.21L214,951.36L214.5,951.17L215,951.62L215.5,950.99L216,951.36L216.5,951.41L217,951.04L217.5,951.97L218,951.9L218.5,951.87L219,951.95L219.5,952.72L220,952.66L220.5,952.85L221,953.44L221.5,953.86L222,953.88L222.5,953.19L223,953.38L223.5,953.84L224,953.66L224.5,953.6L225,953.59L225.5,953.49L226,952.82L226.5,953.69L227,953.41L227.5,953.66L228,953.6L228.5,953.65L229,953.42L229.5,953.48L230,953.15L230.5,953.12L231,953.36L231.5,952.35L232,953.15L232.5,952.43L233,951.52L233.5,952.07L234,950.85L234.5,950.16L235,949.75L235.5,949.63L236,947.27L236.5,946.54L237,945.41L237.5,943.16L238,942.49L238.5,940.17L239,939.46L239.5,937.67L240,937.4L240.5,936.35L241,936.25L241.5,936.19L242,936.19L242.5,937.16L243,938.08L243.5,938.9L244,941L244.5,943.29L245,944.13L245.5,945.44L246,946.43L246.5,947.67L247,948.78L247.5,950.14L248,950.59L248.5,951.93L249,951.49L249.5,952.17L250,952.44L250.5,952.95L251,952.98L251.5,953.33L252,953.04L252.5,953.69L253,953.05L253.5,953.22L254,952.81L254.5,953.46L255,953.49L255.5,953.43L256,953.49L256.5,953.55L257,953.86L257.5,953.87L258,953.72L258.5,953.65L259,953.92L259.5,953.92L260,953.68L260.5,953.39L261,953.66L261.5,953.42L262,953.34L262.5,953.4L263,953.75L263.5,953.75L264,954.17L264.5,953.83L265,953.5L265.5,953.94L266,953.24L266.5,953.21L267,953.72L267.5,953.34L268,954.01L268.5,953.89L269,953.67L269.5,953.54L270,953.57L270.5,953.74L271,952.87L271.5,953.32L272,953.28L272.5,953.11L273,953.2L273.5,953.27L274,953.31L274.5,953.57L275,952.54L275.5,953.22L276,953.39L276.5,953.06L277,953.25L277.5,952.05L278,952.52L278.5,952.14L279,952.1L279.5,952.37L280,952.36L280.5,952.79L281,952.6L281.5,952.8L282,952.63L282.5,952.92L283,952.35L283.5,952.57L284,952.92L284.5,953.47L285,952.81L285.5,952.82L286,953.18L286.5,953.61L287,953.16L287.5,953.03L288,953.97L288.5,953.28L289,954.02L289.5,953.51L290,953.06L290.5,953.57L291,953.48L291.5,953.73L292,953.66L292.5,953.01L293,953.31L293.5,953.79L294,953.81L294.5,953.71L295,953.11L295.5,953.67L296,953.42L296.5,953.83L297,954.09L297.5,953.37L298,953.76L298.5,953.96L299,953.94L299.5,953.93L300,953.91L300.5,954.17L301,953.42L301.5,953.64L302,953.48L302.5,953.85L303,953.66L303.5,953.71L304,953.43L304.5,953.53L305,953.66L305.5,953.94L306,954.09L306.5,953.98L307,953.93L307.5,953.91L308,954.1L308.5,953.3L309,953.69L309.5,954.31L310,954.06L310.5,954.13L311,953.7L311.5,953.47L312,954.03L312.5,953.59L313,953.84L313.5,953.45L314,953.39L314.5,953.68L315,953.57L315.5,953.77L316,953.87L316.5,954.08L317,953.68L317.5,953.78L318,953.87L318.5,953.79L319,953.82L319.5,954.05L320,953.91L320.5,953.45L321,953.83L321.5,953.39L322,954.08L322.5,954.14L323,953.73L323.5,953.56L324,953.95L324.5,953.6L325,953.51L325.5,953.47L326,953.8L326.5,953.78L327,954.22L327.5,953.76L328,953.69L328.5,953.38L329,954.11L329.5,954L330,954.04L330.5,953.52L331,954.46L331.5,954.06L332,953.21L332.5,953.59L333,954.13L333.5,953.78L334,953.54L334.5,953.62L335,953.83L335.5,953.98L336,953.54L336.5,953.77L337,953.55L337.5,953.66L338,953.89L338.5,953.37L339,953.9L339.5,953.65L340,953.94L340.5,953.83L341,953.83L341.5,953.95L342,953.7L342.5,953.41L343,953.26L343.5,953.37L344,953.81L344.5,953.37L345,953.65L345.5,953.28L346,954.11L346.5,953.36L347,953.93L347.5,953.45L348,953.89L348.5,953.51L349,953.84L349.5,954.27L350,954.03L350.5,953.83L351,953.75L351.5,954.37L352,954.09L352.5,953.96L353,953.82L353.5,953.7L354,953.98L354.5,954.17L355,953.68L355.5,953.85L356,953.52L356.5,953.9L357,953.58L357.5,954L358,953.68L358.5,953.73L359,953.63L359.5,954.01L360,953.79L360.5,953.99L361,953.8L361.5,953.58L362,952.94L362.5,953.74L363,953.56L363.5,953.72L364,953.44L364.5,953.62L365,953.47L365.5,953.65L366,953.09L366.5,953.37L367,954.21L367.5,953.67L368,953.73L368.5,954.35L369,953.98L369.5,953.87L370,953.94L370.5,953.71L371,954.23L371.5,953.54L372,953.53L372.5,953.64L373,953.83L373.5,953.74L374,953.86L374.5,953.42L375,953.6L375.5,953.19L376,953.83L376.5,953.33L377,953.89L377.5,953.78L378,954.02L378.5,953.58L379,953.74L379.5,953.56L380,953.32L380.5,953.74L381,953.62L381.5,953.47L382,953.74L382.5,953.87L383,953.62L383.5,953.58L384,953.5L384.5,953.48L385,953.9L385.5,953.59L386,953.37L386.5,953.84L387,953.6L387.5,953.87L388,953.66L388.5,953.22L389,953.65L389.5,953.96L390,953.6L390.5,953.63L391,953.38L391.5,954.07L392,953.94L392.5,953.7L393,954.11L393.5,953.36L394,954.24L394.5,953.9L395,954.08L395.5,953.85L396,953.44L396.5,953.49L397,953.4L397.5,953.48L398,954.22L398.5,953.56L399,954.16L399.5,953.78L400,953.74L400.5,953.78L401,953.49L401.5,953.85L402,953.13L402.5,953.44L403,953.27L403.5,953.39L404,953.34L404.5,953.6L405,953.02L405.5,953.87L406,953.44L406.5,953.56L407,953.62L407.5,953.45L408,953.75L408.5,953.28L409,953.29L409.5,953.48L410,953.29L410.5,953.79L411,954L411.5,953.63L412,953.52L412.5,952.71L413,953.49L413.5,953.1L414,953.14L414.5,952.75L415,953.32L415.5,953.14L416,953.37L416.5,953.54L417,953.56L417.5,953.47L418,952.78L418.5,953.08L419,953.17L419.5,953.08L420,953.2L420.5,952.97L421,952.9L421.5,952.59L422,952.39L422.5,953.05L423,952.28L423.5,951.68L424,952.19L424.5,951.6L425,951.03L425.5,950.19L426,949.74L426.5,949.28L427,948.13L427.5,946.88L428,945.93L428.5,943.96L429,943.02L429.5,941.97L430,940.02L430.5,937.76L431,935.73L431.5,933.2L432,931.18L432.5,928.38L433,926.82L433.5,924.6L434,924.16L434.5,922.64L435,921.03L435.5,920.72L436,920.22L436.5,920.64L437,921.73L437.5,921.48L438,923.13L438.5,926.19L439,927.55L439.5,929.23L440,931.01L440.5,933.52L441,936.26L441.5,937.3L442,939.74L442.5,940.96L443,943.04L443.5,944.29L444,945.72L444.5,946.91L445,948.47L445.5,948.78L446,949.83L446.5,950.97L447,951.18L447.5,951.57L448,951.64L448.5,951.85L449,952.65L449.5,952.24L450,952.62L450.5,953.04L451,952.54L451.5,953.1L452,953.29L452.5,952.73L453,952.72L453.5,953.22L454,952.71L454.5,952.73L455,953.18L455.5,952.41L456,953.01L456.5,952.88L457,953.64L457.5,952.65L458,952.96L458.5,952.54L459,953.11L459.5,952.09L460,951.85L460.5,951.55L461,952.96L461.5,951.62L462,951.5L462.5,952.43L463,951.45L463.5,951.02L464,950.29L464.5,950.87L465,950.31L465.5,950.23L466,949.94L466.5,950.09L467,949.54L467.5,949.46L468,950.28L468.5,949.41L469,950.15L469.5,950.08L470,949.71L470.5,950.24L471,950.25L471.5,950.38L472,950.67L472.5,951.28L473,951.64L473.5,951.31L474,951.51L474.5,951.85L475,952.23L475.5,952.08L476,952.53L476.5,953.1L477,952.73L477.5,952.78L478,952.81L478.5,953.41L479,953.44L479.5,953.19L480,953.48L480.5,953.42L481,953.17L481.5,953.36L482,952.98L482.5,953.45L483,953.06L483.5,953.26L484,952.86L484.5,953.59L485,953.62L485.5,953.24L486,953.76L486.5,953.75L487,953.56L487.5,953.53L488,954.03L488.5,953.57L489,953.73L489.5,953.66L490,953.6L490.5,953.71L491,953.36L491.5,953.53L492,953.72L492.5,953.65L493,953.38L493.5,953.46L494,953.33L494.5,953.71L495,953.64L495.5,953.13L496,953.69L496.5,953.22L497,953.45L497.5,953.8L498,954.07L498.5,953.52L499,953.88L499.5,953.89L500,954.17L500.5,953.37L501,953.67L501.5,953.69L502,953.59L502.5,953.64L503,953.68L503.5,953.56L504,953.78L504.5,954.41L505,953.51L505.5,953.59L506,953.7L506.5,953.28L507,954.09L507.5,954.49L508,953.31L508.5,953.6L509,954.16L509.5,953.83L510,953.55L510.5,954.05L511,953.57L511.5,953.15L512,953.35L512.5,953.73L513,953.64L513.5,953.98L514,953.69L514.5,953.81L515,953.99L515.5,954.09L516,953.21L516.5,953.7L517,954L517.5,953.84L518,953.33L518.5,953.29L519,953.89L519.5,953.68L520,953.49L520.5,953.82L521,954.05L521.5,953.99L522,953.73L522.5,953.94L523,954.08L523.5,953.8L524,953.49L524.5,953.55L525,953.8L525.5,953.23L526,953.95L526.5,953.76L527,954.1L527.5,953.53L528,953.77L528.5,954.19L529,953.96L529.5,953.26L530,953.55L530.5,953.71L531,953.51L531.5,954.17L532,953.96L532.5,954.1L533,953.96L533.5,953.85L534,953.6L534.5,953.48L535,953.48L535.5,953.03L536,953.88L536.5,953.75L537,953.61L537.5,953.97L538,953.82L538.5,953.64L539,953.98L539.5,953.62L540,953.42L540.5,954.05L541,954.36L541.5,953.73L542,954.03L542.5,953.7L543,953.87L543.5,953.67L544,953.45L544.5,953.54L545,953.85L545.5,954.06L546,954.41L546.5,954.33L547,953.97L547.5,953.73L548,953.94L548.5,953.92L549,954.18L549.5,954.2L550,954.22L550.5,953.6L551,954.29L551.5,953.58L552,954L552.5,953.62L553,953.7L553.5,953.57L554,953.45L554.5,953.98L555,954.03L555.5,953.89L556,953.98L556.5,953.6L557,953.8L557.5,953.77L558,953.67L558.5,953.9L559,953.49L559.5,954.27L560,953.72L560.5,953.65L561,953.98L561.5,953.96L562,953.54L562.5,953.87L563,954.29L563.5,954.14L564,953.52L564.5,954.02L565,953.44L565.5,953.42L566,953.84L566.5,953.64L567,954L567.5,953.89L568,953.97L568.5,953.63L569,954.12L569.5,953.82L570,953.77L570.5,953.65L571,954.35L571.5,954.26L572,954.02L572.5,953.85L573,953.75L573.5,953.74L574,953.25L574.5,953.61L575,953.63L575.5,953.92L576,953.58L576.5,953.61L577,953.61L577.5,953.82L578,953.62L578.5,953.39L579,954L579.5,954.36L580,953.57L580.5,953.6L581,953.85L581.5,953.91L582,953.06L582.5,953.91L583,954.11L583.5,953.92L584,953.66L584.5,953.95L585,953.89L585.5,953.71L586,953.91L586.5,953.76L587,953.8L587.5,954.07L588,953.77L588.5,954.1L589,953.55L589.5,954.04L590,953.86L590.5,954.27L591,953.91L591.5,954.12L592,953.4L592.5,953.83L593,953.66L593.5,954.25L594,954.12L594.5,953.84L595,954.15L595.5,953.49L596,953.9L596.5,953.76L597,953.72L597.5,953.83L598,953.59L598.5,953.97L599,953.7L599.5,953.48L600,953.74L600.5,953.76L601,953.88L601.5,953.78L602,953.62L602.5,953.86L603,954.24L603.5,953.75L604,953.84L604.5,953.67L605,953.79L605.5,953.39L606,954.11L606.5,954.05L607,953.63L607.5,954.07L608,953.71L608.5,953.8L609,954.31L609.5,953.62L610,953.44L610.5,953.74L611,954.16L611.5,953.59L612,954.07L612.5,953.83L613,953.69L613.5,954L614,954.24L614.5,953.84L615,953.81L615.5,954.02L616,954L616.5,953.61L617,953.82L617.5,953.92L618,953.95L618.5,953.76L619,953.78L619.5,953.84L620,954.16L620.5,953.9L621,953.96L621.5,953.78L622,953.5L622.5,953.55L623,953.63L623.5,953.77L624,953.88L624.5,953.71L625,953.92L625.5,953.89L626,954.02L626.5,953.82L627,953.82L627.5,953.33L628,953.66L628.5,953.9L629,953.6L629.5,953.92L630,953.54L630.5,953.6L631,953.06L631.5,954.08L632,953.82L632.5,953.83L633,953.73L633.5,953.62L634,954.05L634.5,953.99L635,953.72L635.5,953.55L636,954.09L636.5,954.2L637,953.51L637.5,953.59L638,953.52L638.5,954.05L639,953.85L639.5,953.74L640,953.69L640.5,953.83L641,953.82L641.5,953.54L642,953.91L642.5,953.94L643,953.91L643.5,953.93L644,953.77L644.5,953.86L645,953.91L645.5,953.44L646,953.73L646.5,953.89L647,953.48L647.5,953.94L648,953.8L648.5,953.83L649,953.95L649.5,953.9L650,953.78L650.5,954.17L651,953.9L651.5,953.74L652,953.73L652.5,953.73L653,953.21L653.5,953.63L654,953.84L654.5,953.83L655,953.8L655.5,953.69L656,953.88L656.5,953.42L657,954.08L657.5,953.64L658,953.68L658.5,954.09L659,953.65L659.5,953.66L660,953.96L660.5,953.22L661,953.63L661.5,953.89L662,953.92L662.5,953.99L663,953.74L663.5,953.79L664,954.16L664.5,954.07L665,953.98L665.5,953.91L666,953.9" fill="none" stroke="#4472c4" stroke-width="2.8" stroke-linejoin="round"/>
<text x="560.4" y="726.3" font-family="Liberation Serif, serif" font-weight="bold" font-size="20.5" fill="#ff0000" textLength="57.6" lengthAdjust="spacingAndGlyphs">DK10</text>
<text x="536" y="769.1" font-family="Liberation Serif, serif" font-weight="bold" font-size="20.5" fill="#7030a0" textLength="99.3" lengthAdjust="spacingAndGlyphs">SF15LS10</text>
<text x="528.6" y="811.5" font-family="Liberation Serif, serif" font-weight="bold" font-size="20.5" fill="#00b050" textLength="105.9" lengthAdjust="spacingAndGlyphs">SF15DK10</text>
<text x="496.6" y="851" font-family="Liberation Serif, serif" font-weight="bold" font-size="20.5" fill="#000000" textLength="158.1" lengthAdjust="spacingAndGlyphs">SF15LS10DK10</text>
<text x="563.6" y="896.8" font-family="Liberation Serif, serif" font-weight="bold" font-size="20.5" fill="#ed7d31" textLength="48" lengthAdjust="spacingAndGlyphs">SF15</text>
<text x="561.5" y="946.2" font-family="Liberation Serif, serif" font-weight="bold" font-size="20.5" fill="#4472c4" textLength="47.3" lengthAdjust="spacingAndGlyphs">Cont</text>
</svg></body></html>
